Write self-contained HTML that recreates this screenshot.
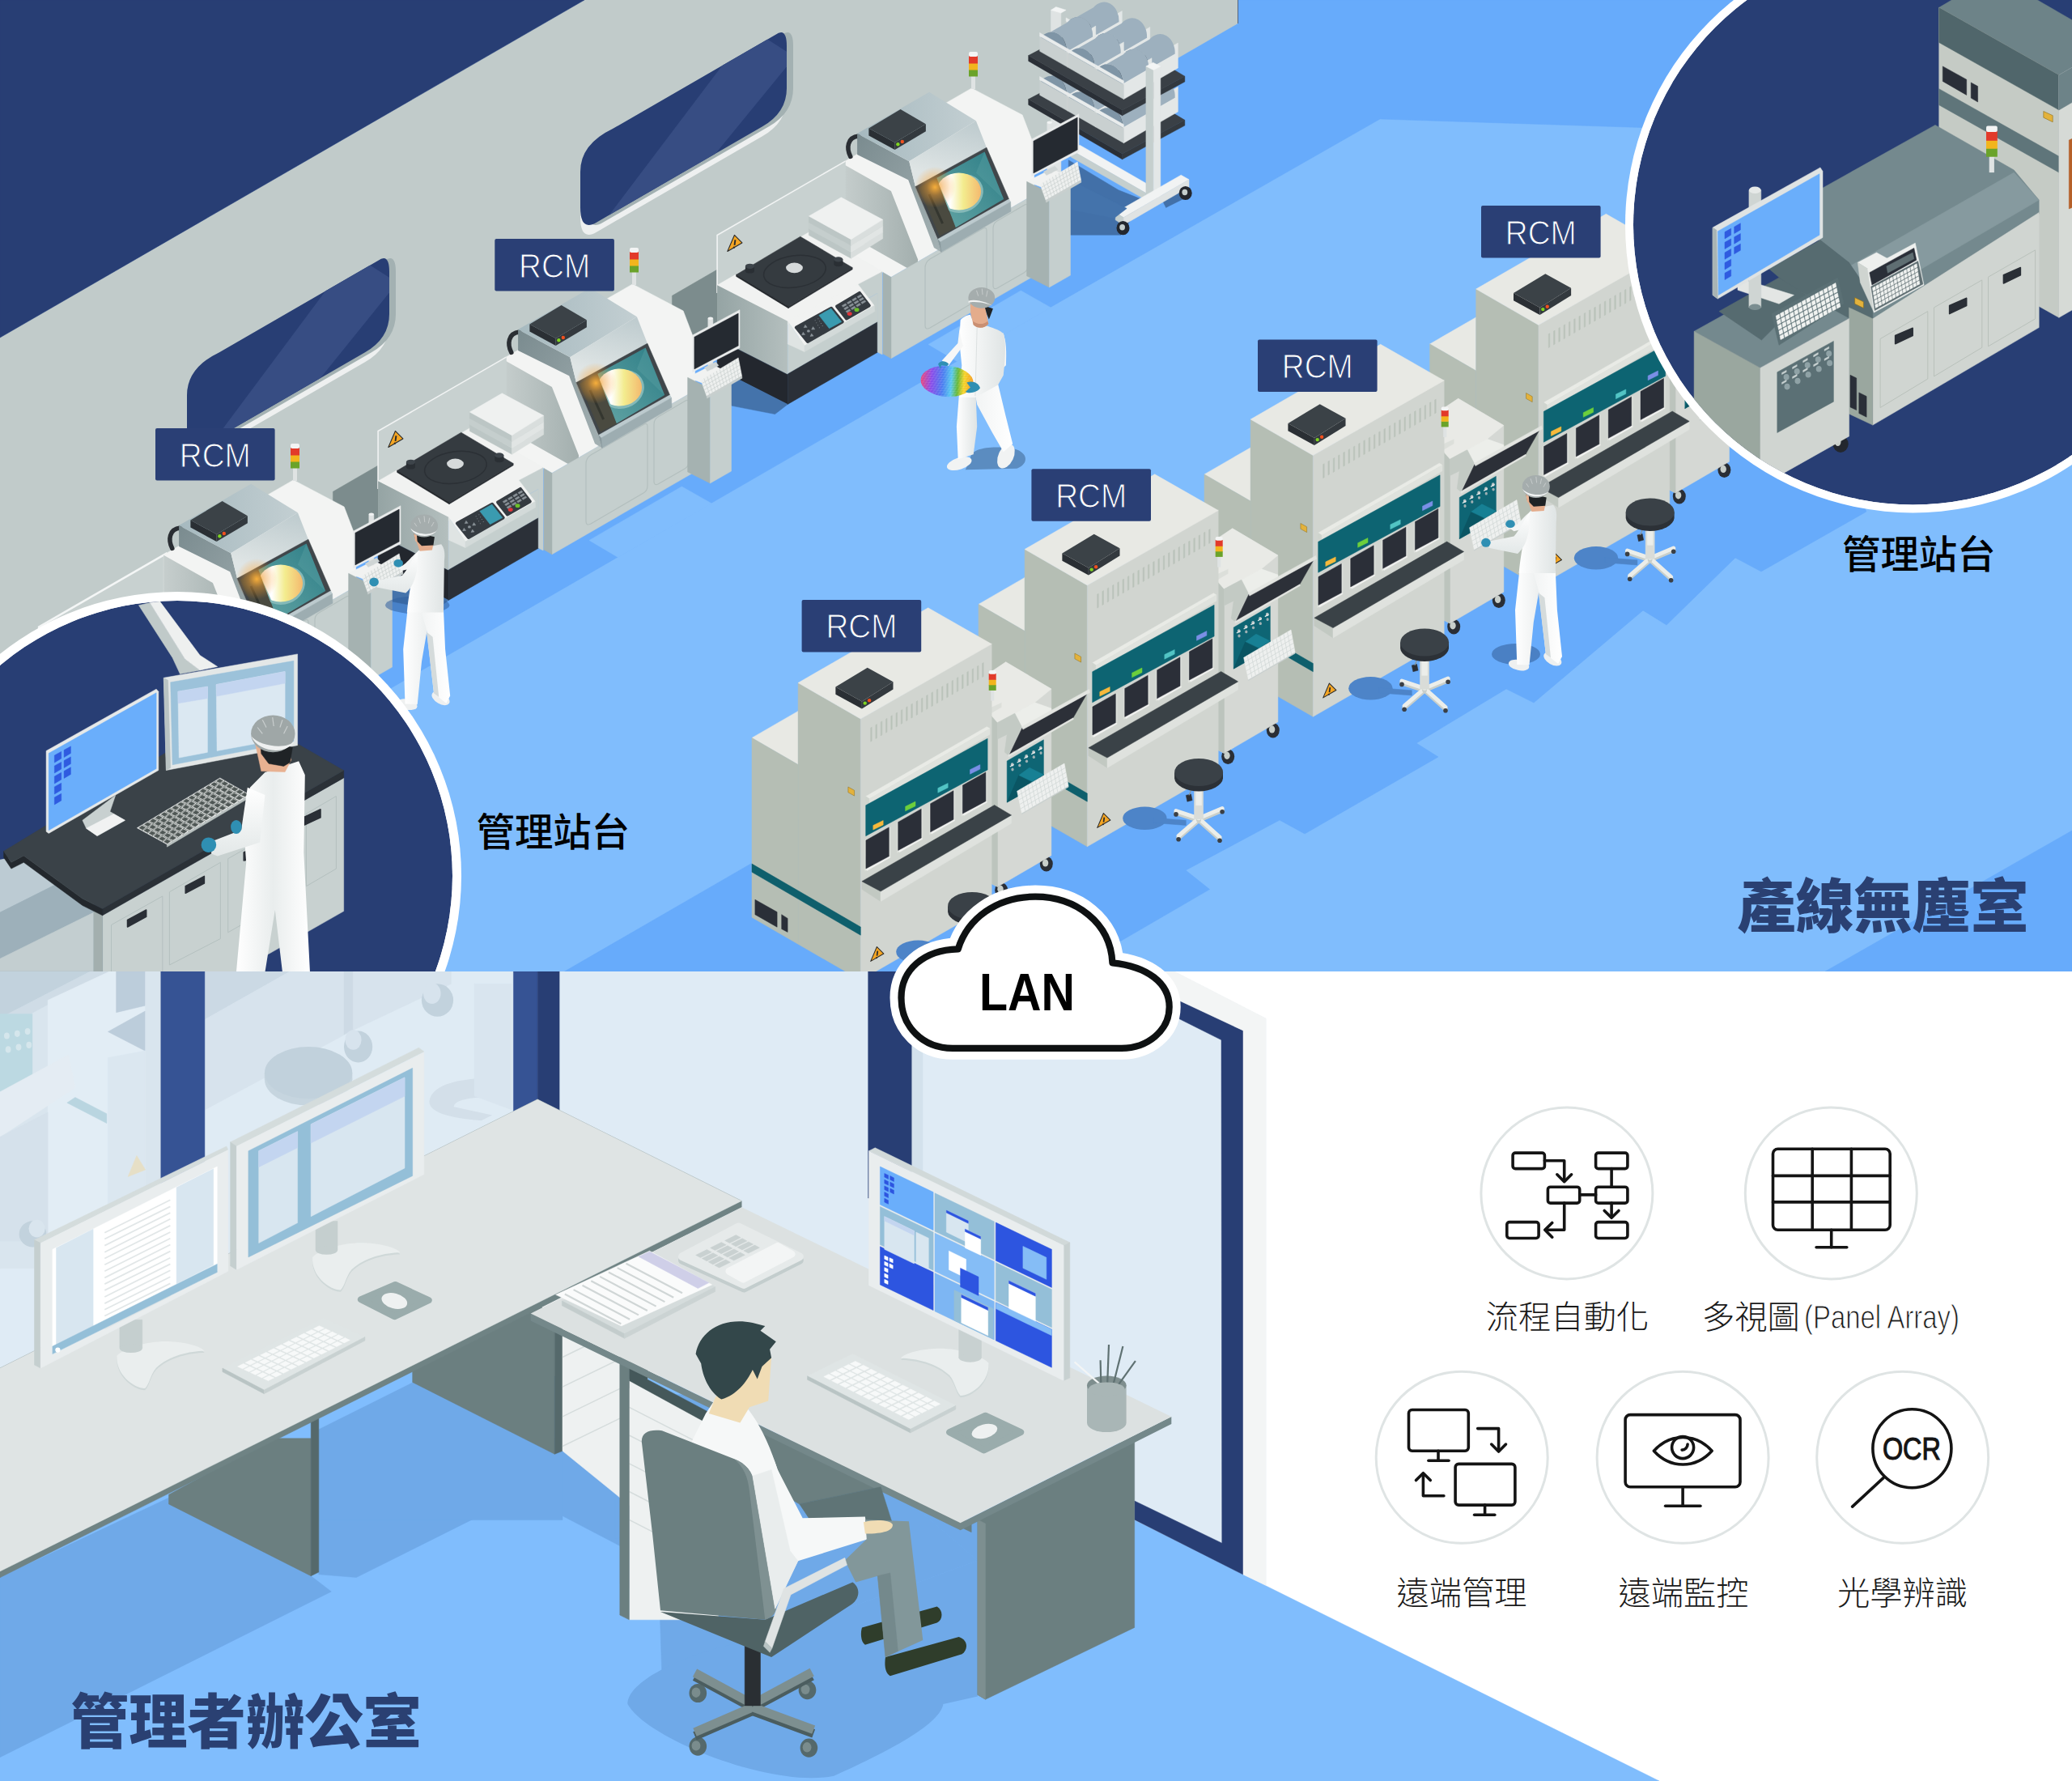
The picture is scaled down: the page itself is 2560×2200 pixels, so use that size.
<!DOCTYPE html>
<html><head><meta charset="utf-8"><title>RCM</title>
<style>html,body{margin:0;padding:0;background:#fff}svg{display:block}
text{font-family:"Liberation Sans","Noto Sans CJK TC",sans-serif}</style></head>
<body><svg width="2560" height="2200" viewBox="0 0 2560 2200">
<defs>
<linearGradient id="gSuit" x1="0" y1="0" x2="1" y2="0"><stop offset="0" stop-color="#ffffff"/><stop offset="1" stop-color="#dfe4e4"/></linearGradient>
<linearGradient id="gSuit2" x1="0" y1="0" x2="1" y2="0"><stop offset="0" stop-color="#f2f4f4"/><stop offset="1" stop-color="#ffffff"/></linearGradient>
<linearGradient id="gSuitB" x1="0" y1="0" x2="1" y2="0"><stop offset="0" stop-color="#ffffff"/><stop offset="0.5" stop-color="#e9eded"/><stop offset="1" stop-color="#ffffff"/></linearGradient>
<linearGradient id="gSuitB2" x1="0" y1="0" x2="0" y2="1"><stop offset="0" stop-color="#ffffff"/><stop offset="1" stop-color="#e3e8e8"/></linearGradient>
<clipPath id="topclip"><rect x="0" y="0" width="2560" height="1200"/></clipPath>
<clipPath id="botclip"><rect x="0" y="1200" width="2560" height="1000"/></clipPath>
<clipPath id="wc481"><path d="M271.0 435.2 L467.0 322.1 Q481.0 312.0 481.0 336.0 L481.0 388.0 Q481.0 418.0 451.0 435.3 L251.0 550.8 Q231.0 562.3 231.0 532.3 L231.0 488.3 Q231.0 454.3 271.0 435.2 Z"/></clipPath>
<clipPath id="wc972"><path d="M757.0 159.1 L958.0 43.1 Q972.0 33.0 972.0 57.0 L972.0 109.0 Q972.0 139.0 942.0 156.3 L737.0 274.7 Q717.0 286.2 717.0 256.2 L717.0 212.2 Q717.0 178.2 757.0 159.1 Z"/></clipPath>
<clipPath id="scrClip"><polygon points="738.0,462.0 797.5,429.5 821.1,487.9 761.5,523.3"/></clipPath>
<clipPath id="wafClip"><polygon points="738.0,463.1 818.0,423.1 818.0,525.0 758.1,508.0"/></clipPath>
<linearGradient id="gRis" x1="0" y1="0" x2="1" y2="0"><stop offset="0" stop-color="#c6cecd"/><stop offset="1" stop-color="#a3afae"/></linearGradient>
<linearGradient id="gHouL" x1="0" y1="0" x2="1" y2="1"><stop offset="0" stop-color="#7a8b8f"/><stop offset="1" stop-color="#a4b1b3"/></linearGradient>
<linearGradient id="gHouT" x1="0" y1="0" x2="1" y2="0"><stop offset="0" stop-color="#a6b9bf"/><stop offset="1" stop-color="#c3cfd2"/></linearGradient>
<linearGradient id="gSlant" x1="0.5" y1="0" x2="0.3" y2="1"><stop offset="0" stop-color="#bfcccf"/><stop offset="0.45" stop-color="#dfe5e5"/><stop offset="1" stop-color="#dfe5e5"/></linearGradient>
<linearGradient id="gTeal" x1="1" y1="0" x2="0" y2="1"><stop offset="0" stop-color="#2c7d86"/><stop offset="1" stop-color="#64a5a5"/></linearGradient>
<linearGradient id="gWaf" x1="0" y1="0" x2="1" y2="0"><stop offset="0" stop-color="#e6ecff"/><stop offset="0.3" stop-color="#ffffff"/><stop offset="0.6" stop-color="#f3ec8e"/><stop offset="1" stop-color="#f4b96e"/></linearGradient>
<radialGradient id="gGlow"><stop offset="0" stop-color="#ffb43c" stop-opacity=".95"/><stop offset="0.4" stop-color="#ffa733" stop-opacity=".45"/><stop offset="1" stop-color="#ff9a20" stop-opacity="0"/></radialGradient>
<linearGradient id="gTL" x1="0" y1="0" x2="1" y2="0"><stop offset="0" stop-color="#95a4a4"/><stop offset="1" stop-color="#b4bfbe"/></linearGradient>
<g id="scope">
<polygon points="621.3,443.2 781.5,350.9 844.2,384.0 858.1,420.5 859.0,482.1 681.9,584.3 672.0,578.6 621.3,549.3" fill="#f3f4f3"  stroke="#f3f4f3" stroke-width=".5"/>
<polygon points="621.2,443.7 681.9,477.9 715.0,562.2 715.0,580.5 621.2,527.4" fill="url(#gRis)" />
<polygon points="682.0,584.4 859.0,482.2 859.0,582.6 682.0,684.8" fill="#c5cfce"  stroke="#c5cfce" stroke-width=".5"/>
<polygon points="672.0,578.6 682.0,584.4 682.0,684.8 672.0,679.0" fill="#a5b2b1"  stroke="#a5b2b1" stroke-width=".5"/>
<path d="M724 573 Q724 566 730 562 L796 524 Q800 522 800 527 L800 600 Q800 606 795 609 L730 647 Q724 650 724 644 Z" fill="none" stroke="#b3bfbe" stroke-width="1.2"/>
<path d="M808 524 Q808 518 813 515 L847 495 Q851 493 851 498 L851 570 Q851 576 846 579 L813 598 Q808 600 808 595 Z" fill="none" stroke="#b3bfbe" stroke-width="1.2"/>
<path d="M 641.8 410.1 C 627.7 411.8 626.5 424.8 631.8 435.4" fill="none" stroke="#2a2e33" stroke-width="5.5" stroke-linecap="round"/>
<polygon points="640.1,407.1 704.3,441.3 712.0,472.6 739.1,536.9 743.9,553.4 735.0,548.1 703.2,464.3 640.1,433.1" fill="url(#gHouL)" />
<polygon points="640.1,407.1 729.1,355.8 786.9,391.2 704.3,441.3" fill="url(#gHouT)" />
<polygon points="704.3,441.3 786.9,391.2 799.9,424.2 828.2,488.5 830.0,503.2 743.9,553.4 739.1,536.9 712.0,472.6" fill="url(#gSlant)" />
<polygon points="712.0,472.6 799.9,424.2 827.6,487.9 739.7,537.4" fill="#40464a"  stroke="#40464a" stroke-width=".5"/>
<polygon points="738.0,462.0 797.5,429.5 821.1,487.9 761.5,523.3" fill="url(#gTeal)" />
<polygon points="797.5,429.5 821.1,487.9 786.9,455.5" fill="#5fa3a5" opacity=".35"/>
<polygon points="716.1,474.3 738.0,462.0 761.5,523.3 742.1,533.3" fill="#4a4a40"  stroke="#4a4a40" stroke-width=".5"/>
<polyline points="729.1,482.0 745.6,518.0" fill="none" stroke="#34362f" stroke-width="3.00" />
<g clip-path="url(#scrClip)">
<ellipse cx="768.6" cy="480.8" rx="27.7" ry="23.6" fill="#84b9b8" transform="rotate(-20 768.6 480.8)"/>
</g>
<g clip-path="url(#wafClip)">
<ellipse cx="765.7" cy="478.5" rx="27.4" ry="23.1" fill="url(#gWaf)" />
</g>
<ellipse cx="736.2" cy="473.2" rx="25.4" ry="25.4" fill="url(#gGlow)" />
<polygon points="739.7,537.4 827.6,487.9 829.6,491.4 742.7,541.0" fill="#bccace"  stroke="#bccace" stroke-width=".5"/>
<polygon points="742.7,541.0 829.6,491.4 830.0,503.2 743.9,553.4" fill="#9dadb1"  stroke="#9dadb1" stroke-width=".5"/>
<polygon points="739.7,537.4 742.7,541.0 743.9,553.4 739.1,536.9" fill="#87979b"  stroke="#87979b" stroke-width=".5"/>
<polygon points="654.4,400.5 686.6,417.9 686.6,427.0 654.4,409.6" fill="#2a2f34"/>
<polygon points="686.6,417.9 724.9,395.3 724.9,404.3 686.6,427.0" fill="#33393e"/>
<polygon points="654.4,400.5 693.6,377.0 724.9,395.3 686.6,417.9" fill="#3b4247"/>
<circle cx="690.4" cy="420.2" r="2.2" fill="#7ed321"/><circle cx="695.8" cy="417.0" r="2.2" fill="#f0501e"/>
</g>
<g id="stand">
<polygon points="899.2,462.0 973.2,499.4 957.5,511.6 903.5,501.1" fill="#4473ab"  stroke="#4473ab" stroke-width=".5"/>
<polygon points="849.6,466.3 880.9,450.6 903.5,462.8 877.4,476.8" fill="#f1f2f1"  stroke="#f1f2f1" stroke-width=".5"/>
<polygon points="849.6,466.3 877.4,480.2 877.4,596.9 849.6,582.9" fill="#a5b2b1"  stroke="#a5b2b1" stroke-width=".5"/>
<polygon points="877.4,480.2 903.5,466.3 903.5,582.1 877.4,596.9" fill="#c5cfce"  stroke="#c5cfce" stroke-width=".5"/>
<polygon points="874.8,393.2 880.9,393.2 880.9,455.9 874.8,455.9" fill="#dfe3e3"  stroke="#dfe3e3" stroke-width=".5"/>
<ellipse cx="877.8" cy="393.2" rx="3.1" ry="1.7" fill="#f1f3f3" />
<polygon points="855.6,414.1 914.0,382.7 914.0,429.7 855.6,459.7" fill="#e9ebeb"  stroke="#e9ebeb" stroke-width=".5"/>
<polygon points="857.9,416.2 912.2,387.1 912.2,427.1 857.9,455.9" fill="#252a31"  stroke="#252a31" stroke-width=".5"/>
<polygon points="870.4,454.1 884.4,447.2 887.9,451.5 873.9,458.5" fill="#cfd5d5"  stroke="#cfd5d5" stroke-width=".5"/>
<polygon points="866.1,469.8 912.2,441.9 916.6,464.6 873.1,489.3" fill="#eef0ef"  stroke="#eef0ef" stroke-width=".5"/>
<polygon points="873.1,489.3 916.6,464.6 916.9,467.2 873.6,492.1" fill="#c8cfce"  stroke="#c8cfce" stroke-width=".5"/>
<polyline points="867.5,473.6 913.1,446.5" fill="none" stroke="#cdd3d2" stroke-width="0.80" />
<polyline points="868.9,477.6 914.0,451.0" fill="none" stroke="#cdd3d2" stroke-width="0.80" />
<polyline points="870.3,481.5 914.8,455.5" fill="none" stroke="#cdd3d2" stroke-width="0.80" />
<polyline points="871.7,485.5 915.7,460.0" fill="none" stroke="#cdd3d2" stroke-width="0.80" />
<polyline points="869.9,467.5 876.7,487.2" fill="none" stroke="#cdd3d2" stroke-width="0.80" />
<polyline points="873.8,465.1 880.4,485.1" fill="none" stroke="#cdd3d2" stroke-width="0.80" />
<polyline points="877.6,462.8 884.0,483.0" fill="none" stroke="#cdd3d2" stroke-width="0.80" />
<polyline points="881.4,460.6 887.5,481.1" fill="none" stroke="#cdd3d2" stroke-width="0.80" />
<polyline points="885.2,458.1 891.2,479.0" fill="none" stroke="#cdd3d2" stroke-width="0.80" />
<polyline points="889.2,455.9 894.8,476.9" fill="none" stroke="#cdd3d2" stroke-width="0.80" />
<polyline points="893.1,453.6 898.5,474.8" fill="none" stroke="#cdd3d2" stroke-width="0.80" />
<polyline points="896.9,451.2 902.1,472.7" fill="none" stroke="#cdd3d2" stroke-width="0.80" />
<polyline points="900.7,448.9 905.6,470.8" fill="none" stroke="#cdd3d2" stroke-width="0.80" />
<polyline points="904.6,446.6 909.3,468.7" fill="none" stroke="#cdd3d2" stroke-width="0.80" />
<polyline points="908.4,444.2 912.9,466.7" fill="none" stroke="#cdd3d2" stroke-width="0.80" />
</g>
<g id="turn">
<polygon points="830.4,365.3 886.1,333.1 886.1,419.3 830.4,448.9" fill="#7c8c8d"  stroke="#7c8c8d" stroke-width=".5"/>
<polygon points="886.1,290.5 1044.5,199.1 1044.5,292.2 886.1,361.9" fill="#c8d1d0"  stroke="#c8d1d0" stroke-width=".5"/>
<polyline points="886.1,361.9 886.1,290.5 1044.5,199.1" fill="none" stroke="#f1f3f3" stroke-width="1.60" />
<polygon points="886.1,352.3 1002.7,284.9 1089.8,334.9 1089.8,337.5 1060.2,352.8 973.2,401.0" fill="#f1f2f1"  stroke="#f1f2f1" stroke-width=".5"/>
<polygon points="886.1,352.3 973.2,396.7 973.2,462.8 886.1,418.4" fill="url(#gTL)" />
<polygon points="886.1,418.4 973.2,462.8 973.2,499.4 886.1,455.0" fill="#23272e"  stroke="#23272e" stroke-width=".5"/>
<polygon points="973.2,424.5 1084.6,361.9 1084.6,397.5 973.2,462.0" fill="#c5cfce"  stroke="#c5cfce" stroke-width=".5"/>
<polygon points="973.2,462.0 1084.6,397.5 1084.6,435.0 973.2,499.4" fill="#2b3038"  stroke="#2b3038" stroke-width=".5"/>
<polygon points="1060.2,351.4 1090.1,335.7 1090.1,437.9 1084.2,435.0 1084.2,361.9 1068.9,370.6" fill="#c5cfce"  stroke="#c5cfce" stroke-width=".5"/>
<polygon points="973.2,396.7 1060.2,351.4 1080.2,377.5 994.0,427.1" fill="#f1f2f1"  stroke="#f1f2f1" stroke-width=".5"/>
<polygon points="973.2,396.7 994.0,427.1 994.0,434.6 973.2,424.9" fill="#dfe4e3"  stroke="#dfe4e3" stroke-width=".5"/>
<polygon points="994.0,427.1 1080.2,377.5 1080.7,384.8 994.0,434.6" fill="#d3dad9"  stroke="#d3dad9" stroke-width=".5"/>
<polygon points="983.9,404.5 1027.1,380.7 1040.7,397.5 997.9,421.9" fill="#353b41" stroke="#353b41" stroke-width="4" stroke-linejoin="round"/>
<polygon points="1011.8,389.4 1026.8,381.0 1039.8,397.5 1024.5,405.7" fill="#3a9bb0"  stroke="#3a9bb0" stroke-width=".5"/>
<polygon points="1034.1,378.4 1061.9,361.9 1073.8,377.5 1045.9,393.5" fill="#353b41" stroke="#353b41" stroke-width="4" stroke-linejoin="round"/>
<ellipse cx="1049.7" cy="387.6" rx="3.0" ry="2.4" fill="#e0353a" />
<ellipse cx="1058.5" cy="382.7" rx="3.0" ry="2.4" fill="#6cbf2a" />
<polygon points="1040.2,377.5 1044.7,374.9 1046.1,376.7 1041.6,379.3" fill="#8a9298"  stroke="#8a9298" stroke-width=".5"/>
<polygon points="1046.4,373.9 1051.0,371.3 1052.4,373.0 1047.8,375.6" fill="#8a9298"  stroke="#8a9298" stroke-width=".5"/>
<polygon points="1052.7,370.2 1057.2,367.6 1058.6,369.3 1054.1,372.0" fill="#8a9298"  stroke="#8a9298" stroke-width=".5"/>
<polygon points="1059.0,366.6 1063.5,363.9 1064.9,365.7 1060.4,368.3" fill="#8a9298"  stroke="#8a9298" stroke-width=".5"/>
<polygon points="1042.6,381.0 1047.1,378.4 1048.5,380.1 1044.0,382.7" fill="#8a9298"  stroke="#8a9298" stroke-width=".5"/>
<polygon points="1048.9,377.4 1053.4,374.7 1054.8,376.5 1050.3,379.1" fill="#8a9298"  stroke="#8a9298" stroke-width=".5"/>
<polygon points="1055.1,373.7 1059.7,371.1 1061.1,372.8 1056.5,375.4" fill="#8a9298"  stroke="#8a9298" stroke-width=".5"/>
<polygon points="1061.4,370.0 1065.9,367.4 1067.3,369.2 1062.8,371.8" fill="#8a9298"  stroke="#8a9298" stroke-width=".5"/>
<polygon points="1045.0,384.5 1049.6,381.9 1051.0,383.6 1046.4,386.2" fill="#8a9298"  stroke="#8a9298" stroke-width=".5"/>
<polygon points="1051.3,380.8 1055.8,378.2 1057.2,380.0 1052.7,382.6" fill="#8a9298"  stroke="#8a9298" stroke-width=".5"/>
<polygon points="1057.6,377.2 1062.1,374.6 1063.5,376.3 1059.0,378.9" fill="#8a9298"  stroke="#8a9298" stroke-width=".5"/>
<polygon points="1063.8,373.5 1068.4,370.9 1069.8,372.6 1065.2,375.3" fill="#8a9298"  stroke="#8a9298" stroke-width=".5"/>
<polygon points="994.9,401.2 997.2,404.3 993.2,404.7" fill="#8a9298"  stroke="#8a9298" stroke-width=".5"/>
<polygon points="1004.5,403.6 1006.8,406.8 1002.7,407.1" fill="#8a9298"  stroke="#8a9298" stroke-width=".5"/>
<polygon points="992.3,410.3 994.6,413.4 990.6,413.7" fill="#8a9298"  stroke="#8a9298" stroke-width=".5"/>
<polygon points="1002.7,412.0 1005.0,415.1 1001.0,415.5" fill="#8a9298"  stroke="#8a9298" stroke-width=".5"/>
<ellipse cx="998.9" cy="408.9" rx="1.9" ry="1.6" fill="#8a9298" />
<ellipse cx="1007.1" cy="395.8" rx="0.5" ry="0.5" fill="#8a9298" />
<ellipse cx="1010.9" cy="393.7" rx="0.5" ry="0.5" fill="#8a9298" />
<ellipse cx="1008.8" cy="398.8" rx="0.5" ry="0.5" fill="#8a9298" />
<ellipse cx="1012.7" cy="396.7" rx="0.5" ry="0.5" fill="#8a9298" />
<ellipse cx="1010.6" cy="401.7" rx="0.5" ry="0.5" fill="#8a9298" />
<ellipse cx="1014.4" cy="399.6" rx="0.5" ry="0.5" fill="#8a9298" />
<ellipse cx="1012.3" cy="404.7" rx="0.5" ry="0.5" fill="#8a9298" />
<ellipse cx="1016.2" cy="402.6" rx="0.5" ry="0.5" fill="#8a9298" />
<polygon points="909.6,339.2 988.8,292.2 1053.2,330.5 974.0,378.4" fill="#353b40"  stroke="#353b40" stroke-width=".5"/>
<polygon points="909.6,339.2 974.0,378.4 974.0,380.7 909.6,341.5" fill="#22262b"  stroke="#22262b" stroke-width=".5"/>
<polygon points="974.0,378.4 1053.2,330.5 1053.2,332.8 974.0,380.7" fill="#2a2f34"  stroke="#2a2f34" stroke-width=".5"/>
<ellipse cx="981.9" cy="335.4" rx="38.6" ry="19.5" fill="none" stroke="#2b3035" stroke-width="1.5" transform="rotate(-8 981.9 335.4)"/>
<ellipse cx="981.5" cy="330.9" rx="10.4" ry="6.3" fill="#d6dadb" />
<path d="M920.9 328.8 v6.1 a5.6 3.1 0 0 0 11.1 0 v-6.1 z" fill="#2a2f34"/>
<ellipse cx="926.5" cy="328.8" rx="5.6" ry="3.1" fill="#3d444a" />
<path d="M1030.3 320.4 v6.1 a5.6 3.1 0 0 0 11.1 0 v-6.1 z" fill="#2a2f34"/>
<ellipse cx="1035.8" cy="320.4" rx="5.6" ry="3.1" fill="#3d444a" />
<polygon points="999.3,282.6 1051.5,311.4 1051.5,319.2 999.3,290.5" fill="#bcc6c5"  stroke="#bcc6c5" stroke-width=".5"/>
<polygon points="1051.5,311.4 1090.7,287.0 1090.7,294.8 1051.5,319.2" fill="#d9dedd"  stroke="#d9dedd" stroke-width=".5"/>
<polygon points="999.3,274.8 1051.5,303.5 1051.5,311.4 999.3,282.6" fill="#c5cecd"  stroke="#c5cecd" stroke-width=".5"/>
<polygon points="1051.5,303.5 1090.7,279.2 1090.7,287.0 1051.5,311.4" fill="#e1e5e4"  stroke="#e1e5e4" stroke-width=".5"/>
<polygon points="999.3,267.0 1051.5,295.7 1051.5,303.5 999.3,274.8" fill="#bcc6c5"  stroke="#bcc6c5" stroke-width=".5"/>
<polygon points="1051.5,295.7 1090.7,271.3 1090.7,279.2 1051.5,303.5" fill="#d9dedd"  stroke="#d9dedd" stroke-width=".5"/>
<polygon points="999.3,267.0 1039.3,243.8 1090.7,271.3 1051.5,295.7" fill="#eff1f0"  stroke="#eff1f0" stroke-width=".5"/>
<g transform="translate(907.4,300.9) scale(0.95)"><polygon points="0,-11 10,-1 -9,10" fill="#f5a623" stroke="#2b2b2b" stroke-width="1.2" stroke-linejoin="round"/><rect x="-0.6" y="-5" width="2" height="7" fill="#2b2b2b" transform="rotate(8)"/><circle cx="-0.5" cy="5" r="1.2" fill="#2b2b2b"/></g>
</g>
<g id="smtT">
<polygon points="1209.0,746.4 1266.1,713.4 1266.1,779.5" fill="#e8e9e4"  stroke="#e8e9e4" stroke-width=".5"/>
<polygon points="1209.0,746.4 1266.1,779.5 1266.1,1001.3 1209.0,968.2" fill="#b5beb4"  stroke="#b5beb4" stroke-width=".5"/>
<polygon points="1266.1,678.5 1343.3,723.0 1343.3,1045.8 1266.1,1001.3" fill="#b5beb4"  stroke="#b5beb4" stroke-width=".5"/>
<polygon points="1343.3,723.0 1505.2,629.7 1505.2,952.5 1343.3,1045.8" fill="#d1d5d0"  stroke="#d1d5d0" stroke-width=".5"/>
<polygon points="1266.1,678.5 1426.7,585.8 1505.2,630.6 1343.3,723.0" fill="#e8e9e4"  stroke="#e8e9e4" stroke-width=".5"/>
<polygon points="1209.0,902.1 1343.3,980.0 1343.3,990.2 1209.0,912.3" fill="#0e5f6c"  stroke="#0e5f6c" stroke-width=".5"/>
<polygon points="1327.9,807.0 1335.6,811.3 1335.6,818.1 1327.9,813.8" fill="#e3b23c" stroke="#8a6d1d" stroke-width=".5"/>
<polygon points="1355.7,734.1 1357.2,733.2 1357.2,750.2 1355.7,751.1" fill="#bac3ba"  stroke="#bac3ba" stroke-width=".5"/>
<polygon points="1361.9,730.5 1363.5,729.6 1363.5,746.5 1361.9,747.5" fill="#bac3ba"  stroke="#bac3ba" stroke-width=".5"/>
<polygon points="1368.2,726.9 1369.8,725.9 1369.8,742.9 1368.2,743.9" fill="#bac3ba"  stroke="#bac3ba" stroke-width=".5"/>
<polygon points="1374.5,723.2 1376.0,722.3 1376.0,739.3 1374.5,740.2" fill="#bac3ba"  stroke="#bac3ba" stroke-width=".5"/>
<polygon points="1380.8,719.6 1382.3,718.7 1382.3,735.7 1380.8,736.6" fill="#bac3ba"  stroke="#bac3ba" stroke-width=".5"/>
<polygon points="1387.0,716.0 1388.6,715.1 1388.6,732.1 1387.0,733.0" fill="#bac3ba"  stroke="#bac3ba" stroke-width=".5"/>
<polygon points="1393.3,712.4 1394.8,711.5 1394.8,728.4 1393.3,729.4" fill="#bac3ba"  stroke="#bac3ba" stroke-width=".5"/>
<polygon points="1399.6,708.8 1401.1,707.8 1401.1,724.8 1399.6,725.8" fill="#bac3ba"  stroke="#bac3ba" stroke-width=".5"/>
<polygon points="1405.8,705.1 1407.4,704.2 1407.4,721.2 1405.8,722.1" fill="#bac3ba"  stroke="#bac3ba" stroke-width=".5"/>
<polygon points="1412.1,701.5 1413.7,700.6 1413.7,717.6 1412.1,718.5" fill="#bac3ba"  stroke="#bac3ba" stroke-width=".5"/>
<polygon points="1418.4,697.9 1419.9,697.0 1419.9,714.0 1418.4,714.9" fill="#bac3ba"  stroke="#bac3ba" stroke-width=".5"/>
<polygon points="1424.6,694.3 1426.2,693.4 1426.2,710.3 1424.6,711.3" fill="#bac3ba"  stroke="#bac3ba" stroke-width=".5"/>
<polygon points="1430.9,690.7 1432.5,689.7 1432.5,706.7 1430.9,707.7" fill="#bac3ba"  stroke="#bac3ba" stroke-width=".5"/>
<polygon points="1437.2,687.0 1438.7,686.1 1438.7,703.1 1437.2,704.0" fill="#bac3ba"  stroke="#bac3ba" stroke-width=".5"/>
<polygon points="1443.5,683.4 1445.0,682.5 1445.0,699.5 1443.5,700.4" fill="#bac3ba"  stroke="#bac3ba" stroke-width=".5"/>
<polygon points="1449.7,679.8 1451.3,678.9 1451.3,695.9 1449.7,696.8" fill="#bac3ba"  stroke="#bac3ba" stroke-width=".5"/>
<polygon points="1456.0,676.2 1457.5,675.3 1457.5,692.2 1456.0,693.2" fill="#bac3ba"  stroke="#bac3ba" stroke-width=".5"/>
<polygon points="1462.3,672.6 1463.8,671.6 1463.8,688.6 1462.3,689.6" fill="#bac3ba"  stroke="#bac3ba" stroke-width=".5"/>
<polygon points="1468.5,668.9 1470.1,668.0 1470.1,685.0 1468.5,685.9" fill="#bac3ba"  stroke="#bac3ba" stroke-width=".5"/>
<polygon points="1474.8,665.3 1476.4,664.4 1476.4,681.4 1474.8,682.3" fill="#bac3ba"  stroke="#bac3ba" stroke-width=".5"/>
<polygon points="1481.1,661.7 1482.6,660.8 1482.6,677.8 1481.1,678.7" fill="#bac3ba"  stroke="#bac3ba" stroke-width=".5"/>
<polygon points="1487.4,658.1 1488.9,657.2 1488.9,674.1 1487.4,675.1" fill="#bac3ba"  stroke="#bac3ba" stroke-width=".5"/>
<polygon points="1493.6,654.5 1495.2,653.5 1495.2,670.5 1493.6,671.5" fill="#bac3ba"  stroke="#bac3ba" stroke-width=".5"/>
<polygon points="1349.7,818.8 1499.3,732.7 1503.0,734.9 1354.1,821.8" fill="#e9ebe6"  stroke="#e9ebe6" stroke-width=".5"/>
<polygon points="1349.7,818.8 1354.1,821.8 1354.1,829.8 1349.7,825.7" fill="#cfd4ce"  stroke="#cfd4ce" stroke-width=".5"/>
<polygon points="1354.1,821.8 1503.0,734.9 1503.0,742.2 1354.1,829.8" fill="#dfe2dd"  stroke="#dfe2dd" stroke-width=".5"/>
<polygon points="1349.7,829.8 1500.1,747.3 1500.1,786.0 1349.7,867.7" fill="#0d6472"  stroke="#0d6472" stroke-width=".5"/>
<polygon points="1358.8,854.6 1371.2,848.5 1371.2,854.0 1358.8,860.1" fill="#f6b93b"  stroke="#f6b93b" stroke-width=".5"/>
<polygon points="1398.6,831.2 1411.0,825.1 1411.0,830.7 1398.6,836.8" fill="#6ccf3c"  stroke="#6ccf3c" stroke-width=".5"/>
<polygon points="1438.8,808.6 1451.2,802.5 1451.2,808.0 1438.8,814.2" fill="#52c4c4"  stroke="#52c4c4" stroke-width=".5"/>
<polygon points="1478.5,785.7 1490.9,779.6 1490.9,785.1 1478.5,791.2" fill="#7a8fe6"  stroke="#7a8fe6" stroke-width=".5"/>
<polygon points="1468.2,805.0 1499.6,788.2 1499.6,826.1 1468.2,843.2" fill="#dde0db"  stroke="#dde0db" stroke-width=".5"/>
<polygon points="1469.4,840.0 1497.9,824.7 1499.6,825.8 1470.9,842.3" fill="#f0f1ef"  stroke="#f0f1ef" stroke-width=".5"/>
<polygon points="1469.4,805.0 1497.9,788.9 1497.9,824.7 1469.4,840.0" fill="#2b2f38"  stroke="#2b2f38" stroke-width=".5"/>
<polygon points="1428.4,827.7 1459.8,810.8 1459.8,848.8 1428.4,866.0" fill="#dde0db"  stroke="#dde0db" stroke-width=".5"/>
<polygon points="1429.6,862.8 1458.0,847.3 1459.8,848.5 1431.0,865.1" fill="#f0f1ef"  stroke="#f0f1ef" stroke-width=".5"/>
<polygon points="1429.6,827.7 1458.0,811.7 1458.0,847.3 1429.6,862.8" fill="#2b2f38"  stroke="#2b2f38" stroke-width=".5"/>
<polygon points="1388.5,850.4 1419.9,833.6 1419.9,871.5 1388.5,888.6" fill="#dde0db"  stroke="#dde0db" stroke-width=".5"/>
<polygon points="1389.7,885.4 1418.2,870.1 1419.9,871.2 1391.2,887.7" fill="#f0f1ef"  stroke="#f0f1ef" stroke-width=".5"/>
<polygon points="1389.7,850.4 1418.2,834.3 1418.2,870.1 1389.7,885.4" fill="#2b2f38"  stroke="#2b2f38" stroke-width=".5"/>
<polygon points="1348.7,873.0 1380.1,856.4 1380.1,894.3 1348.7,911.2" fill="#dde0db"  stroke="#dde0db" stroke-width=".5"/>
<polygon points="1349.9,908.0 1378.3,892.8 1380.1,894.0 1351.3,910.4" fill="#f0f1ef"  stroke="#f0f1ef" stroke-width=".5"/>
<polygon points="1349.9,873.0 1378.3,856.9 1378.3,892.8 1349.9,908.0" fill="#2b2f38"  stroke="#2b2f38" stroke-width=".5"/>
<polygon points="1344.9,923.7 1368.0,936.1 1368.0,948.5 1344.9,933.6" fill="#c2c9c2"  stroke="#c2c9c2" stroke-width=".5"/>
<polygon points="1368.0,936.1 1529.6,841.9 1529.6,852.1 1368.0,948.5" fill="#dfe2de"  stroke="#dfe2de" stroke-width=".5"/>
<polygon points="1344.9,923.7 1508.6,829.5 1529.6,841.9 1368.0,936.1" fill="#3a4247"  stroke="#3a4247" stroke-width=".5"/>
<g transform="translate(1363.4,1013.9) scale(0.85)"><polygon points="0,-11 10,-1 -9,10" fill="#f5a623" stroke="#2b2b2b" stroke-width="1.2" stroke-linejoin="round"/><rect x="-0.6" y="-5" width="2" height="7" fill="#2b2b2b" transform="rotate(8)"/><circle cx="-0.5" cy="5" r="1.2" fill="#2b2b2b"/></g>
<polygon points="1312.4,683.4 1344.9,701.4 1344.9,710.6 1312.4,692.7" fill="#2a2f34"/>
<polygon points="1344.9,701.4 1383.5,677.3 1383.5,686.5 1344.9,710.6" fill="#33393e"/>
<polygon points="1312.4,683.4 1351.7,659.7 1383.5,677.3 1344.9,701.4" fill="#3b4247"/>
<circle cx="1348.7" cy="703.6" r="2.2" fill="#7ed321"/><circle cx="1354.1" cy="700.2" r="2.2" fill="#f0501e"/>
</g>
<g id="smtM">
<ellipse cx="1517.2" cy="934.6" rx="8.0" ry="9.3" fill="#2a2e35" />
<ellipse cx="1516.0" cy="933.3" rx="3.7" ry="4.6" fill="#c9cfca" />
<ellipse cx="1572.8" cy="902.1" rx="8.0" ry="9.3" fill="#2a2e35" />
<ellipse cx="1571.6" cy="900.9" rx="3.7" ry="4.6" fill="#c9cfca" />
<polygon points="1504.2,664.8 1522.7,652.8 1578.9,686.0 1578.9,891.8 1512.5,930.5 1504.2,926.1" fill="#d5d8d4"  stroke="#d5d8d4" stroke-width=".5"/>
<polygon points="1504.2,718.1 1512.5,727.6 1512.5,930.5 1504.2,926.1" fill="#bcc4bd"  stroke="#bcc4bd" stroke-width=".5"/>
<polygon points="1504.2,665.5 1522.7,652.8 1578.9,686.0 1558.5,702.8 1534.4,715.9 1512.5,727.6 1504.2,718.1" fill="#e9eae6"  stroke="#e9eae6" stroke-width=".5"/>
<polygon points="1534.4,715.9 1558.5,702.8 1578.9,710.1 1578.9,721.8 1543.1,733.4" fill="#eceeea"  stroke="#eceeea" stroke-width=".5"/>
<polygon points="1512.5,727.6 1533.6,716.2 1542.4,733.1 1525.6,767.7 1521.2,764.1 1524.2,742.2 1512.5,748.0" fill="#c3cac4"  stroke="#c3cac4" stroke-width=".5"/>
<polygon points="1527.1,767.3 1543.1,733.7 1623.4,691.1 1605.9,721.8" fill="#2c3038"  stroke="#2c3038" stroke-width=".5"/>
<polygon points="1542.4,732.7 1625.6,686.4 1626.6,690.4 1543.9,736.1" fill="#e3e5e1"  stroke="#e3e5e1" stroke-width=".5"/>
<polygon points="1525.6,767.7 1605.9,721.8 1606.4,723.5 1526.4,769.9" fill="#e3e5e1"  stroke="#e3e5e1" stroke-width=".5"/>
<polygon points="1524.2,775.0 1569.4,748.8 1569.4,800.6 1524.2,826.1" fill="#0e6574"  stroke="#0e6574" stroke-width=".5"/>
<polygon points="1538.8,792.6 1551.9,783.1 1569.4,791.8 1569.4,800.6 1524.2,826.1" fill="#0a5563"  stroke="#0a5563" stroke-width=".5"/>
<polygon points="1538.8,792.6 1551.9,783.1 1569.4,791.8 1555.5,800.6" fill="#178094"  stroke="#178094" stroke-width=".5"/>
<ellipse cx="1530.7" cy="779.4" rx="1.9" ry="2.2" fill="#b9c4c6" />
<ellipse cx="1531.0" cy="785.5" rx="1.6" ry="1.9" fill="#9fb0b3" />
<polyline points="1527.8,782.0 1532.5,779.4" fill="none" stroke="#e9eeee" stroke-width="1.20" />
<ellipse cx="1539.5" cy="774.3" rx="1.9" ry="2.2" fill="#b9c4c6" />
<ellipse cx="1539.8" cy="780.4" rx="1.6" ry="1.9" fill="#9fb0b3" />
<polyline points="1536.6,776.9 1541.2,774.3" fill="none" stroke="#e9eeee" stroke-width="1.20" />
<ellipse cx="1548.2" cy="769.2" rx="1.9" ry="2.2" fill="#b9c4c6" />
<ellipse cx="1548.5" cy="775.3" rx="1.6" ry="1.9" fill="#9fb0b3" />
<polyline points="1545.3,771.8 1550.0,769.2" fill="none" stroke="#e9eeee" stroke-width="1.20" />
<ellipse cx="1557.0" cy="764.1" rx="1.9" ry="2.2" fill="#b9c4c6" />
<ellipse cx="1557.3" cy="770.2" rx="1.6" ry="1.9" fill="#9fb0b3" />
<polyline points="1554.1,766.7 1558.8,764.1" fill="none" stroke="#e9eeee" stroke-width="1.20" />
<ellipse cx="1565.8" cy="759.0" rx="1.9" ry="2.2" fill="#b9c4c6" />
<ellipse cx="1566.1" cy="765.1" rx="1.6" ry="1.9" fill="#9fb0b3" />
<polyline points="1562.8,761.6 1567.5,759.0" fill="none" stroke="#e9eeee" stroke-width="1.20" />
<polygon points="1542.4,839.3 1600.1,805.7 1600.1,807.2 1542.4,840.7" fill="#c8cfce"  stroke="#c8cfce" stroke-width=".5"/>
<polygon points="1536.6,812.3 1595.0,778.0 1600.1,805.7 1542.4,839.3" fill="#eef0ef"  stroke="#eef0ef" stroke-width=".5"/>
<polyline points="1537.7,817.7 1596.0,783.5" fill="none" stroke="#cfd5d4" stroke-width="0.70" />
<polyline points="1538.9,823.1 1597.0,789.1" fill="none" stroke="#cfd5d4" stroke-width="0.70" />
<polyline points="1540.1,828.5 1598.0,794.6" fill="none" stroke="#cfd5d4" stroke-width="0.70" />
<polyline points="1541.2,833.9 1599.1,800.1" fill="none" stroke="#cfd5d4" stroke-width="0.70" />
<polyline points="1541.1,809.6 1546.8,836.7" fill="none" stroke="#cfd5d4" stroke-width="0.70" />
<polyline points="1545.6,807.0 1551.3,834.1" fill="none" stroke="#cfd5d4" stroke-width="0.70" />
<polyline points="1550.0,804.3 1555.7,831.5" fill="none" stroke="#cfd5d4" stroke-width="0.70" />
<polyline points="1554.5,801.7 1560.2,828.9" fill="none" stroke="#cfd5d4" stroke-width="0.70" />
<polyline points="1559.0,799.1 1564.6,826.4" fill="none" stroke="#cfd5d4" stroke-width="0.70" />
<polyline points="1563.5,796.4 1569.0,823.8" fill="none" stroke="#cfd5d4" stroke-width="0.70" />
<polyline points="1568.0,793.8 1573.5,821.2" fill="none" stroke="#cfd5d4" stroke-width="0.70" />
<polyline points="1572.5,791.2 1577.9,818.6" fill="none" stroke="#cfd5d4" stroke-width="0.70" />
<polyline points="1577.0,788.5 1582.3,816.0" fill="none" stroke="#cfd5d4" stroke-width="0.70" />
<polyline points="1581.5,785.9 1586.8,813.4" fill="none" stroke="#cfd5d4" stroke-width="0.70" />
<polyline points="1586.0,783.2 1591.2,810.9" fill="none" stroke="#cfd5d4" stroke-width="0.70" />
<polyline points="1590.5,780.6 1595.6,808.3" fill="none" stroke="#cfd5d4" stroke-width="0.70" />
<polygon points="1492.3,703.1 1504.5,708.6 1504.5,715.9 1492.3,710.1" fill="#cfd4ce"  stroke="#cfd4ce" stroke-width=".5"/>
<polygon points="1504.5,708.6 1517.2,702.8 1517.2,708.6 1504.5,715.9" fill="#dcdfda"  stroke="#dcdfda" stroke-width=".5"/>
<polygon points="1492.3,703.1 1504.5,697.2 1517.2,702.8 1504.5,708.6" fill="#e9eae6"  stroke="#e9eae6" stroke-width=".5"/>
</g>
<g id="stool">
<ellipse cx="1414.4" cy="1010.8" rx="27.2" ry="14.2" fill="#4d84c8" />
<polygon points="1425.2,1010.2 1465.3,1013.3 1465.3,1019.5 1425.2,1016.4" fill="#4d84c8"  stroke="#4d84c8" stroke-width=".5"/>
<polyline points="1481.1,1013.3 1453.0,1004.1" fill="none" stroke="#c9cfca" stroke-width="5.50" stroke-linecap="round"/>
<polyline points="1481.1,1010.8 1453.0,1001.6" fill="none" stroke="#eceeea" stroke-width="5.00" stroke-linecap="round"/>
<ellipse cx="1453.0" cy="1005.9" rx="2.8" ry="2.8" fill="#3a3f45" />
<polyline points="1481.1,1013.3 1510.1,1001.0" fill="none" stroke="#c9cfca" stroke-width="5.50" stroke-linecap="round"/>
<polyline points="1481.1,1010.8 1510.1,998.5" fill="none" stroke="#eceeea" stroke-width="5.00" stroke-linecap="round"/>
<ellipse cx="1510.1" cy="1002.8" rx="2.8" ry="2.8" fill="#3a3f45" />
<polyline points="1481.1,1013.3 1456.1,1034.9" fill="none" stroke="#c9cfca" stroke-width="5.50" stroke-linecap="round"/>
<polyline points="1481.1,1010.8 1456.1,1032.5" fill="none" stroke="#eceeea" stroke-width="5.00" stroke-linecap="round"/>
<ellipse cx="1456.1" cy="1036.8" rx="2.8" ry="2.8" fill="#3a3f45" />
<polyline points="1481.1,1013.3 1507.0,1036.5" fill="none" stroke="#c9cfca" stroke-width="5.50" stroke-linecap="round"/>
<polyline points="1481.1,1010.8 1507.0,1034.0" fill="none" stroke="#eceeea" stroke-width="5.00" stroke-linecap="round"/>
<ellipse cx="1507.0" cy="1038.3" rx="2.8" ry="2.8" fill="#3a3f45" />
<polyline points="1481.1,1013.3 1481.1,994.8" fill="none" stroke="#c9cfca" stroke-width="5.50" stroke-linecap="round"/>
<polyline points="1481.1,1010.8 1481.1,992.3" fill="none" stroke="#eceeea" stroke-width="5.00" stroke-linecap="round"/>
<ellipse cx="1481.1" cy="996.6" rx="2.8" ry="2.8" fill="#3a3f45" />
<polygon points="1475.5,973.2 1486.6,973.2 1486.6,1011.8 1475.5,1011.8" fill="#d9dcd8"  stroke="#d9dcd8" stroke-width=".5"/>
<polygon points="1477.7,973.2 1484.5,973.2 1484.5,994.8 1477.7,994.8" fill="#eceeea"  stroke="#eceeea" stroke-width=".5"/>
<polygon points="1465.3,982.4 1471.5,980.9 1473.1,988.6 1466.9,990.2" fill="#2a2e35"  stroke="#2a2e35" stroke-width=".5"/>
<polyline points="1469.0,982.4 1472.1,974.7" fill="none" stroke="#8c979a" stroke-width="1.20" />
<path d="M1451.1 954.6 v6.8 a30.0 17.0 0 0 0 59.9 0 v-6.8 z" fill="#2c3137"/>
<ellipse cx="1481.1" cy="954.0" rx="30.0" ry="17.0" fill="#3a4147" />
</g>
<linearGradient id="gRainbow" x1="0" y1="0" x2="1" y2="0"><stop offset="0" stop-color="#e8467c"/><stop offset="0.2" stop-color="#8a4be8"/><stop offset="0.42" stop-color="#4a7df0"/><stop offset="0.58" stop-color="#56c8f0"/><stop offset="0.7" stop-color="#63b83a"/><stop offset="0.82" stop-color="#f5d327"/><stop offset="1" stop-color="#f59a23"/></linearGradient>
<pattern id="gWafGrid" width="4" height="3" patternUnits="userSpaceOnUse" patternTransform="skewX(-30)"><path d="M0 0H4M0 0V3" stroke="#ffffff" stroke-opacity=".35" stroke-width=".5" fill="none"/></pattern>
<linearGradient id="gSuitArm" x1="0" y1="0" x2="0" y2="1"><stop offset="0" stop-color="#ffffff"/><stop offset="1" stop-color="#e3e8e8"/></linearGradient>
<g id="pstand">
<ellipse cx="-21.2" cy="-6.1" rx="12.9" ry="6.4" fill="#eef0f0" transform="rotate(12 -21.2 -6.1)"/>
<ellipse cx="20.5" cy="-13.6" rx="12.1" ry="6.8" fill="#eef0f0" transform="rotate(30 20.5 -13.6)"/>
<path d="M -20.5 -122.8 L -25.8 -74.3 L -23.5 -6.8 L -8.3 -6.1 L -3.0 -59.1 L 3.8 -98.6 L 23.5 -122.8 Z" fill="url(#gSuit)" />
<path d="M 3.0 -98.6 L 12.1 -19.7 L 27.3 -7.6 L 32.2 -16.7 L 26.1 -74.3 L 24.0 -122.8 L -3.0 -119.8 Z" fill="url(#gSuit2)" />
<path d="M 3.0 -95.5 L 12.1 -19.7 L 18.2 -15.2 L 10.6 -89.5 Z" fill="#d5dbdb" />
<path d="M -7.6 -195.9 C 0.0 -198.7 12.1 -202.5 21.2 -204.0 C 25.8 -198.7 25.8 -191.1 24.9 -183.5 L 24.0 -119.8 L -21.2 -119.8 C -19.7 -135.0 -17.4 -150.1 -15.2 -159.2 Z" fill="url(#gSuit)" />
<path d="M -6.8 -195.9 C -15.2 -189.6 -21.2 -180.5 -27.3 -177.4 L -33.4 -185.0 L -35.6 -177.4 L -27.3 -171.4 L -15.2 -174.4 Z" fill="#f3f5f5" />
<path d="M -7.6 -195.6 C -15.2 -185.0 -21.2 -171.4 -27.3 -165.3 L -56.9 -159.2 L -58.4 -150.9 L -22.7 -143.8 C -15.2 -150.1 -11.4 -159.2 -9.1 -171.4 Z" fill="url(#gSuitArm)" />
<ellipse cx="-61.9" cy="-157.4" rx="5.8" ry="5.5" fill="#2f8fb3" />
<ellipse cx="-31.8" cy="-180.5" rx="5.8" ry="4.9" fill="#2f8fb3" />
<path d="M -11.4 -212.3 L -5.3 -195.6 L 9.9 -196.8 L 11.4 -204.0 Z" fill="#e4ac8c" />
<path d="M -12.9 -219.1 L 12.9 -213.1 L 11.4 -202.9 L -3.0 -202.0 L -10.9 -210.0 Z" fill="#1e2225" />
<path d="M -12.9 -218.4 L -9.1 -216.9 L -8.3 -206.2 L -10.9 -207.8 Z" fill="#e8b191" />
<ellipse cx="0.0" cy="-226.7" rx="17.0" ry="14.0" fill="#a5adad" />
<path d="M -16.7 -223.7 C -12.1 -212.3 10.6 -210.8 16.7 -222.2 C 12.1 -214.6 -9.1 -214.6 -16.7 -223.7 Z" fill="#f1f3f3" />
<polyline points="-6.8,-236.6 -4.5,-229.8" fill="none" stroke="#c9cece" stroke-width="0.90" />
<polyline points="0.0,-238.9 0.8,-231.3" fill="none" stroke="#c9cece" stroke-width="0.90" />
<polyline points="6.8,-236.6 5.3,-229.8" fill="none" stroke="#c9cece" stroke-width="0.90" />
<polyline points="-12.1,-230.5 -9.1,-226.0" fill="none" stroke="#c9cece" stroke-width="0.90" />
<polyline points="12.1,-231.3 9.1,-226.0" fill="none" stroke="#c9cece" stroke-width="0.90" />
</g>
<g id="pwalk">
<path d="M -12.1 -6.1 C -12.1 -19.7 15.2 -22.7 42.5 -18.2 C 59.2 -13.6 60.7 0.0 45.5 6.1 L -18.2 7.6 Z" fill="#5b8cc0" />
<ellipse cx="-25.8" cy="0.0" rx="15.9" ry="7.3" fill="#f1f3f3" transform="rotate(-18 -25.8 0.0)"/>
<ellipse cx="31.9" cy="-9.1" rx="9.4" ry="15.9" fill="#f1f3f3" transform="rotate(25 31.9 -9.1)"/>
<path d="M -6.1 -84.9 L 22.0 -98.6 L 31.1 -60.7 L 40.2 -24.3 L 28.8 -14.4 L 15.2 -37.9 L -3.8 -72.8 Z" fill="url(#gSuit2)" />
<path d="M -26.1 -84.9 L -5.3 -83.4 L -3.8 -45.5 L -8.3 -11.4 L -27.3 -5.3 L -29.1 -45.5 Z" fill="url(#gSuit)" />
<path d="M 28.1 -161.5 C 32.6 -151.6 32.6 -136.5 31.9 -121.3 L 0.0 -91.7 L -6.8 -100.8 L 18.2 -121.3 L 19.7 -151.6 Z" fill="#f6f7f7" />
<path d="M -24.3 -177.4 C -19.7 -182.0 -15.2 -183.5 -12.1 -183.5 L -6.1 -169.8 L 9.1 -169.8 C 18.2 -166.8 25.8 -163.8 29.1 -160.0 C 32.6 -148.6 30.3 -121.3 28.8 -109.2 L 22.0 -97.1 L -6.1 -81.6 L -26.1 -81.9 L -22.7 -121.3 L -25.8 -151.6 Z" fill="url(#gSuit)" />
<polyline points="-3.8,-168.3 -6.1,-83.4" fill="none" stroke="#d5dbdb" stroke-width="0.80" />
<path d="M -24.3 -177.1 C -26.5 -166.8 -24.3 -154.7 -20.9 -145.6 L -39.4 -120.6 L -47.3 -127.1 L -27.6 -148.6 Z" fill="#f6f7f7" />
<ellipse cx="-40.9" cy="-101.6" rx="32.6" ry="19.1" fill="url(#gRainbow)" transform="rotate(4 -40.9 -101.6)"/>
<ellipse cx="-40.9" cy="-101.6" rx="32.6" ry="19.1" fill="url(#gWafGrid)" transform="rotate(4 -40.9 -101.6)"/>
<path d="M -51.9 -122.8 C -50.0 -126.6 -44.0 -128.1 -38.7 -122.8 L -40.9 -120.6 L -47.8 -121.3 L -49.3 -116.8 Z" fill="#2f8fb3" />
<path d="M -16.7 -100.1 C -9.1 -103.1 -1.5 -99.3 0.0 -93.3 C -3.0 -88.0 -13.6 -85.7 -18.2 -88.7 L -12.1 -94.0 Z" fill="#2f8fb3" />
<path d="M -12.1 -198.7 L 6.1 -194.4 L 10.3 -172.6 C 6.1 -166.8 -3.0 -166.1 -8.3 -171.4 L -11.8 -185.0 Z" fill="#e4ac8c" />
<path d="M -8.3 -171.4 C -3.0 -166.1 6.1 -166.8 10.3 -172.6 L 9.1 -175.9 C 4.6 -171.4 -3.0 -171.4 -9.1 -175.9 Z" fill="#c98f72" />
<path d="M 5.3 -194.9 L 15.9 -191.4 L 10.9 -178.2 L 8.3 -184.3 Z" fill="#1e2225" />
<ellipse cx="1.8" cy="-204.7" rx="16.4" ry="12.9" fill="#a5adad" />
<path d="M -14.4 -200.9 C -6.1 -204.0 12.1 -198.7 17.9 -192.6 C 15.2 -197.1 -6.1 -201.7 -14.4 -198.7 Z" fill="#f1f3f3" />
<polyline points="-4.5,-213.8 -2.3,-207.0" fill="none" stroke="#c9cece" stroke-width="0.90" />
<polyline points="2.3,-216.1 3.0,-208.5" fill="none" stroke="#c9cece" stroke-width="0.90" />
<polyline points="9.1,-213.8 7.6,-206.2" fill="none" stroke="#c9cece" stroke-width="0.90" />
</g>
<clipPath id="ctr"><circle cx="2363.4" cy="278.0" r="345.4"/></clipPath>
<clipPath id="cbl"><circle cx="219" cy="1082" r="340"/></clipPath>
</defs>
<g clip-path="url(#topclip)">
<rect x="0" y="0" width="2560" height="1200" fill="#80bdfd"/>
<polygon points="0.0,912.0 1529.0,29.0 1529.0,0.0 2560.0,0.0 2560.0,175.0 1920.0,154.0 1705.0,147.0 1297.0,380.0 0.0,1128.9" fill="#67abfb"  stroke="#67abfb" stroke-width=".5"/>
<polygon points="460.4,864.0 423.3,843.0 309.0,909.4 344.6,930.5" fill="#80bdfd"  stroke="#80bdfd" stroke-width=".5"/>
<polygon points="879.4,622.0 842.3,601.0 728.0,667.4 763.6,688.5" fill="#80bdfd"  stroke="#80bdfd" stroke-width=".5"/>
<polygon points="1298.4,380.0 1261.3,359.0 1147.0,425.4 1182.6,446.5" fill="#80bdfd"  stroke="#80bdfd" stroke-width=".5"/>
<polygon points="2306.0,632.0 2176.0,706.0 2144.0,689.0 2059.0,772.0 2030.0,754.0 1895.0,868.0 1861.0,851.0 1750.0,918.0 1777.0,935.0 1612.0,1030.0 1581.0,1013.0 1465.0,1075.0 1494.6,1098.6 1320.0,1200.0 697.5,1200.0 928.6,1066.4 1000.0,1000.0 1400.0,760.0 2000.0,420.0 2200.0,400.0" fill="#67abfb"  stroke="#67abfb" stroke-width=".5"/>
<polygon points="2560.0,1026.0 2255.0,1200.0 2560.0,1200.0" fill="#67abfb"  stroke="#67abfb" stroke-width=".5"/>
<polygon points="0.0,417.0 722.0,0.0 1529.0,0.0 1529.0,29.0 0.0,912.0" fill="#c1cbca"  stroke="#c1cbca" stroke-width=".5"/>
<polygon points="0.0,0.0 722.0,0.0 0.0,417.0" fill="#283e74"  stroke="#283e74" stroke-width=".5"/>
<polyline points="1529.5,0.0 1529.5,29.0" fill="none" stroke="#55657f" stroke-width="1.00" />
<g transform="translate(0,12)"><rect x="231" y="304" width="250" height="268" fill="#eef0f0" clip-path="url(#wc481)"/></g>
<g transform="translate(8,0)"><rect x="231" y="304" width="250" height="268" fill="#a3b1b2" clip-path="url(#wc481)"/></g>
<g clip-path="url(#wc481)"><rect x="231" y="304" width="250" height="268" fill="#283e74"/>
<polygon points="436.0,314.0 491.0,349.0 311.0,572.3 236.0,582.3" fill="#374d83"/>
</g>
<g transform="translate(0,12)"><rect x="717" y="25" width="255" height="271" fill="#eef0f0" clip-path="url(#wc972)"/></g>
<g transform="translate(8,0)"><rect x="717" y="25" width="255" height="271" fill="#a3b1b2" clip-path="url(#wc972)"/></g>
<g clip-path="url(#wc972)"><rect x="717" y="25" width="255" height="271" fill="#283e74"/>
<polygon points="927.0,35.0 982.0,70.0 797.0,296.2 722.0,306.2" fill="#374d83"/>
</g>
<polygon points="1320.2,197.7 1381.9,234.7 1412.8,247.1 1385.0,290.3 1320.2,290.3" fill="#4270a8"  stroke="#4270a8" stroke-width=".5"/>
<polygon points="1434.4,244.0 1465.3,228.6 1471.5,240.9 1440.6,256.4" fill="#4270a8"  stroke="#4270a8" stroke-width=".5"/>
<polygon points="1298.5,12.4 1310.9,12.4 1310.9,216.2 1298.5,216.2" fill="#dfe3e3"  stroke="#dfe3e3" stroke-width=".5"/>
<polygon points="1298.5,12.4 1304.7,8.6 1317.1,12.4 1310.9,16.1" fill="#f3f5f5"  stroke="#f3f5f5" stroke-width=".5"/>
<polygon points="1323.2,185.3 1334.1,179.2 1425.2,231.7 1415.9,238.5" fill="#f1f3f3"  stroke="#f1f3f3" stroke-width=".5"/>
<polygon points="1323.2,185.3 1415.9,238.5 1415.9,247.1 1323.2,194.0" fill="#c5cfce"  stroke="#c5cfce" stroke-width=".5"/>
<polygon points="1270.7,122.6 1386.6,190.0 1386.6,196.8 1270.7,129.4" fill="#2a2f36"  stroke="#2a2f36" stroke-width=".5"/>
<polygon points="1386.6,190.0 1463.8,148.3 1463.8,155.1 1386.6,196.8" fill="#33393f"  stroke="#33393f" stroke-width=".5"/>
<polygon points="1270.7,122.6 1351.0,80.3 1463.8,148.3 1386.6,190.0" fill="#3a4046"  stroke="#3a4046" stroke-width=".5"/>
<polygon points="1317.1,98.8 1351.7,118.6 1351.7,100.1 1317.1,80.3" fill="#c9d0d0"  stroke="#c9d0d0" stroke-width=".5"/>
<polygon points="1351.7,118.6 1386.3,98.5 1386.3,67.6 1351.7,87.7" fill="#e3e7e7"  stroke="#e3e7e7" stroke-width=".5"/>
<path d="M1318.6 81.9 A 18.5 23.2 0 0 1 1350.1 99.7 L 1382.5 81.1 A 18.5 23.2 0 0 0 1351.0 63.3 Z" fill="#9db0be"/>
<path d="M1318.6 81.9 A 18.5 23.2 0 0 1 1350.1 99.7 Z" fill="#7f95a6"/>
<polygon points="1317.1,80.3 1351.7,100.1 1351.7,95.8 1317.1,76.0" fill="#e9ecec"  stroke="#e9ecec" stroke-width=".5"/>
<polygon points="1351.7,118.6 1386.3,138.4 1386.3,119.8 1351.7,100.1" fill="#c9d0d0"  stroke="#c9d0d0" stroke-width=".5"/>
<polygon points="1386.3,138.4 1420.8,118.3 1420.8,87.4 1386.3,107.5" fill="#e3e7e7"  stroke="#e3e7e7" stroke-width=".5"/>
<path d="M1353.2 101.6 A 18.5 23.2 0 0 1 1384.7 119.4 L 1417.1 100.9 A 18.5 23.2 0 0 0 1385.6 83.1 Z" fill="#9db0be"/>
<path d="M1353.2 101.6 A 18.5 23.2 0 0 1 1384.7 119.4 Z" fill="#7f95a6"/>
<polygon points="1351.7,100.1 1386.3,119.8 1386.3,115.5 1351.7,95.8" fill="#e9ecec"  stroke="#e9ecec" stroke-width=".5"/>
<polygon points="1386.3,138.4 1420.8,158.1 1420.8,139.6 1386.3,119.8" fill="#c9d0d0"  stroke="#c9d0d0" stroke-width=".5"/>
<polygon points="1420.8,158.1 1455.4,138.1 1455.4,107.2 1420.8,127.3" fill="#e3e7e7"  stroke="#e3e7e7" stroke-width=".5"/>
<path d="M1387.8 121.4 A 18.5 23.2 0 0 1 1419.3 139.2 L 1451.7 120.7 A 18.5 23.2 0 0 0 1420.2 102.9 Z" fill="#9db0be"/>
<path d="M1387.8 121.4 A 18.5 23.2 0 0 1 1419.3 139.2 Z" fill="#7f95a6"/>
<polygon points="1386.3,119.8 1420.8,139.6 1420.8,135.3 1386.3,115.5" fill="#e9ecec"  stroke="#e9ecec" stroke-width=".5"/>
<polygon points="1284.6,117.4 1319.2,137.1 1319.2,118.6 1284.6,98.8" fill="#c9d0d0"  stroke="#c9d0d0" stroke-width=".5"/>
<polygon points="1319.2,137.1 1353.8,117.1 1353.8,86.2 1319.2,106.3" fill="#e3e7e7"  stroke="#e3e7e7" stroke-width=".5"/>
<path d="M1286.2 100.4 A 18.5 23.2 0 0 1 1317.7 118.2 L 1350.1 99.7 A 18.5 23.2 0 0 0 1318.6 81.9 Z" fill="#9db0be"/>
<path d="M1286.2 100.4 A 18.5 23.2 0 0 1 1317.7 118.2 Z" fill="#7f95a6"/>
<polygon points="1284.6,98.8 1319.2,118.6 1319.2,114.3 1284.6,94.5" fill="#e9ecec"  stroke="#e9ecec" stroke-width=".5"/>
<polygon points="1319.2,137.1 1353.8,156.9 1353.8,138.4 1319.2,118.6" fill="#c9d0d0"  stroke="#c9d0d0" stroke-width=".5"/>
<polygon points="1353.8,156.9 1388.4,136.8 1388.4,105.9 1353.8,126.0" fill="#e3e7e7"  stroke="#e3e7e7" stroke-width=".5"/>
<path d="M1320.8 120.2 A 18.5 23.2 0 0 1 1352.3 138.0 L 1384.7 119.4 A 18.5 23.2 0 0 0 1353.2 101.6 Z" fill="#9db0be"/>
<path d="M1320.8 120.2 A 18.5 23.2 0 0 1 1352.3 138.0 Z" fill="#7f95a6"/>
<polygon points="1319.2,118.6 1353.8,138.4 1353.8,134.1 1319.2,114.3" fill="#e9ecec"  stroke="#e9ecec" stroke-width=".5"/>
<polygon points="1353.8,156.9 1388.4,176.7 1388.4,158.1 1353.8,138.4" fill="#c9d0d0"  stroke="#c9d0d0" stroke-width=".5"/>
<polygon points="1388.4,176.7 1423.0,156.6 1423.0,125.7 1388.4,145.8" fill="#e3e7e7"  stroke="#e3e7e7" stroke-width=".5"/>
<path d="M1355.4 139.9 A 18.5 23.2 0 0 1 1386.9 157.7 L 1419.3 139.2 A 18.5 23.2 0 0 0 1387.8 121.4 Z" fill="#9db0be"/>
<path d="M1355.4 139.9 A 18.5 23.2 0 0 1 1386.9 157.7 Z" fill="#7f95a6"/>
<polygon points="1353.8,138.4 1388.4,158.1 1388.4,153.8 1353.8,134.1" fill="#e9ecec"  stroke="#e9ecec" stroke-width=".5"/>
<polygon points="1270.7,68.6 1386.6,135.9 1386.6,142.7 1270.7,75.4" fill="#2a2f36"  stroke="#2a2f36" stroke-width=".5"/>
<polygon points="1386.6,135.9 1463.8,94.2 1463.8,101.0 1386.6,142.7" fill="#33393f"  stroke="#33393f" stroke-width=".5"/>
<polygon points="1270.7,68.6 1351.0,26.3 1463.8,94.2 1386.6,135.9" fill="#3a4046"  stroke="#3a4046" stroke-width=".5"/>
<polygon points="1317.1,44.8 1351.7,64.6 1351.7,46.0 1317.1,26.3" fill="#c9d0d0"  stroke="#c9d0d0" stroke-width=".5"/>
<polygon points="1351.7,64.6 1386.3,44.5 1386.3,13.6 1351.7,33.7" fill="#e3e7e7"  stroke="#e3e7e7" stroke-width=".5"/>
<path d="M1318.6 27.8 A 18.5 23.2 0 0 1 1350.1 45.6 L 1382.5 27.1 A 18.5 23.2 0 0 0 1351.0 9.3 Z" fill="#9db0be"/>
<path d="M1318.6 27.8 A 18.5 23.2 0 0 1 1350.1 45.6 Z" fill="#7f95a6"/>
<polygon points="1317.1,26.3 1351.7,46.0 1351.7,41.7 1317.1,21.9" fill="#e9ecec"  stroke="#e9ecec" stroke-width=".5"/>
<polygon points="1351.7,64.6 1386.3,84.3 1386.3,65.8 1351.7,46.0" fill="#c9d0d0"  stroke="#c9d0d0" stroke-width=".5"/>
<polygon points="1386.3,84.3 1420.8,64.2 1420.8,33.4 1386.3,53.4" fill="#e3e7e7"  stroke="#e3e7e7" stroke-width=".5"/>
<path d="M1353.2 47.6 A 18.5 23.2 0 0 1 1384.7 65.4 L 1417.1 46.8 A 18.5 23.2 0 0 0 1385.6 29.0 Z" fill="#9db0be"/>
<path d="M1353.2 47.6 A 18.5 23.2 0 0 1 1384.7 65.4 Z" fill="#7f95a6"/>
<polygon points="1351.7,46.0 1386.3,65.8 1386.3,61.5 1351.7,41.7" fill="#e9ecec"  stroke="#e9ecec" stroke-width=".5"/>
<polygon points="1386.3,84.3 1420.8,104.1 1420.8,85.6 1386.3,65.8" fill="#c9d0d0"  stroke="#c9d0d0" stroke-width=".5"/>
<polygon points="1420.8,104.1 1455.4,84.0 1455.4,53.1 1420.8,73.2" fill="#e3e7e7"  stroke="#e3e7e7" stroke-width=".5"/>
<path d="M1387.8 67.3 A 18.5 23.2 0 0 1 1419.3 85.1 L 1451.7 66.6 A 18.5 23.2 0 0 0 1420.2 48.8 Z" fill="#9db0be"/>
<path d="M1387.8 67.3 A 18.5 23.2 0 0 1 1419.3 85.1 Z" fill="#7f95a6"/>
<polygon points="1386.3,65.8 1420.8,85.6 1420.8,81.2 1386.3,61.5" fill="#e9ecec"  stroke="#e9ecec" stroke-width=".5"/>
<polygon points="1284.6,63.3 1319.2,83.1 1319.2,64.6 1284.6,44.8" fill="#c9d0d0"  stroke="#c9d0d0" stroke-width=".5"/>
<polygon points="1319.2,83.1 1353.8,63.0 1353.8,32.1 1319.2,52.2" fill="#e3e7e7"  stroke="#e3e7e7" stroke-width=".5"/>
<path d="M1286.2 46.3 A 18.5 23.2 0 0 1 1317.7 64.1 L 1350.1 45.6 A 18.5 23.2 0 0 0 1318.6 27.8 Z" fill="#9db0be"/>
<path d="M1286.2 46.3 A 18.5 23.2 0 0 1 1317.7 64.1 Z" fill="#7f95a6"/>
<polygon points="1284.6,44.8 1319.2,64.6 1319.2,60.2 1284.6,40.5" fill="#e9ecec"  stroke="#e9ecec" stroke-width=".5"/>
<polygon points="1319.2,83.1 1353.8,102.9 1353.8,84.3 1319.2,64.6" fill="#c9d0d0"  stroke="#c9d0d0" stroke-width=".5"/>
<polygon points="1353.8,102.9 1388.4,82.8 1388.4,51.9 1353.8,72.0" fill="#e3e7e7"  stroke="#e3e7e7" stroke-width=".5"/>
<path d="M1320.8 66.1 A 18.5 23.2 0 0 1 1352.3 83.9 L 1384.7 65.4 A 18.5 23.2 0 0 0 1353.2 47.6 Z" fill="#9db0be"/>
<path d="M1320.8 66.1 A 18.5 23.2 0 0 1 1352.3 83.9 Z" fill="#7f95a6"/>
<polygon points="1319.2,64.6 1353.8,84.3 1353.8,80.0 1319.2,60.2" fill="#e9ecec"  stroke="#e9ecec" stroke-width=".5"/>
<polygon points="1353.8,102.9 1388.4,122.6 1388.4,104.1 1353.8,84.3" fill="#c9d0d0"  stroke="#c9d0d0" stroke-width=".5"/>
<polygon points="1388.4,122.6 1423.0,102.5 1423.0,71.7 1388.4,91.7" fill="#e3e7e7"  stroke="#e3e7e7" stroke-width=".5"/>
<path d="M1355.4 85.9 A 18.5 23.2 0 0 1 1386.9 103.7 L 1419.3 85.1 A 18.5 23.2 0 0 0 1387.8 67.3 Z" fill="#9db0be"/>
<path d="M1355.4 85.9 A 18.5 23.2 0 0 1 1386.9 103.7 Z" fill="#7f95a6"/>
<polygon points="1353.8,84.3 1388.4,104.1 1388.4,99.8 1353.8,80.0" fill="#e9ecec"  stroke="#e9ecec" stroke-width=".5"/>
<polygon points="1415.9,81.9 1425.2,86.5 1425.2,247.1 1415.9,242.5" fill="#c5cfce"  stroke="#c5cfce" stroke-width=".5"/>
<polygon points="1425.2,86.5 1433.8,81.9 1433.8,242.5 1425.2,247.1" fill="#e3e7e7"  stroke="#e3e7e7" stroke-width=".5"/>
<polygon points="1415.9,81.9 1424.6,77.2 1433.8,81.9 1425.2,86.5" fill="#f3f5f5"  stroke="#f3f5f5" stroke-width=".5"/>
<polygon points="1378.2,262.5 1459.2,216.2 1469.0,221.8 1388.1,268.7" fill="#f1f3f3"  stroke="#f1f3f3" stroke-width=".5"/>
<polygon points="1378.2,262.5 1388.1,268.7 1388.1,278.0 1378.2,271.8" fill="#c5cfce"  stroke="#c5cfce" stroke-width=".5"/>
<polygon points="1388.1,268.7 1469.0,221.8 1469.0,231.0 1388.1,278.0" fill="#dfe3e3"  stroke="#dfe3e3" stroke-width=".5"/>
<ellipse cx="1387.5" cy="281.7" rx="8.0" ry="8.6" fill="#23272e" />
<ellipse cx="1386.6" cy="280.8" rx="3.4" ry="3.7" fill="#c5cfce" />
<ellipse cx="1464.7" cy="238.5" rx="8.0" ry="8.6" fill="#23272e" />
<ellipse cx="1463.8" cy="237.5" rx="3.4" ry="3.7" fill="#c5cfce" />
<polygon points="48.1,774.5 206.5,683.1 206.5,800.0 48.1,900.0" fill="#c8d1d0"  stroke="#c8d1d0" stroke-width=".5"/>
<polyline points="48.1,900.0 48.1,774.5 206.5,683.1" fill="none" stroke="#f4f6f6" stroke-width="2.60" />
<use href="#scope" transform="translate(419.0,-242.0)"/>
<rect x="1200.0" y="94.0" width="5.0" height="16.0" fill="#dfe3e3"/>
<rect x="1197.0" y="86.0" width="11.0" height="8.5" fill="#6aa32a"/>
<rect x="1197.0" y="78.0" width="11.0" height="8.5" fill="#f2b51d"/>
<rect x="1197.0" y="69.0" width="11.0" height="9.5" fill="#e23a2a"/>
<rect x="1197.0" y="64.0" width="11.0" height="6.0" rx="2" fill="#f3f4f4"/>
<use href="#stand" transform="translate(419.0,-242.0)"/>
<use href="#turn" transform="translate(0.0,0.0)"/>
<use href="#scope" transform="translate(0.0,0.0)"/>
<rect x="781.0" y="336.0" width="5.0" height="16.0" fill="#dfe3e3"/>
<rect x="778.0" y="328.0" width="11.0" height="8.5" fill="#6aa32a"/>
<rect x="778.0" y="320.0" width="11.0" height="8.5" fill="#f2b51d"/>
<rect x="778.0" y="311.0" width="11.0" height="9.5" fill="#e23a2a"/>
<rect x="778.0" y="306.0" width="11.0" height="6.0" rx="2" fill="#f3f4f4"/>
<use href="#stand" transform="translate(0.0,0.0)"/>
<use href="#turn" transform="translate(-419.0,242.0)"/>
<use href="#scope" transform="translate(-419.0,242.0)"/>
<rect x="362.0" y="578.0" width="5.0" height="16.0" fill="#dfe3e3"/>
<rect x="359.0" y="570.0" width="11.0" height="8.5" fill="#6aa32a"/>
<rect x="359.0" y="562.0" width="11.0" height="8.5" fill="#f2b51d"/>
<rect x="359.0" y="553.0" width="11.0" height="9.5" fill="#e23a2a"/>
<rect x="359.0" y="548.0" width="11.0" height="6.0" rx="2" fill="#f3f4f4"/>
<use href="#stand" transform="translate(-419.0,242.0)"/>
<use href="#smtM" transform="translate(557.6,-321.5)"/>
<use href="#smtT" transform="translate(557.6,-321.5)"/>
<use href="#smtM" transform="translate(279.0,-160.5)"/>
<use href="#smtT" transform="translate(279.0,-160.5)"/>
<use href="#smtM" transform="translate(0.0,0.0)"/>
<use href="#smtT" transform="translate(0.0,0.0)"/>
<use href="#smtM" transform="translate(-280.0,165.0)"/>
<use href="#smtT" transform="translate(-280.0,165.0)"/>
<polygon points="932.9,1111.2 960.1,1126.6 960.1,1145.2 932.9,1129.7" fill="#2a2f38"  stroke="#2a2f38" stroke-width=".5"/>
<polygon points="965.7,1129.7 973.1,1134.4 973.1,1151.4 965.7,1147.6" fill="#2a2f38"  stroke="#2a2f38" stroke-width=".5"/>
<rect x="2061.8" y="366.0" width="4.1" height="13.1" fill="#dfe3e3"/>
<rect x="2059.3" y="359.4" width="9.0" height="7.0" fill="#6aa32a"/>
<rect x="2059.3" y="352.8" width="9.0" height="7.0" fill="#f2b51d"/>
<rect x="2059.3" y="345.5" width="9.0" height="7.8" fill="#e23a2a"/>
<rect x="2059.3" y="341.4" width="9.0" height="4.9" rx="2" fill="#f3f4f4"/>
<use href="#stool" transform="translate(557.6,-321.5)"/>
<rect x="1783.2" y="527.0" width="4.1" height="13.1" fill="#dfe3e3"/>
<rect x="1780.7" y="520.4" width="9.0" height="7.0" fill="#6aa32a"/>
<rect x="1780.7" y="513.8" width="9.0" height="7.0" fill="#f2b51d"/>
<rect x="1780.7" y="506.5" width="9.0" height="7.8" fill="#e23a2a"/>
<rect x="1780.7" y="502.4" width="9.0" height="4.9" rx="2" fill="#f3f4f4"/>
<use href="#stool" transform="translate(279.0,-160.5)"/>
<rect x="1504.2" y="687.5" width="4.1" height="13.1" fill="#dfe3e3"/>
<rect x="1501.7" y="680.9" width="9.0" height="7.0" fill="#6aa32a"/>
<rect x="1501.7" y="674.3" width="9.0" height="7.0" fill="#f2b51d"/>
<rect x="1501.7" y="667.0" width="9.0" height="7.8" fill="#e23a2a"/>
<rect x="1501.7" y="662.9" width="9.0" height="4.9" rx="2" fill="#f3f4f4"/>
<use href="#stool" transform="translate(0.0,0.0)"/>
<rect x="1224.2" y="852.5" width="4.1" height="13.1" fill="#dfe3e3"/>
<rect x="1221.7" y="845.9" width="9.0" height="7.0" fill="#6aa32a"/>
<rect x="1221.7" y="839.3" width="9.0" height="7.0" fill="#f2b51d"/>
<rect x="1221.7" y="832.0" width="9.0" height="7.8" fill="#e23a2a"/>
<rect x="1221.7" y="827.9" width="9.0" height="4.9" rx="2" fill="#f3f4f4"/>
<use href="#stool" transform="translate(-280.0,165.0)"/>
<ellipse cx="515.7" cy="747.4" rx="39.7" ry="10.9" fill="#2f5f9f" opacity=".55"/>
<ellipse cx="1873" cy="808" rx="30" ry="13" fill="#4a80c4"/>
<use href="#pstand" transform="translate(524,876.3)"/>
<use href="#pstand" transform="translate(1897.8,827.7)"/>
<use href="#pwalk" transform="translate(1211,572.6)"/>
<circle cx="2363.4" cy="278.0" r="355.4" fill="#fff"/>
<g clip-path="url(#ctr)">
<circle cx="2363.4" cy="278.0" r="345.4" fill="#283e74"/>
<polygon points="2395.7,9.3 2463.6,-30.9 2560.0,24.7 2560.0,92.7 2543.9,98.8 2395.7,52.5" fill="#6d8388"  stroke="#6d8388" stroke-width=".5"/>
<polygon points="2395.7,9.3 2543.9,92.7 2543.9,392.3 2395.7,308.9" fill="#c5cbc5"  stroke="#c5cbc5" stroke-width=".5"/>
<polygon points="2395.7,9.3 2543.9,92.7 2543.9,135.9 2395.7,52.5" fill="#50666b"  stroke="#50666b" stroke-width=".5"/>
<polygon points="2395.7,109.7 2543.9,193.1 2543.9,213.1 2395.7,129.7" fill="#5f757a"  stroke="#5f757a" stroke-width=".5"/>
<polygon points="2543.9,92.7 2560.0,83.4 2560.0,383.0 2543.9,392.3" fill="#d6dad6"  stroke="#d6dad6" stroke-width=".5"/>
<polygon points="2543.9,92.7 2560.0,83.4 2560.0,126.6 2543.9,135.9" fill="#6d8388"  stroke="#6d8388" stroke-width=".5"/>
<polygon points="2400.3,81.9 2429.7,98.2 2429.7,117.4 2400.3,100.4" fill="#2a2f38"  stroke="#2a2f38" stroke-width=".5"/>
<polygon points="2435.2,101.9 2443.6,106.6 2443.6,126.0 2435.2,121.1" fill="#2a2f38"  stroke="#2a2f38" stroke-width=".5"/>
<polygon points="2524.8,137.5 2536.2,142.7 2536.2,150.7 2524.8,145.2" fill="#e3b23c" stroke="#8a6d1d" stroke-width=".6"/>
<polygon points="2556.3,173.0 2560.0,171.4 2560.0,256.4 2556.3,257.9" fill="#b5602a"  stroke="#b5602a" stroke-width=".5"/>
<polygon points="2247.4,234.7 2391.0,154.4 2488.3,210.0 2519.2,247.1 2519.2,264.1 2313.8,396.0 2284.5,381.5 2284.5,324.3 2247.4,305.8" fill="#74898e"  stroke="#74898e" stroke-width=".5"/>
<polygon points="2279.8,332.0 2488.3,213.1 2519.2,247.1 2313.8,367.6" fill="#869a9f"  stroke="#869a9f" stroke-width=".5"/>
<polygon points="2185.6,332.0 2249.0,296.5 2284.5,324.3 2313.8,367.6 2313.8,396.0 2284.5,383.0 2284.5,401.5 2228.9,369.1" fill="#566b70"  stroke="#566b70" stroke-width=".5"/>
<polygon points="2313.8,393.8 2519.2,262.5 2519.2,404.6 2313.8,525.1" fill="#d0d5d1"  stroke="#d0d5d1" stroke-width=".5"/>
<polygon points="2284.5,379.9 2313.8,393.8 2313.8,525.1 2284.5,511.2" fill="#9aa79f"  stroke="#9aa79f" stroke-width=".5"/>
<polyline points="2323.1,418.5 2381.8,384.6 2381.8,468.0 2323.1,503.5 2323.1,418.5" fill="none" stroke="#b9c1bb" stroke-width="1.00" />
<polyline points="2389.5,379.9 2448.8,345.9 2448.8,429.3 2389.5,464.9 2389.5,379.9" fill="none" stroke="#b9c1bb" stroke-width="1.00" />
<polyline points="2456.5,342.2 2514.6,308.9 2514.6,393.8 2456.5,427.8 2456.5,342.2" fill="none" stroke="#b9c1bb" stroke-width="1.00" />
<polygon points="2341.6,414.5 2363.2,405.3 2363.2,414.5 2341.6,424.7" fill="#2a2f36" stroke="#2a2f36" stroke-width="1.5" stroke-linejoin="round"/>
<polygon points="2408.6,377.5 2429.7,368.2 2429.7,377.5 2408.6,387.6" fill="#2a2f36" stroke="#2a2f36" stroke-width="1.5" stroke-linejoin="round"/>
<polygon points="2475.4,339.8 2496.4,330.5 2496.4,339.8 2475.4,350.0" fill="#2a2f36" stroke="#2a2f36" stroke-width="1.5" stroke-linejoin="round"/>
<polygon points="2286.0,463.3 2293.7,467.0 2293.7,506.6 2286.0,502.9" fill="#2a2f38"  stroke="#2a2f38" stroke-width=".5"/>
<polygon points="2296.8,484.9 2306.1,489.6 2306.1,515.2 2296.8,510.6" fill="#2a2f38"  stroke="#2a2f38" stroke-width=".5"/>
<polygon points="2291.6,367.6 2302.4,372.8 2302.4,380.5 2291.6,375.3" fill="#e3b23c" stroke="#8a6d1d" stroke-width=".6"/>
<polygon points="2295.3,324.3 2318.5,312.0 2335.4,321.2 2312.3,335.1" fill="#eef0ee"  stroke="#eef0ee" stroke-width=".5"/>
<polygon points="2295.3,324.3 2312.3,335.1 2315.4,386.1 2298.4,349.0" fill="#cfd4d0"  stroke="#cfd4d0" stroke-width=".5"/>
<polygon points="2307.6,332.0 2366.3,300.2 2377.1,352.1 2315.4,386.1" fill="#eef0ee"  stroke="#eef0ee" stroke-width=".5"/>
<polygon points="2309.8,336.7 2364.8,306.4 2367.9,321.2 2312.9,352.1" fill="#2a2f38"  stroke="#2a2f38" stroke-width=".5"/>
<polygon points="2330.8,329.0 2363.2,312.0 2364.8,319.7 2332.4,337.3" fill="#5f6e72"  stroke="#5f6e72" stroke-width=".5"/>
<polygon points="2311.7,354.0 2369.7,322.5 2375.9,350.9 2316.3,383.6" fill="#5f6e72"  stroke="#5f6e72" stroke-width=".5"/>
<polygon points="2313.5,355.6 2316.8,353.8 2317.4,357.8 2314.1,359.6" fill="#f1f3f1"  stroke="#f1f3f1" stroke-width=".5"/>
<polygon points="2314.3,360.8 2317.6,359.0 2318.2,363.0 2314.9,364.8" fill="#f1f3f1"  stroke="#f1f3f1" stroke-width=".5"/>
<polygon points="2315.1,366.1 2318.4,364.3 2319.0,368.3 2315.7,370.1" fill="#f1f3f1"  stroke="#f1f3f1" stroke-width=".5"/>
<polygon points="2315.9,371.3 2319.2,369.5 2319.8,373.5 2316.5,375.3" fill="#f1f3f1"  stroke="#f1f3f1" stroke-width=".5"/>
<polygon points="2316.7,376.6 2320.0,374.8 2320.6,378.8 2317.3,380.6" fill="#f1f3f1"  stroke="#f1f3f1" stroke-width=".5"/>
<polygon points="2317.8,353.2 2321.0,351.5 2321.6,355.5 2318.4,357.2" fill="#f1f3f1"  stroke="#f1f3f1" stroke-width=".5"/>
<polygon points="2318.6,358.5 2321.8,356.7 2322.4,360.7 2319.2,362.5" fill="#f1f3f1"  stroke="#f1f3f1" stroke-width=".5"/>
<polygon points="2319.4,363.7 2322.6,362.0 2323.2,366.0 2320.0,367.7" fill="#f1f3f1"  stroke="#f1f3f1" stroke-width=".5"/>
<polygon points="2320.2,369.0 2323.4,367.2 2324.0,371.2 2320.8,373.0" fill="#f1f3f1"  stroke="#f1f3f1" stroke-width=".5"/>
<polygon points="2321.0,374.2 2324.2,372.5 2324.8,376.5 2321.6,378.2" fill="#f1f3f1"  stroke="#f1f3f1" stroke-width=".5"/>
<polygon points="2322.1,350.9 2325.3,349.1 2325.9,353.1 2322.7,354.9" fill="#f1f3f1"  stroke="#f1f3f1" stroke-width=".5"/>
<polygon points="2322.9,356.2 2326.1,354.4 2326.7,358.4 2323.5,360.2" fill="#f1f3f1"  stroke="#f1f3f1" stroke-width=".5"/>
<polygon points="2323.7,361.4 2326.9,359.6 2327.5,363.6 2324.3,365.4" fill="#f1f3f1"  stroke="#f1f3f1" stroke-width=".5"/>
<polygon points="2324.5,366.7 2327.7,364.9 2328.3,368.9 2325.1,370.7" fill="#f1f3f1"  stroke="#f1f3f1" stroke-width=".5"/>
<polygon points="2325.3,371.9 2328.5,370.1 2329.1,374.1 2325.9,375.9" fill="#f1f3f1"  stroke="#f1f3f1" stroke-width=".5"/>
<polygon points="2326.3,348.6 2329.6,346.8 2330.2,350.8 2326.9,352.6" fill="#f1f3f1"  stroke="#f1f3f1" stroke-width=".5"/>
<polygon points="2327.1,353.8 2330.4,352.1 2331.0,356.0 2327.8,357.8" fill="#f1f3f1"  stroke="#f1f3f1" stroke-width=".5"/>
<polygon points="2327.9,359.1 2331.2,357.3 2331.8,361.3 2328.6,363.1" fill="#f1f3f1"  stroke="#f1f3f1" stroke-width=".5"/>
<polygon points="2328.7,364.3 2332.0,362.6 2332.6,366.5 2329.4,368.3" fill="#f1f3f1"  stroke="#f1f3f1" stroke-width=".5"/>
<polygon points="2329.5,369.6 2332.8,367.8 2333.4,371.8 2330.2,373.6" fill="#f1f3f1"  stroke="#f1f3f1" stroke-width=".5"/>
<polygon points="2330.6,346.3 2333.9,344.5 2334.5,348.5 2331.2,350.2" fill="#f1f3f1"  stroke="#f1f3f1" stroke-width=".5"/>
<polygon points="2331.4,351.5 2334.7,349.7 2335.3,353.7 2332.0,355.5" fill="#f1f3f1"  stroke="#f1f3f1" stroke-width=".5"/>
<polygon points="2332.2,356.8 2335.5,355.0 2336.1,359.0 2332.8,360.7" fill="#f1f3f1"  stroke="#f1f3f1" stroke-width=".5"/>
<polygon points="2333.0,362.0 2336.3,360.2 2336.9,364.2 2333.6,366.0" fill="#f1f3f1"  stroke="#f1f3f1" stroke-width=".5"/>
<polygon points="2333.8,367.3 2337.1,365.5 2337.7,369.5 2334.4,371.2" fill="#f1f3f1"  stroke="#f1f3f1" stroke-width=".5"/>
<polygon points="2334.9,343.9 2338.1,342.1 2338.7,346.1 2335.5,347.9" fill="#f1f3f1"  stroke="#f1f3f1" stroke-width=".5"/>
<polygon points="2335.7,349.2 2338.9,347.4 2339.6,351.4 2336.3,353.2" fill="#f1f3f1"  stroke="#f1f3f1" stroke-width=".5"/>
<polygon points="2336.5,354.4 2339.7,352.6 2340.4,356.6 2337.1,358.4" fill="#f1f3f1"  stroke="#f1f3f1" stroke-width=".5"/>
<polygon points="2337.3,359.7 2340.5,357.9 2341.2,361.9 2337.9,363.7" fill="#f1f3f1"  stroke="#f1f3f1" stroke-width=".5"/>
<polygon points="2338.1,364.9 2341.3,363.2 2342.0,367.1 2338.7,368.9" fill="#f1f3f1"  stroke="#f1f3f1" stroke-width=".5"/>
<polygon points="2339.2,341.6 2342.4,339.8 2343.0,343.8 2339.8,345.6" fill="#f1f3f1"  stroke="#f1f3f1" stroke-width=".5"/>
<polygon points="2340.0,346.8 2343.2,345.1 2343.8,349.1 2340.6,350.8" fill="#f1f3f1"  stroke="#f1f3f1" stroke-width=".5"/>
<polygon points="2340.8,352.1 2344.0,350.3 2344.6,354.3 2341.4,356.1" fill="#f1f3f1"  stroke="#f1f3f1" stroke-width=".5"/>
<polygon points="2341.6,357.3 2344.8,355.6 2345.4,359.6 2342.2,361.3" fill="#f1f3f1"  stroke="#f1f3f1" stroke-width=".5"/>
<polygon points="2342.4,362.6 2345.6,360.8 2346.2,364.8 2343.0,366.6" fill="#f1f3f1"  stroke="#f1f3f1" stroke-width=".5"/>
<polygon points="2343.4,339.3 2346.7,337.5 2347.3,341.5 2344.1,343.3" fill="#f1f3f1"  stroke="#f1f3f1" stroke-width=".5"/>
<polygon points="2344.2,344.5 2347.5,342.7 2348.1,346.7 2344.9,348.5" fill="#f1f3f1"  stroke="#f1f3f1" stroke-width=".5"/>
<polygon points="2345.1,349.8 2348.3,348.0 2348.9,352.0 2345.7,353.8" fill="#f1f3f1"  stroke="#f1f3f1" stroke-width=".5"/>
<polygon points="2345.9,355.0 2349.1,353.2 2349.7,357.3 2346.5,359.0" fill="#f1f3f1"  stroke="#f1f3f1" stroke-width=".5"/>
<polygon points="2346.7,360.3 2349.9,358.5 2350.5,362.5 2347.3,364.3" fill="#f1f3f1"  stroke="#f1f3f1" stroke-width=".5"/>
<polygon points="2347.7,336.9 2351.0,335.2 2351.6,339.2 2348.3,340.9" fill="#f1f3f1"  stroke="#f1f3f1" stroke-width=".5"/>
<polygon points="2348.5,342.2 2351.8,340.4 2352.4,344.4 2349.1,346.2" fill="#f1f3f1"  stroke="#f1f3f1" stroke-width=".5"/>
<polygon points="2349.3,347.4 2352.6,345.7 2353.2,349.7 2349.9,351.4" fill="#f1f3f1"  stroke="#f1f3f1" stroke-width=".5"/>
<polygon points="2350.1,352.7 2353.4,350.9 2354.0,354.9 2350.7,356.7" fill="#f1f3f1"  stroke="#f1f3f1" stroke-width=".5"/>
<polygon points="2350.9,357.9 2354.2,356.2 2354.8,360.2 2351.5,361.9" fill="#f1f3f1"  stroke="#f1f3f1" stroke-width=".5"/>
<polygon points="2352.0,334.6 2355.2,332.8 2355.9,336.8 2352.6,338.6" fill="#f1f3f1"  stroke="#f1f3f1" stroke-width=".5"/>
<polygon points="2352.8,339.9 2356.0,338.1 2356.7,342.1 2353.4,343.8" fill="#f1f3f1"  stroke="#f1f3f1" stroke-width=".5"/>
<polygon points="2353.6,345.1 2356.8,343.4 2357.5,347.3 2354.2,349.1" fill="#f1f3f1"  stroke="#f1f3f1" stroke-width=".5"/>
<polygon points="2354.4,350.4 2357.7,348.6 2358.3,352.6 2355.0,354.3" fill="#f1f3f1"  stroke="#f1f3f1" stroke-width=".5"/>
<polygon points="2355.2,355.6 2358.5,353.9 2359.1,357.8 2355.8,359.6" fill="#f1f3f1"  stroke="#f1f3f1" stroke-width=".5"/>
<polygon points="2356.3,332.3 2359.5,330.5 2360.1,334.5 2356.9,336.3" fill="#f1f3f1"  stroke="#f1f3f1" stroke-width=".5"/>
<polygon points="2357.1,337.5 2360.3,335.8 2360.9,339.7 2357.7,341.5" fill="#f1f3f1"  stroke="#f1f3f1" stroke-width=".5"/>
<polygon points="2357.9,342.8 2361.1,341.0 2361.7,345.0 2358.5,346.8" fill="#f1f3f1"  stroke="#f1f3f1" stroke-width=".5"/>
<polygon points="2358.7,348.0 2361.9,346.3 2362.5,350.2 2359.3,352.0" fill="#f1f3f1"  stroke="#f1f3f1" stroke-width=".5"/>
<polygon points="2359.5,353.3 2362.7,351.5 2363.3,355.5 2360.1,357.3" fill="#f1f3f1"  stroke="#f1f3f1" stroke-width=".5"/>
<polygon points="2360.6,329.9 2363.8,328.2 2364.4,332.2 2361.2,333.9" fill="#f1f3f1"  stroke="#f1f3f1" stroke-width=".5"/>
<polygon points="2361.4,335.2 2364.6,333.4 2365.2,337.4 2362.0,339.2" fill="#f1f3f1"  stroke="#f1f3f1" stroke-width=".5"/>
<polygon points="2362.2,340.4 2365.4,338.7 2366.0,342.7 2362.8,344.4" fill="#f1f3f1"  stroke="#f1f3f1" stroke-width=".5"/>
<polygon points="2363.0,345.7 2366.2,343.9 2366.8,347.9 2363.6,349.7" fill="#f1f3f1"  stroke="#f1f3f1" stroke-width=".5"/>
<polygon points="2363.8,350.9 2367.0,349.2 2367.6,353.2 2364.4,354.9" fill="#f1f3f1"  stroke="#f1f3f1" stroke-width=".5"/>
<polygon points="2364.8,327.6 2368.1,325.8 2368.7,329.9 2365.4,331.6" fill="#f1f3f1"  stroke="#f1f3f1" stroke-width=".5"/>
<polygon points="2365.6,332.9 2368.9,331.1 2369.5,335.1 2366.2,336.9" fill="#f1f3f1"  stroke="#f1f3f1" stroke-width=".5"/>
<polygon points="2366.4,338.1 2369.7,336.3 2370.3,340.4 2367.0,342.1" fill="#f1f3f1"  stroke="#f1f3f1" stroke-width=".5"/>
<polygon points="2367.2,343.4 2370.5,341.6 2371.1,345.6 2367.8,347.4" fill="#f1f3f1"  stroke="#f1f3f1" stroke-width=".5"/>
<polygon points="2368.0,348.6 2371.3,346.8 2371.9,350.9 2368.6,352.6" fill="#f1f3f1"  stroke="#f1f3f1" stroke-width=".5"/>
<rect x="2457.7" y="193.1" width="6.2" height="20.0" fill="#dfe3e3"/>
<rect x="2454.0" y="183.1" width="13.8" height="10.6" fill="#6aa32a"/>
<rect x="2454.0" y="173.1" width="13.8" height="10.6" fill="#f2b51d"/>
<rect x="2454.0" y="161.9" width="13.8" height="11.9" fill="#e23a2a"/>
<rect x="2454.0" y="155.6" width="13.8" height="7.5" rx="2" fill="#f3f4f4"/>
<ellipse cx="2274.1" cy="548.5" rx="9.6" ry="10.4" fill="#23272e" />
<ellipse cx="2270.7" cy="545.8" rx="3.8" ry="5.2" fill="#c9cfca" />
<polygon points="2093.1,409.2 2202.8,348.3 2284.6,393.5 2174.9,454.4" fill="#74898e"  stroke="#74898e" stroke-width=".5"/>
<polygon points="2123.9,384.6 2198.0,342.9 2232.0,364.5 2176.4,420.1" fill="#566b70"  stroke="#566b70" stroke-width=".5"/>
<polygon points="2093.1,409.2 2174.9,454.4 2174.9,600.7 2093.1,555.4" fill="#9aa79f"  stroke="#9aa79f" stroke-width=".5"/>
<polygon points="2174.9,454.4 2284.6,393.5 2284.6,538.9 2174.9,600.7" fill="#d0d5d1"  stroke="#d0d5d1" stroke-width=".5"/>
<polygon points="2195.8,459.7 2265.4,421.4 2265.4,496.2 2195.8,534.5" fill="#5b7075"  stroke="#5b7075" stroke-width=".5"/>
<ellipse cx="2207.1" cy="465.8" rx="3.5" ry="3.8" fill="#8fa2a6" />
<ellipse cx="2208.0" cy="477.6" rx="3.5" ry="3.8" fill="#8fa2a6" />
<polygon points="2201.5,460.5 2207.1,457.4 2207.1,459.5 2201.5,462.6" fill="#c9d2d2"  stroke="#c9d2d2" stroke-width=".5"/>
<polygon points="2201.5,472.4 2207.1,469.2 2207.1,471.3 2201.5,474.5" fill="#c9d2d2"  stroke="#c9d2d2" stroke-width=".5"/>
<ellipse cx="2220.2" cy="458.8" rx="3.5" ry="3.8" fill="#8fa2a6" />
<ellipse cx="2221.0" cy="470.6" rx="3.5" ry="3.8" fill="#8fa2a6" />
<polygon points="2214.6,453.6 2220.2,450.4 2220.2,452.5 2214.6,455.7" fill="#c9d2d2"  stroke="#c9d2d2" stroke-width=".5"/>
<polygon points="2214.6,465.4 2220.2,462.3 2220.2,464.4 2214.6,467.5" fill="#c9d2d2"  stroke="#c9d2d2" stroke-width=".5"/>
<ellipse cx="2233.2" cy="451.0" rx="3.5" ry="3.8" fill="#8fa2a6" />
<ellipse cx="2234.1" cy="462.8" rx="3.5" ry="3.8" fill="#8fa2a6" />
<polygon points="2227.7,445.7 2233.2,442.6 2233.2,444.7 2227.7,447.8" fill="#c9d2d2"  stroke="#c9d2d2" stroke-width=".5"/>
<polygon points="2227.7,457.6 2233.2,454.4 2233.2,456.5 2227.7,459.7" fill="#c9d2d2"  stroke="#c9d2d2" stroke-width=".5"/>
<ellipse cx="2246.3" cy="444.0" rx="3.5" ry="3.8" fill="#8fa2a6" />
<ellipse cx="2247.2" cy="455.8" rx="3.5" ry="3.8" fill="#8fa2a6" />
<polygon points="2240.7,438.8 2246.3,435.6 2246.3,437.7 2240.7,440.9" fill="#c9d2d2"  stroke="#c9d2d2" stroke-width=".5"/>
<polygon points="2240.7,450.6 2246.3,447.5 2246.3,449.6 2240.7,452.7" fill="#c9d2d2"  stroke="#c9d2d2" stroke-width=".5"/>
<ellipse cx="2259.7" cy="436.7" rx="3.5" ry="3.8" fill="#8fa2a6" />
<ellipse cx="2260.6" cy="448.5" rx="3.5" ry="3.8" fill="#8fa2a6" />
<polygon points="2254.1,431.5 2259.7,428.3 2259.7,430.4 2254.1,433.6" fill="#c9d2d2"  stroke="#c9d2d2" stroke-width=".5"/>
<polygon points="2254.1,443.3 2259.7,440.2 2259.7,442.3 2254.1,445.4" fill="#c9d2d2"  stroke="#c9d2d2" stroke-width=".5"/>
<polygon points="2147.0,342.9 2216.5,364.5 2198.0,375.3 2147.0,358.3" fill="#e3e6e4"  stroke="#e3e6e4" stroke-width=".5"/>
<polygon points="2160.9,234.7 2175.8,234.7 2175.8,379.9 2160.9,379.9" fill="#cfd5d3"  stroke="#cfd5d3" stroke-width=".5"/>
<ellipse cx="2168.3" cy="234.7" rx="7.4" ry="4.3" fill="#e6e9e8" />
<ellipse cx="2168.3" cy="379.3" rx="7.4" ry="3.7" fill="#7a8d90" />
<polygon points="2116.1,281.1 2249.0,206.9 2252.0,211.6 2252.0,293.4 2122.3,369.1 2116.1,364.5" fill="#dfe3e3"  stroke="#dfe3e3" stroke-width=".5"/>
<polygon points="2116.1,281.1 2120.8,284.2 2122.3,369.1 2116.1,364.5" fill="#a9b4b4"  stroke="#a9b4b4" stroke-width=".5"/>
<polygon points="2122.3,285.7 2248.0,214.7 2248.0,290.3 2123.2,364.5" fill="#6aaefb"  stroke="#6aaefb" stroke-width=".5"/>
<polygon points="2131.0,286.6 2138.7,282.3 2138.7,290.3 2131.0,295.0" fill="#2f5be0"  stroke="#2f5be0" stroke-width=".5"/>
<polygon points="2142.7,280.2 2150.4,275.8 2150.4,283.9 2142.7,288.5" fill="#2f5be0"  stroke="#2f5be0" stroke-width=".5"/>
<polygon points="2131.0,299.3 2138.7,295.0 2138.7,303.0 2131.0,307.6" fill="#2f5be0"  stroke="#2f5be0" stroke-width=".5"/>
<polygon points="2142.7,292.8 2150.4,288.5 2150.4,296.5 2142.7,301.2" fill="#2f5be0"  stroke="#2f5be0" stroke-width=".5"/>
<polygon points="2131.0,312.0 2138.7,307.6 2138.7,315.7 2131.0,320.3" fill="#2f5be0"  stroke="#2f5be0" stroke-width=".5"/>
<polygon points="2142.7,305.5 2150.4,301.2 2150.4,309.2 2142.7,313.8" fill="#2f5be0"  stroke="#2f5be0" stroke-width=".5"/>
<polygon points="2131.0,324.6 2138.7,320.3 2138.7,328.3 2131.0,333.0" fill="#2f5be0"  stroke="#2f5be0" stroke-width=".5"/>
<polygon points="2131.0,337.3 2138.7,333.0 2138.7,341.0 2131.0,345.6" fill="#2f5be0"  stroke="#2f5be0" stroke-width=".5"/>
<polygon points="2188.7,387.6 2270.6,342.9 2278.3,375.3 2198.0,426.3" fill="#5b7075"  stroke="#5b7075" stroke-width=".5"/>
<polygon points="2194.2,390.2 2198.2,388.0 2199.2,392.6 2195.1,394.9" fill="#f1f3f1"  stroke="#f1f3f1" stroke-width=".5"/>
<polygon points="2195.4,396.4 2199.5,394.1 2200.4,398.8 2196.3,401.1" fill="#f1f3f1"  stroke="#f1f3f1" stroke-width=".5"/>
<polygon points="2196.6,402.6 2200.7,400.3 2201.6,405.0 2197.6,407.3" fill="#f1f3f1"  stroke="#f1f3f1" stroke-width=".5"/>
<polygon points="2197.9,408.7 2201.9,406.5 2202.9,411.2 2198.8,413.4" fill="#f1f3f1"  stroke="#f1f3f1" stroke-width=".5"/>
<polygon points="2199.1,414.9 2203.2,412.7 2204.1,417.4 2200.0,419.6" fill="#f1f3f1"  stroke="#f1f3f1" stroke-width=".5"/>
<polygon points="2199.5,387.2 2203.6,385.0 2204.5,389.7 2200.5,391.9" fill="#f1f3f1"  stroke="#f1f3f1" stroke-width=".5"/>
<polygon points="2200.7,393.4 2204.8,391.2 2205.8,395.9 2201.7,398.1" fill="#f1f3f1"  stroke="#f1f3f1" stroke-width=".5"/>
<polygon points="2202.0,399.6 2206.1,397.3 2207.0,402.0 2202.9,404.3" fill="#f1f3f1"  stroke="#f1f3f1" stroke-width=".5"/>
<polygon points="2203.2,405.8 2207.3,403.5 2208.2,408.2 2204.2,410.5" fill="#f1f3f1"  stroke="#f1f3f1" stroke-width=".5"/>
<polygon points="2204.4,412.0 2208.5,409.7 2209.5,414.4 2205.4,416.6" fill="#f1f3f1"  stroke="#f1f3f1" stroke-width=".5"/>
<polygon points="2204.9,384.3 2209.0,382.0 2209.9,386.7 2205.8,389.0" fill="#f1f3f1"  stroke="#f1f3f1" stroke-width=".5"/>
<polygon points="2206.1,390.5 2210.2,388.2 2211.1,392.9 2207.0,395.2" fill="#f1f3f1"  stroke="#f1f3f1" stroke-width=".5"/>
<polygon points="2207.4,396.6 2211.4,394.4 2212.4,399.1 2208.3,401.3" fill="#f1f3f1"  stroke="#f1f3f1" stroke-width=".5"/>
<polygon points="2208.6,402.8 2212.7,400.6 2213.6,405.3 2209.5,407.5" fill="#f1f3f1"  stroke="#f1f3f1" stroke-width=".5"/>
<polygon points="2209.8,409.0 2213.9,406.7 2214.8,411.4 2210.7,413.7" fill="#f1f3f1"  stroke="#f1f3f1" stroke-width=".5"/>
<polygon points="2210.2,381.3 2214.3,379.1 2215.3,383.8 2211.2,386.0" fill="#f1f3f1"  stroke="#f1f3f1" stroke-width=".5"/>
<polygon points="2211.5,387.5 2215.5,385.3 2216.5,390.0 2212.4,392.2" fill="#f1f3f1"  stroke="#f1f3f1" stroke-width=".5"/>
<polygon points="2212.7,393.7 2216.8,391.4 2217.7,396.1 2213.7,398.4" fill="#f1f3f1"  stroke="#f1f3f1" stroke-width=".5"/>
<polygon points="2213.9,399.8 2218.0,397.6 2219.0,402.3 2214.9,404.5" fill="#f1f3f1"  stroke="#f1f3f1" stroke-width=".5"/>
<polygon points="2215.2,406.0 2219.2,403.8 2220.2,408.5 2216.1,410.7" fill="#f1f3f1"  stroke="#f1f3f1" stroke-width=".5"/>
<polygon points="2215.6,378.4 2219.7,376.1 2220.6,380.8 2216.5,383.1" fill="#f1f3f1"  stroke="#f1f3f1" stroke-width=".5"/>
<polygon points="2216.8,384.6 2220.9,382.3 2221.8,387.0 2217.8,389.3" fill="#f1f3f1"  stroke="#f1f3f1" stroke-width=".5"/>
<polygon points="2218.1,390.7 2222.1,388.5 2223.1,393.2 2219.0,395.4" fill="#f1f3f1"  stroke="#f1f3f1" stroke-width=".5"/>
<polygon points="2219.3,396.9 2223.4,394.7 2224.3,399.4 2220.2,401.6" fill="#f1f3f1"  stroke="#f1f3f1" stroke-width=".5"/>
<polygon points="2220.5,403.1 2224.6,400.8 2225.5,405.5 2221.5,407.8" fill="#f1f3f1"  stroke="#f1f3f1" stroke-width=".5"/>
<polygon points="2220.9,375.4 2225.0,373.2 2226.0,377.9 2221.9,380.1" fill="#f1f3f1"  stroke="#f1f3f1" stroke-width=".5"/>
<polygon points="2222.2,381.6 2226.3,379.3 2227.2,384.0 2223.1,386.3" fill="#f1f3f1"  stroke="#f1f3f1" stroke-width=".5"/>
<polygon points="2223.4,387.8 2227.5,385.5 2228.4,390.2 2224.4,392.5" fill="#f1f3f1"  stroke="#f1f3f1" stroke-width=".5"/>
<polygon points="2224.6,393.9 2228.7,391.7 2229.7,396.4 2225.6,398.6" fill="#f1f3f1"  stroke="#f1f3f1" stroke-width=".5"/>
<polygon points="2225.9,400.1 2230.0,397.9 2230.9,402.6 2226.8,404.8" fill="#f1f3f1"  stroke="#f1f3f1" stroke-width=".5"/>
<polygon points="2226.3,372.4 2230.4,370.2 2231.3,374.9 2227.2,377.1" fill="#f1f3f1"  stroke="#f1f3f1" stroke-width=".5"/>
<polygon points="2227.6,378.6 2231.6,376.4 2232.6,381.1 2228.5,383.3" fill="#f1f3f1"  stroke="#f1f3f1" stroke-width=".5"/>
<polygon points="2228.8,384.8 2232.9,382.5 2233.8,387.2 2229.7,389.5" fill="#f1f3f1"  stroke="#f1f3f1" stroke-width=".5"/>
<polygon points="2230.0,391.0 2234.1,388.7 2235.0,393.4 2230.9,395.7" fill="#f1f3f1"  stroke="#f1f3f1" stroke-width=".5"/>
<polygon points="2231.3,397.2 2235.3,394.9 2236.3,399.6 2232.2,401.9" fill="#f1f3f1"  stroke="#f1f3f1" stroke-width=".5"/>
<polygon points="2231.7,369.5 2235.8,367.3 2236.7,372.0 2232.6,374.2" fill="#f1f3f1"  stroke="#f1f3f1" stroke-width=".5"/>
<polygon points="2232.9,375.7 2237.0,373.4 2237.9,378.1 2233.9,380.4" fill="#f1f3f1"  stroke="#f1f3f1" stroke-width=".5"/>
<polygon points="2234.2,381.9 2238.2,379.6 2239.2,384.3 2235.1,386.6" fill="#f1f3f1"  stroke="#f1f3f1" stroke-width=".5"/>
<polygon points="2235.4,388.0 2239.5,385.8 2240.4,390.5 2236.3,392.7" fill="#f1f3f1"  stroke="#f1f3f1" stroke-width=".5"/>
<polygon points="2236.6,394.2 2240.7,392.0 2241.6,396.7 2237.6,398.9" fill="#f1f3f1"  stroke="#f1f3f1" stroke-width=".5"/>
<polygon points="2237.0,366.5 2241.1,364.3 2242.1,369.0 2238.0,371.2" fill="#f1f3f1"  stroke="#f1f3f1" stroke-width=".5"/>
<polygon points="2238.3,372.7 2242.3,370.5 2243.3,375.2 2239.2,377.4" fill="#f1f3f1"  stroke="#f1f3f1" stroke-width=".5"/>
<polygon points="2239.5,378.9 2243.6,376.6 2244.5,381.3 2240.5,383.6" fill="#f1f3f1"  stroke="#f1f3f1" stroke-width=".5"/>
<polygon points="2240.7,385.1 2244.8,382.8 2245.8,387.5 2241.7,389.8" fill="#f1f3f1"  stroke="#f1f3f1" stroke-width=".5"/>
<polygon points="2242.0,391.3 2246.1,389.0 2247.0,393.7 2242.9,396.0" fill="#f1f3f1"  stroke="#f1f3f1" stroke-width=".5"/>
<polygon points="2242.4,363.6 2246.5,361.3 2247.4,366.0 2243.3,368.3" fill="#f1f3f1"  stroke="#f1f3f1" stroke-width=".5"/>
<polygon points="2243.6,369.8 2247.7,367.5 2248.6,372.2 2244.6,374.5" fill="#f1f3f1"  stroke="#f1f3f1" stroke-width=".5"/>
<polygon points="2244.9,375.9 2249.0,373.7 2249.9,378.4 2245.8,380.6" fill="#f1f3f1"  stroke="#f1f3f1" stroke-width=".5"/>
<polygon points="2246.1,382.1 2250.2,379.9 2251.1,384.6 2247.0,386.8" fill="#f1f3f1"  stroke="#f1f3f1" stroke-width=".5"/>
<polygon points="2247.4,388.3 2251.4,386.0 2252.4,390.7 2248.3,393.0" fill="#f1f3f1"  stroke="#f1f3f1" stroke-width=".5"/>
<polygon points="2247.8,360.6 2251.8,358.4 2252.8,363.1 2248.7,365.3" fill="#f1f3f1"  stroke="#f1f3f1" stroke-width=".5"/>
<polygon points="2249.0,366.8 2253.1,364.6 2254.0,369.3 2249.9,371.5" fill="#f1f3f1"  stroke="#f1f3f1" stroke-width=".5"/>
<polygon points="2250.2,373.0 2254.3,370.7 2255.3,375.4 2251.2,377.7" fill="#f1f3f1"  stroke="#f1f3f1" stroke-width=".5"/>
<polygon points="2251.5,379.2 2255.5,376.9 2256.5,381.6 2252.4,383.8" fill="#f1f3f1"  stroke="#f1f3f1" stroke-width=".5"/>
<polygon points="2252.7,385.3 2256.8,383.1 2257.7,387.8 2253.7,390.0" fill="#f1f3f1"  stroke="#f1f3f1" stroke-width=".5"/>
<polygon points="2253.1,357.7 2257.2,355.4 2258.1,360.1 2254.1,362.4" fill="#f1f3f1"  stroke="#f1f3f1" stroke-width=".5"/>
<polygon points="2254.4,363.9 2258.4,361.6 2259.4,366.3 2255.3,368.6" fill="#f1f3f1"  stroke="#f1f3f1" stroke-width=".5"/>
<polygon points="2255.6,370.0 2259.7,367.8 2260.6,372.5 2256.5,374.7" fill="#f1f3f1"  stroke="#f1f3f1" stroke-width=".5"/>
<polygon points="2256.8,376.2 2260.9,374.0 2261.8,378.7 2257.8,380.9" fill="#f1f3f1"  stroke="#f1f3f1" stroke-width=".5"/>
<polygon points="2258.1,382.4 2262.1,380.1 2263.1,384.8 2259.0,387.1" fill="#f1f3f1"  stroke="#f1f3f1" stroke-width=".5"/>
<polygon points="2258.5,354.7 2262.5,352.5 2263.5,357.2 2259.4,359.4" fill="#f1f3f1"  stroke="#f1f3f1" stroke-width=".5"/>
<polygon points="2259.7,360.9 2263.8,358.6 2264.7,363.3 2260.7,365.6" fill="#f1f3f1"  stroke="#f1f3f1" stroke-width=".5"/>
<polygon points="2260.9,367.1 2265.0,364.8 2266.0,369.5 2261.9,371.8" fill="#f1f3f1"  stroke="#f1f3f1" stroke-width=".5"/>
<polygon points="2262.2,373.3 2266.3,371.0 2267.2,375.7 2263.1,377.9" fill="#f1f3f1"  stroke="#f1f3f1" stroke-width=".5"/>
<polygon points="2263.4,379.4 2267.5,377.2 2268.4,381.9 2264.4,384.1" fill="#f1f3f1"  stroke="#f1f3f1" stroke-width=".5"/>
<polygon points="2263.8,351.8 2267.9,349.5 2268.8,354.2 2264.8,356.4" fill="#f1f3f1"  stroke="#f1f3f1" stroke-width=".5"/>
<polygon points="2265.1,357.9 2269.2,355.7 2270.1,360.4 2266.0,362.6" fill="#f1f3f1"  stroke="#f1f3f1" stroke-width=".5"/>
<polygon points="2266.3,364.1 2270.4,361.9 2271.3,366.5 2267.2,368.8" fill="#f1f3f1"  stroke="#f1f3f1" stroke-width=".5"/>
<polygon points="2267.6,370.3 2271.6,368.0 2272.6,372.7 2268.5,375.0" fill="#f1f3f1"  stroke="#f1f3f1" stroke-width=".5"/>
<polygon points="2268.8,376.5 2272.9,374.2 2273.8,378.9 2269.7,381.2" fill="#f1f3f1"  stroke="#f1f3f1" stroke-width=".5"/>
</g>
<g clip-path="url(#topclip)">
<circle cx="219" cy="1082" r="351" fill="#fff"/>
<g clip-path="url(#cbl)">
<circle cx="219" cy="1082" r="340" fill="#283e74"/>
<polygon points="171.4,747.7 185.3,744.6 228.6,814.1 247.1,828.0 222.4,832.6 213.1,812.5" fill="#c0cac9"  stroke="#c0cac9" stroke-width=".5"/>
<polygon points="185.3,744.6 197.7,743.1 247.1,809.5 268.7,823.4 247.1,828.0 228.6,814.1" fill="#eef0ef"  stroke="#eef0ef" stroke-width=".5"/>
<polygon points="0.0,1062.2 29.3,1057.0 115.8,1124.0 115.8,1199.7 0.0,1199.7" fill="#a6b8c2"  stroke="#a6b8c2" stroke-width=".5"/>
<polygon points="0.0,1062.2 29.3,1057.0 78.8,1087.6 0.0,1127.1" fill="#bccbd3"  stroke="#bccbd3" stroke-width=".5"/>
<polygon points="0.0,1127.1 78.8,1087.6 115.8,1114.7 115.8,1127.1 0.0,1184.2" fill="#9db0ba"  stroke="#9db0ba" stroke-width=".5"/>
<polygon points="0.0,1184.2 115.8,1127.1 115.8,1199.7 0.0,1199.7" fill="#c3ced0"  stroke="#c3ced0" stroke-width=".5"/>
<polygon points="126.6,1130.8 424.7,960.9 424.7,1125.6 291.9,1201.2 126.6,1201.2" fill="#c8d1d0"  stroke="#c8d1d0" stroke-width=".5"/>
<polygon points="115.8,1124.6 126.6,1130.8 126.6,1201.2 115.8,1201.2" fill="#a3afae"  stroke="#a3afae" stroke-width=".5"/>
<polyline points="137.5,1142.5 200.8,1107.0 200.8,1201.2 137.5,1201.2 137.5,1142.5" fill="none" stroke="#b4c0bf" stroke-width="1.00" />
<polyline points="209.4,1101.8 272.4,1065.3 272.4,1159.5 209.4,1192.0 209.4,1101.8" fill="none" stroke="#b4c0bf" stroke-width="1.00" />
<polyline points="281.7,1060.7 308.9,1045.3 308.9,1136.4 281.7,1151.8 281.7,1060.7" fill="none" stroke="#b4c0bf" stroke-width="1.00" />
<polyline points="378.4,1005.1 415.4,983.5 415.4,1073.1 378.4,1094.7 378.4,1005.1" fill="none" stroke="#b4c0bf" stroke-width="1.00" />
<polygon points="157.5,1136.4 180.7,1124.0 180.7,1132.4 157.5,1145.0" fill="#2a2f36" stroke="#2a2f36" stroke-width="1.5" stroke-linejoin="round"/>
<polygon points="229.2,1094.7 252.4,1082.3 252.4,1091.0 229.2,1103.3" fill="#2a2f36" stroke="#2a2f36" stroke-width="1.5" stroke-linejoin="round"/>
<polygon points="376.2,1009.1 396.0,999.8 396.0,1009.7 376.2,1019.0" fill="#2a2f36" stroke="#2a2f36" stroke-width="1.5" stroke-linejoin="round"/>
<polygon points="301.2,1053.0 304.9,1051.1 304.9,1062.2 301.2,1062.9" fill="#2a2f36" stroke="#2a2f36" stroke-width="1.5" stroke-linejoin="round"/>
<polygon points="126.6,1122.5 424.7,951.7 424.7,960.9 126.6,1130.8" fill="#2b3137"  stroke="#2b3137" stroke-width=".5"/>
<polygon points="4.6,1051.4 13.9,1065.3 29.3,1057.0 101.9,1110.1 126.6,1122.5 126.6,1130.8 101.9,1118.5 29.3,1065.3 13.9,1073.1 4.6,1059.2" fill="#23282d"  stroke="#23282d" stroke-width=".5"/>
<polygon points="4.6,1051.4 293.4,876.0 424.7,951.7 126.6,1122.5 101.9,1110.1 29.3,1057.0 13.9,1065.3" fill="#3a4248"  stroke="#3a4248" stroke-width=".5"/>
<polygon points="202.3,837.3 367.6,807.9 367.6,920.7 205.4,951.5" fill="#e3e7e7"  stroke="#e3e7e7" stroke-width=".5"/>
<polygon points="202.3,837.3 207.6,840.3 210.7,948.5 205.4,951.5" fill="#b9c3c3"  stroke="#b9c3c3" stroke-width=".5"/>
<polygon points="210.7,842.8 362.9,816.3 362.9,916.0 213.1,944.7" fill="#9cc2da"  stroke="#9cc2da" stroke-width=".5"/>
<polygon points="219.9,854.2 256.4,848.1 256.4,929.3 221.2,936.1" fill="#dbe8f2"  stroke="#dbe8f2" stroke-width=".5"/>
<polygon points="219.9,854.2 256.4,848.1 256.4,862.6 220.2,868.8" fill="#c3d5f0"  stroke="#c3d5f0" stroke-width=".5"/>
<polygon points="267.2,845.6 352.1,829.5 352.1,912.0 268.1,927.5" fill="#dbe8f2"  stroke="#dbe8f2" stroke-width=".5"/>
<polygon points="267.2,845.6 352.1,829.5 352.1,844.1 267.5,860.1" fill="#c3d5f0"  stroke="#c3d5f0" stroke-width=".5"/>
<polygon points="101.9,1013.3 142.7,982.4 135.9,1002.5 154.4,1013.3 120.5,1032.5 106.6,1023.2" fill="#c8d0d0"  stroke="#c8d0d0" stroke-width=".5"/>
<polygon points="106.6,1023.2 140.5,1005.6 154.4,1013.3 119.8,1032.5" fill="#f1f2f2"  stroke="#f1f2f2" stroke-width=".5"/>
<polygon points="57.1,927.5 193.1,851.2 195.8,854.2 195.8,951.5 60.2,1029.4 57.1,1027.2" fill="#e6e9e9"  stroke="#e6e9e9" stroke-width=".5"/>
<polygon points="60.2,930.5 193.1,855.8 193.1,949.4 60.2,1025.7" fill="#6aaefb"  stroke="#6aaefb" stroke-width=".5"/>
<polygon points="67.3,933.0 75.7,928.4 75.7,937.0 67.3,942.0" fill="#2f5be0"  stroke="#2f5be0" stroke-width=".5"/>
<polygon points="79.1,926.5 87.4,921.9 87.4,930.5 79.1,935.5" fill="#2f5be0"  stroke="#2f5be0" stroke-width=".5"/>
<polygon points="67.3,946.0 75.7,941.4 75.7,950.0 67.3,954.9" fill="#2f5be0"  stroke="#2f5be0" stroke-width=".5"/>
<polygon points="79.1,939.5 87.4,934.9 87.4,943.5 79.1,948.5" fill="#2f5be0"  stroke="#2f5be0" stroke-width=".5"/>
<polygon points="67.3,959.0 75.7,954.3 75.7,963.0 67.3,967.9" fill="#2f5be0"  stroke="#2f5be0" stroke-width=".5"/>
<polygon points="79.1,952.5 87.4,947.8 87.4,956.5 79.1,961.4" fill="#2f5be0"  stroke="#2f5be0" stroke-width=".5"/>
<polygon points="67.3,971.9 75.7,967.3 75.7,975.9 67.3,980.9" fill="#2f5be0"  stroke="#2f5be0" stroke-width=".5"/>
<polygon points="67.3,984.9 75.7,980.3 75.7,988.9 67.3,993.9" fill="#2f5be0"  stroke="#2f5be0" stroke-width=".5"/>
<polygon points="206.3,1043.1 308.9,981.9 308.9,985.0 206.3,1046.2" fill="#b8c0bf"  stroke="#b8c0bf" stroke-width=".5"/>
<polygon points="169.3,1022.7 271.8,960.9 308.9,981.9 206.3,1043.1" fill="#e9ebea"  stroke="#e9ebea" stroke-width=".5"/>
<polyline points="175.4,1026.1 278.0,964.4" fill="none" stroke="#59615f" stroke-width="0.70" />
<polyline points="181.6,1029.5 284.2,967.9" fill="none" stroke="#59615f" stroke-width="0.70" />
<polyline points="187.8,1032.9 290.3,971.4" fill="none" stroke="#59615f" stroke-width="0.70" />
<polyline points="194.0,1036.3 296.5,974.9" fill="none" stroke="#59615f" stroke-width="0.70" />
<polyline points="200.2,1039.7 302.7,978.4" fill="none" stroke="#59615f" stroke-width="0.70" />
<polyline points="176.1,1018.6 213.2,1039.0" fill="none" stroke="#59615f" stroke-width="0.70" />
<polyline points="182.9,1014.5 220.0,1034.9" fill="none" stroke="#59615f" stroke-width="0.70" />
<polyline points="189.8,1010.3 226.8,1030.9" fill="none" stroke="#59615f" stroke-width="0.70" />
<polyline points="196.6,1006.2 233.7,1026.8" fill="none" stroke="#59615f" stroke-width="0.70" />
<polyline points="203.4,1002.1 240.5,1022.7" fill="none" stroke="#59615f" stroke-width="0.70" />
<polyline points="210.3,998.0 247.4,1018.6" fill="none" stroke="#59615f" stroke-width="0.70" />
<polyline points="217.1,993.9 254.2,1014.5" fill="none" stroke="#59615f" stroke-width="0.70" />
<polyline points="224.0,989.8 261.0,1010.5" fill="none" stroke="#59615f" stroke-width="0.70" />
<polyline points="230.8,985.6 267.9,1006.4" fill="none" stroke="#59615f" stroke-width="0.70" />
<polyline points="237.6,981.5 274.7,1002.3" fill="none" stroke="#59615f" stroke-width="0.70" />
<polyline points="244.5,977.4 281.5,998.2" fill="none" stroke="#59615f" stroke-width="0.70" />
<polyline points="251.3,973.3 288.4,994.2" fill="none" stroke="#59615f" stroke-width="0.70" />
<polyline points="258.1,969.2 295.2,990.1" fill="none" stroke="#59615f" stroke-width="0.70" />
<polyline points="265.0,965.0 302.0,986.0" fill="none" stroke="#59615f" stroke-width="0.70" />
<polygon points="171.7,1022.7 175.4,1019.9 179.8,1022.1 176.1,1024.9" fill="#4f5755"  stroke="#4f5755" stroke-width=".5"/>
<polygon points="178.5,1018.4 182.2,1015.9 186.6,1017.8 182.9,1020.8" fill="#4f5755"  stroke="#4f5755" stroke-width=".5"/>
<polygon points="185.3,1014.4 189.0,1011.6 193.4,1013.7 189.7,1016.5" fill="#4f5755"  stroke="#4f5755" stroke-width=".5"/>
<polygon points="192.1,1010.3 195.8,1007.6 200.2,1009.7 196.4,1012.5" fill="#4f5755"  stroke="#4f5755" stroke-width=".5"/>
<polygon points="199.2,1006.0 202.9,1003.6 207.3,1005.4 203.6,1008.5" fill="#4f5755"  stroke="#4f5755" stroke-width=".5"/>
<polygon points="206.0,1002.0 209.7,999.2 214.1,1001.4 210.3,1004.2" fill="#4f5755"  stroke="#4f5755" stroke-width=".5"/>
<polygon points="212.8,998.0 216.5,995.2 220.8,997.4 217.1,1000.2" fill="#4f5755"  stroke="#4f5755" stroke-width=".5"/>
<polygon points="219.6,993.7 223.3,991.2 227.6,993.1 223.9,996.1" fill="#4f5755"  stroke="#4f5755" stroke-width=".5"/>
<polygon points="226.4,989.7 230.1,986.9 234.4,989.0 230.7,991.8" fill="#4f5755"  stroke="#4f5755" stroke-width=".5"/>
<polygon points="233.2,985.6 236.9,982.9 241.2,985.0 237.5,987.8" fill="#4f5755"  stroke="#4f5755" stroke-width=".5"/>
<polygon points="240.0,981.3 243.7,978.8 248.0,980.7 244.3,983.8" fill="#4f5755"  stroke="#4f5755" stroke-width=".5"/>
<polygon points="247.1,977.3 250.8,974.5 255.1,976.7 251.4,979.5" fill="#4f5755"  stroke="#4f5755" stroke-width=".5"/>
<polygon points="253.9,973.3 257.6,970.5 261.9,972.7 258.2,975.4" fill="#4f5755"  stroke="#4f5755" stroke-width=".5"/>
<polygon points="260.7,969.0 264.4,966.5 268.7,968.3 265.0,971.4" fill="#4f5755"  stroke="#4f5755" stroke-width=".5"/>
<polygon points="267.5,964.9 271.2,962.2 275.5,964.3 271.8,967.1" fill="#4f5755"  stroke="#4f5755" stroke-width=".5"/>
<polygon points="177.9,1026.1 181.6,1023.3 185.9,1025.5 182.2,1028.3" fill="#4f5755"  stroke="#4f5755" stroke-width=".5"/>
<polygon points="184.7,1022.1 188.4,1019.0 192.7,1021.5 189.0,1023.9" fill="#4f5755"  stroke="#4f5755" stroke-width=".5"/>
<polygon points="191.5,1017.8 195.2,1015.0 199.5,1017.1 195.8,1019.9" fill="#4f5755"  stroke="#4f5755" stroke-width=".5"/>
<polygon points="198.3,1013.7 202.0,1011.0 206.3,1013.1 202.6,1015.9" fill="#4f5755"  stroke="#4f5755" stroke-width=".5"/>
<polygon points="205.4,1009.7 209.1,1006.6 213.4,1009.1 209.7,1011.6" fill="#4f5755"  stroke="#4f5755" stroke-width=".5"/>
<polygon points="212.2,1005.4 215.9,1002.6 220.2,1004.8 216.5,1007.6" fill="#4f5755"  stroke="#4f5755" stroke-width=".5"/>
<polygon points="219.0,1001.4 222.7,998.6 227.0,1000.8 223.3,1003.6" fill="#4f5755"  stroke="#4f5755" stroke-width=".5"/>
<polygon points="225.8,997.4 229.5,994.3 233.8,996.8 230.1,999.2" fill="#4f5755"  stroke="#4f5755" stroke-width=".5"/>
<polygon points="232.6,993.1 236.3,990.3 240.6,992.4 236.9,995.2" fill="#4f5755"  stroke="#4f5755" stroke-width=".5"/>
<polygon points="239.4,989.0 243.1,986.3 247.4,988.4 243.7,991.2" fill="#4f5755"  stroke="#4f5755" stroke-width=".5"/>
<polygon points="246.2,985.0 249.9,981.9 254.2,984.4 250.5,986.9" fill="#4f5755"  stroke="#4f5755" stroke-width=".5"/>
<polygon points="253.3,980.7 257.0,977.9 261.3,980.1 257.6,982.9" fill="#4f5755"  stroke="#4f5755" stroke-width=".5"/>
<polygon points="260.1,976.7 263.8,973.9 268.1,976.1 264.4,978.8" fill="#4f5755"  stroke="#4f5755" stroke-width=".5"/>
<polygon points="266.9,972.7 270.6,969.6 274.9,972.0 271.2,974.5" fill="#4f5755"  stroke="#4f5755" stroke-width=".5"/>
<polygon points="273.7,968.3 277.4,965.6 281.7,967.7 278.0,970.5" fill="#4f5755"  stroke="#4f5755" stroke-width=".5"/>
<polygon points="184.1,1029.5 187.8,1026.7 192.1,1028.9 188.4,1031.7" fill="#4f5755"  stroke="#4f5755" stroke-width=".5"/>
<polygon points="190.9,1025.2 194.6,1022.7 198.9,1024.6 195.2,1027.6" fill="#4f5755"  stroke="#4f5755" stroke-width=".5"/>
<polygon points="197.7,1021.2 201.4,1018.4 205.7,1020.5 202.0,1023.3" fill="#4f5755"  stroke="#4f5755" stroke-width=".5"/>
<polygon points="204.5,1017.1 208.2,1014.4 212.5,1016.5 208.8,1019.3" fill="#4f5755"  stroke="#4f5755" stroke-width=".5"/>
<polygon points="211.6,1012.8 215.3,1010.3 219.6,1012.2 215.9,1015.3" fill="#4f5755"  stroke="#4f5755" stroke-width=".5"/>
<polygon points="218.4,1008.8 222.1,1006.0 226.4,1008.2 222.7,1011.0" fill="#4f5755"  stroke="#4f5755" stroke-width=".5"/>
<polygon points="225.2,1004.8 228.9,1002.0 233.2,1004.2 229.5,1006.9" fill="#4f5755"  stroke="#4f5755" stroke-width=".5"/>
<polygon points="232.0,1000.5 235.7,998.0 240.0,999.8 236.3,1002.9" fill="#4f5755"  stroke="#4f5755" stroke-width=".5"/>
<polygon points="238.8,996.4 242.5,993.7 246.8,995.8 243.1,998.6" fill="#4f5755"  stroke="#4f5755" stroke-width=".5"/>
<polygon points="245.6,992.4 249.3,989.7 253.6,991.8 249.9,994.6" fill="#4f5755"  stroke="#4f5755" stroke-width=".5"/>
<polygon points="252.4,988.1 256.1,985.6 260.4,987.5 256.7,990.6" fill="#4f5755"  stroke="#4f5755" stroke-width=".5"/>
<polygon points="259.5,984.1 263.2,981.3 267.5,983.5 263.8,986.3" fill="#4f5755"  stroke="#4f5755" stroke-width=".5"/>
<polygon points="266.3,980.1 270.0,977.3 274.3,979.5 270.6,982.2" fill="#4f5755"  stroke="#4f5755" stroke-width=".5"/>
<polygon points="273.1,975.8 276.8,973.3 281.1,975.1 277.4,978.2" fill="#4f5755"  stroke="#4f5755" stroke-width=".5"/>
<polygon points="279.8,971.7 283.6,969.0 287.9,971.1 284.2,973.9" fill="#4f5755"  stroke="#4f5755" stroke-width=".5"/>
<polygon points="190.3,1032.9 194.0,1030.1 198.3,1032.3 194.6,1035.1" fill="#4f5755"  stroke="#4f5755" stroke-width=".5"/>
<polygon points="197.1,1028.9 200.8,1025.8 205.1,1028.3 201.4,1030.7" fill="#4f5755"  stroke="#4f5755" stroke-width=".5"/>
<polygon points="203.9,1024.6 207.6,1021.8 211.9,1023.9 208.2,1026.7" fill="#4f5755"  stroke="#4f5755" stroke-width=".5"/>
<polygon points="210.7,1020.5 214.4,1017.8 218.7,1019.9 215.0,1022.7" fill="#4f5755"  stroke="#4f5755" stroke-width=".5"/>
<polygon points="217.8,1016.5 221.5,1013.4 225.8,1015.9 222.1,1018.4" fill="#4f5755"  stroke="#4f5755" stroke-width=".5"/>
<polygon points="224.6,1012.2 228.3,1009.4 232.6,1011.6 228.9,1014.4" fill="#4f5755"  stroke="#4f5755" stroke-width=".5"/>
<polygon points="231.4,1008.2 235.1,1005.4 239.4,1007.6 235.7,1010.3" fill="#4f5755"  stroke="#4f5755" stroke-width=".5"/>
<polygon points="238.1,1004.2 241.9,1001.1 246.2,1003.6 242.5,1006.0" fill="#4f5755"  stroke="#4f5755" stroke-width=".5"/>
<polygon points="244.9,999.8 248.6,997.1 253.0,999.2 249.3,1002.0" fill="#4f5755"  stroke="#4f5755" stroke-width=".5"/>
<polygon points="251.7,995.8 255.4,993.1 259.8,995.2 256.1,998.0" fill="#4f5755"  stroke="#4f5755" stroke-width=".5"/>
<polygon points="258.5,991.8 262.2,988.7 266.6,991.2 262.9,993.7" fill="#4f5755"  stroke="#4f5755" stroke-width=".5"/>
<polygon points="265.6,987.5 269.3,984.7 273.7,986.9 270.0,989.7" fill="#4f5755"  stroke="#4f5755" stroke-width=".5"/>
<polygon points="272.4,983.5 276.1,980.7 280.5,982.9 276.8,985.6" fill="#4f5755"  stroke="#4f5755" stroke-width=".5"/>
<polygon points="279.2,979.5 282.9,976.4 287.3,978.8 283.6,981.3" fill="#4f5755"  stroke="#4f5755" stroke-width=".5"/>
<polygon points="286.0,975.1 289.7,972.4 294.1,974.5 290.3,977.3" fill="#4f5755"  stroke="#4f5755" stroke-width=".5"/>
<polygon points="196.4,1036.3 200.2,1033.5 204.5,1035.7 200.8,1038.5" fill="#4f5755"  stroke="#4f5755" stroke-width=".5"/>
<polygon points="203.2,1032.0 206.9,1029.5 211.3,1031.4 207.6,1034.4" fill="#4f5755"  stroke="#4f5755" stroke-width=".5"/>
<polygon points="210.0,1028.0 213.7,1025.2 218.1,1027.3 214.4,1030.1" fill="#4f5755"  stroke="#4f5755" stroke-width=".5"/>
<polygon points="216.8,1023.9 220.5,1021.2 224.9,1023.3 221.2,1026.1" fill="#4f5755"  stroke="#4f5755" stroke-width=".5"/>
<polygon points="223.9,1019.6 227.6,1017.1 232.0,1019.0 228.3,1022.1" fill="#4f5755"  stroke="#4f5755" stroke-width=".5"/>
<polygon points="230.7,1015.6 234.4,1012.8 238.8,1015.0 235.1,1017.8" fill="#4f5755"  stroke="#4f5755" stroke-width=".5"/>
<polygon points="237.5,1011.6 241.2,1008.8 245.6,1011.0 241.9,1013.7" fill="#4f5755"  stroke="#4f5755" stroke-width=".5"/>
<polygon points="244.3,1007.3 248.0,1004.8 252.4,1006.6 248.6,1009.7" fill="#4f5755"  stroke="#4f5755" stroke-width=".5"/>
<polygon points="251.1,1003.2 254.8,1000.5 259.2,1002.6 255.4,1005.4" fill="#4f5755"  stroke="#4f5755" stroke-width=".5"/>
<polygon points="257.9,999.2 261.6,996.4 265.9,998.6 262.2,1001.4" fill="#4f5755"  stroke="#4f5755" stroke-width=".5"/>
<polygon points="264.7,994.9 268.4,992.4 272.7,994.3 269.0,997.4" fill="#4f5755"  stroke="#4f5755" stroke-width=".5"/>
<polygon points="271.8,990.9 275.5,988.1 279.8,990.3 276.1,993.1" fill="#4f5755"  stroke="#4f5755" stroke-width=".5"/>
<polygon points="278.6,986.9 282.3,984.1 286.6,986.3 282.9,989.0" fill="#4f5755"  stroke="#4f5755" stroke-width=".5"/>
<polygon points="285.4,982.5 289.1,980.1 293.4,981.9 289.7,985.0" fill="#4f5755"  stroke="#4f5755" stroke-width=".5"/>
<polygon points="292.2,978.5 295.9,975.8 300.2,977.9 296.5,980.7" fill="#4f5755"  stroke="#4f5755" stroke-width=".5"/>
<polygon points="202.6,1039.7 206.3,1036.9 210.7,1039.1 206.9,1041.9" fill="#4f5755"  stroke="#4f5755" stroke-width=".5"/>
<polygon points="209.4,1035.7 213.1,1032.6 217.5,1035.1 213.7,1037.5" fill="#4f5755"  stroke="#4f5755" stroke-width=".5"/>
<polygon points="216.2,1031.4 219.9,1028.6 224.2,1030.7 220.5,1033.5" fill="#4f5755"  stroke="#4f5755" stroke-width=".5"/>
<polygon points="223.0,1027.3 226.7,1024.6 231.0,1026.7 227.3,1029.5" fill="#4f5755"  stroke="#4f5755" stroke-width=".5"/>
<polygon points="230.1,1023.3 233.8,1020.2 238.1,1022.7 234.4,1025.2" fill="#4f5755"  stroke="#4f5755" stroke-width=".5"/>
<polygon points="236.9,1019.0 240.6,1016.2 244.9,1018.4 241.2,1021.2" fill="#4f5755"  stroke="#4f5755" stroke-width=".5"/>
<polygon points="243.7,1015.0 247.4,1012.2 251.7,1014.4 248.0,1017.1" fill="#4f5755"  stroke="#4f5755" stroke-width=".5"/>
<polygon points="250.5,1011.0 254.2,1007.9 258.5,1010.3 254.8,1012.8" fill="#4f5755"  stroke="#4f5755" stroke-width=".5"/>
<polygon points="257.3,1006.6 261.0,1003.9 265.3,1006.0 261.6,1008.8" fill="#4f5755"  stroke="#4f5755" stroke-width=".5"/>
<polygon points="264.1,1002.6 267.8,999.8 272.1,1002.0 268.4,1004.8" fill="#4f5755"  stroke="#4f5755" stroke-width=".5"/>
<polygon points="270.9,998.6 274.6,995.5 278.9,998.0 275.2,1000.5" fill="#4f5755"  stroke="#4f5755" stroke-width=".5"/>
<polygon points="278.0,994.3 281.7,991.5 286.0,993.7 282.3,996.4" fill="#4f5755"  stroke="#4f5755" stroke-width=".5"/>
<polygon points="284.8,990.3 288.5,987.5 292.8,989.7 289.1,992.4" fill="#4f5755"  stroke="#4f5755" stroke-width=".5"/>
<polygon points="291.6,986.3 295.3,983.2 299.6,985.6 295.9,988.1" fill="#4f5755"  stroke="#4f5755" stroke-width=".5"/>
<polygon points="298.4,981.9 302.1,979.2 306.4,981.3 302.7,984.1" fill="#4f5755"  stroke="#4f5755" stroke-width=".5"/>
</g>
<g clip-path="url(#cbl)">
<polygon points="308.9,972.7 327.4,954.1 369.1,940.2 376.8,957.2 375.3,1053.0 383.0,1201.2 349.0,1201.2 339.8,1124.0 327.4,1201.2 291.9,1201.2 304.2,1065.3 301.2,1025.2" fill="url(#gSuitB)" />
<polygon points="305.8,972.7 327.4,981.9 321.2,1040.6 268.7,1057.6 261.0,1054.5 262.5,1039.1 298.1,1025.2" fill="url(#gSuitB2)" />
<ellipse cx="257.9" cy="1043.7" rx="9.3" ry="9.3" fill="#2f8fb3" />
<ellipse cx="291.9" cy="1021.5" rx="6.8" ry="8.6" fill="#2f8fb3" />
<polygon points="315.1,917.1 322.8,952.6 352.1,953.5 359.8,938.7 355.2,923.2" fill="#e8b191"  stroke="#e8b191" stroke-width=".5"/>
<polygon points="321.2,914.0 361.4,923.2 358.3,941.8 350.6,946.4 332.0,943.3 322.8,931.0" fill="#1f2326"  stroke="#1f2326" stroke-width=".5"/>
<ellipse cx="337.3" cy="906.3" rx="27.2" ry="22.9" fill="#9fa7a7" />
<path d="M 310.4 909.3 C 318.1 929.4 355.2 934.1 364.5 914.0 C 358.3 926.3 321.2 923.2 310.4 909.3 Z" fill="#eef0f0" />
<polyline points="324.3,889.3 329.0,898.5" fill="none" stroke="#c9cece" stroke-width="1.20" />
<polyline points="336.7,886.2 338.2,897.0" fill="none" stroke="#c9cece" stroke-width="1.20" />
<polyline points="349.0,889.3 345.9,898.5" fill="none" stroke="#c9cece" stroke-width="1.20" />
<polyline points="318.1,898.5 324.3,906.3" fill="none" stroke="#c9cece" stroke-width="1.20" />
<polyline points="355.2,897.0 350.6,906.3" fill="none" stroke="#c9cece" stroke-width="1.20" />
</g>
</g>
<rect x="990.6" y="740.9" width="147.6" height="64.5" rx="2" fill="#2a3f75"/>
<text x="1064.4" y="788.4" font-size="43" fill="#fff" stroke="#2a3f75" stroke-width="1.1" paint-order="fill stroke" text-anchor="middle" textLength="88" lengthAdjust="spacingAndGlyphs">RCM</text>
<rect x="1274.4" y="579.3" width="147.6" height="64.5" rx="2" fill="#2a3f75"/>
<text x="1348.2" y="626.8" font-size="43" fill="#fff" stroke="#2a3f75" stroke-width="1.1" paint-order="fill stroke" text-anchor="middle" textLength="88" lengthAdjust="spacingAndGlyphs">RCM</text>
<rect x="1554.0" y="419.5" width="147.6" height="64.5" rx="2" fill="#2a3f75"/>
<text x="1627.8" y="467.0" font-size="43" fill="#fff" stroke="#2a3f75" stroke-width="1.1" paint-order="fill stroke" text-anchor="middle" textLength="88" lengthAdjust="spacingAndGlyphs">RCM</text>
<rect x="1830.0" y="254.0" width="147.6" height="64.5" rx="2" fill="#2a3f75"/>
<text x="1903.8" y="301.5" font-size="43" fill="#fff" stroke="#2a3f75" stroke-width="1.1" paint-order="fill stroke" text-anchor="middle" textLength="88" lengthAdjust="spacingAndGlyphs">RCM</text>
<rect x="192.0" y="529.0" width="147.6" height="64.5" rx="2" fill="#2a3f75"/>
<text x="265.8" y="576.5" font-size="43" fill="#fff" stroke="#2a3f75" stroke-width="1.1" paint-order="fill stroke" text-anchor="middle" textLength="88" lengthAdjust="spacingAndGlyphs">RCM</text>
<rect x="611.3" y="295.0" width="147.6" height="64.5" rx="2" fill="#2a3f75"/>
<text x="685.1" y="342.5" font-size="43" fill="#fff" stroke="#2a3f75" stroke-width="1.1" paint-order="fill stroke" text-anchor="middle" textLength="88" lengthAdjust="spacingAndGlyphs">RCM</text>
</g>
<g clip-path="url(#botclip)">
<rect x="0" y="1200" width="2560" height="1000" fill="#ffffff"/>
<polygon points="0.0,1700.0 1401.0,1700.0 1401.0,1877.0 1536.0,1945.0 2050.0,2200.0 0.0,2200.0" fill="#80bdfd"  stroke="#80bdfd" stroke-width=".5"/>
<polygon points="0.0,1200.0 1564.0,1200.0 1564.0,1958.0 1401.0,1877.0 1401.0,1790.0 916.0,1545.0 668.0,1470.0 0.0,1800.0" fill="#dfebf5"  stroke="#dfebf5" stroke-width=".5"/>
<polygon points="0.0,1200.1 199.3,1200.1 199.3,1566.6 0.0,1566.6" fill="#d9e5ee"  stroke="#d9e5ee" stroke-width=".5"/>
<polygon points="0.0,1200.1 111.5,1200.1 0.0,1257.5" fill="#c2d2dd"  stroke="#c2d2dd" stroke-width=".5"/>
<polygon points="0.0,1257.5 111.5,1200.1 135.1,1200.1 0.0,1272.7" fill="#cfdce6"  stroke="#cfdce6" stroke-width=".5"/>
<polygon points="59.1,1235.5 135.1,1200.1 179.1,1200.1 179.1,1532.8 59.1,1532.8" fill="#e2edf5"  stroke="#e2edf5" stroke-width=".5"/>
<polygon points="143.6,1200.1 179.1,1200.1 179.1,1242.3 143.6,1250.7" fill="#bccddb"  stroke="#bccddb" stroke-width=".5"/>
<polygon points="133.4,1274.4 179.1,1249.1 179.1,1298.0" fill="#bccddb"  stroke="#bccddb" stroke-width=".5"/>
<polygon points="0.0,1252.4 39.9,1252.4 39.9,1336.9 0.0,1348.7" fill="#bcd9e2"  stroke="#bcd9e2" stroke-width=".5"/>
<ellipse cx="8.4" cy="1279.5" rx="3.4" ry="4.1" fill="#d5e6ec" />
<ellipse cx="10.1" cy="1296.4" rx="3.4" ry="4.1" fill="#d5e6ec" />
<ellipse cx="21.3" cy="1276.8" rx="3.4" ry="4.1" fill="#d5e6ec" />
<ellipse cx="23.0" cy="1293.6" rx="3.4" ry="4.1" fill="#d5e6ec" />
<ellipse cx="34.1" cy="1274.1" rx="3.4" ry="4.1" fill="#d5e6ec" />
<ellipse cx="35.8" cy="1290.9" rx="3.4" ry="4.1" fill="#d5e6ec" />
<polygon points="0.0,1348.7 84.5,1303.1 92.9,1343.6 0.0,1404.5" fill="#e4ecf3"  stroke="#e4ecf3" stroke-width=".5"/>
<polygon points="82.8,1362.2 131.8,1387.6 131.8,1375.7 92.9,1355.5" fill="#b9d5e0"  stroke="#b9d5e0" stroke-width=".5"/>
<polygon points="0.0,1404.5 59.1,1374.1 59.1,1532.8 0.0,1532.8" fill="#d5e1eb"  stroke="#d5e1eb" stroke-width=".5"/>
<polygon points="133.4,1306.5 179.1,1298.0 179.1,1532.8 133.4,1532.8" fill="#dbe7f0"  stroke="#dbe7f0" stroke-width=".5"/>
<ellipse cx="40.5" cy="1524.4" rx="16.9" ry="16.2" fill="#c2d2dd" />
<ellipse cx="45.6" cy="1517.6" rx="10.1" ry="10.8" fill="#d9e5ee" />
<polygon points="158.1,1453.4 168.9,1427.4 179.7,1445.0" fill="#e6dfc6"  stroke="#e6dfc6" stroke-width=".5"/>
<polygon points="253.4,1200.1 635.1,1200.1 635.1,1566.6 253.4,1566.6" fill="#dfebf4"  stroke="#dfebf4" stroke-width=".5"/>
<polygon points="253.4,1200.1 358.1,1200.1 253.4,1259.2" fill="#cbd9e4"  stroke="#cbd9e4" stroke-width=".5"/>
<polygon points="253.4,1259.2 358.1,1200.1 557.4,1200.1 557.4,1215.3 435.8,1272.7 253.4,1370.7" fill="#d7e3ed"  stroke="#d7e3ed" stroke-width=".5"/>
<polygon points="425.0,1200.1 435.8,1200.1 435.8,1272.7 425.0,1277.8" fill="#cddae5"  stroke="#cddae5" stroke-width=".5"/>
<ellipse cx="540.5" cy="1235.5" rx="19.6" ry="20.3" fill="#c2d2dd" />
<ellipse cx="533.8" cy="1227.1" rx="10.8" ry="12.8" fill="#d7e3ed" />
<ellipse cx="442.6" cy="1293.0" rx="17.6" ry="19.6" fill="#c2d2dd" />
<ellipse cx="436.5" cy="1284.5" rx="10.1" ry="12.2" fill="#d7e3ed" />
<ellipse cx="381.1" cy="1333.5" rx="54.1" ry="32.1" fill="#c6d5df" />
<polygon points="327.0,1325.1 435.1,1325.1 435.1,1333.5 327.0,1333.5" fill="#c6d5df"  stroke="#c6d5df" stroke-width=".5"/>
<ellipse cx="381.1" cy="1325.1" rx="54.1" ry="32.1" fill="#c1d1dc" />
<path d="M 530.4 1360.5 C 533.8 1336.9 574.3 1333.5 594.6 1331.8 L 594.6 1355.5 C 574.3 1356.5 560.8 1360.5 560.8 1367.3 L 608.1 1377.4 L 594.6 1384.2 C 554.1 1380.8 530.4 1374.1 530.4 1360.5 Z" fill="#d3dfe9" />
<polygon points="586.1,1215.3 631.8,1215.3 631.8,1370.7 586.1,1353.8" fill="#d9e5ef"  stroke="#d9e5ef" stroke-width=".5"/>
<polygon points="198.8,1200.0 252.9,1200.0 252.9,1560.0 198.8,1560.0" fill="#365394"  stroke="#365394" stroke-width=".5"/>
<polygon points="634.4,1200.0 664.2,1200.0 664.2,1420.0 634.4,1420.0" fill="#365394"  stroke="#365394" stroke-width=".5"/>
<polygon points="664.2,1200.0 691.1,1200.0 691.1,1420.0 664.2,1420.0" fill="#283e74"  stroke="#283e74" stroke-width=".5"/>
<polygon points="1072.7,1200.0 1126.8,1200.0 1126.8,1480.0 1072.7,1480.0" fill="#283e74"  stroke="#283e74" stroke-width=".5"/>
<polygon points="1126.8,1200.0 1140.0,1200.0 1140.0,1480.0 1126.8,1480.0" fill="#d3e1ec"  stroke="#d3e1ec" stroke-width=".5"/>
<polygon points="1440.0,1228.0 1536.0,1273.0 1536.0,1945.0 1401.7,1877.2 1401.7,1854.0 1509.8,1906.2 1509.0,1284.6 1440.0,1250.0" fill="#283e74"  stroke="#283e74" stroke-width=".5"/>
<polygon points="1451.0,1200.0 1580.0,1200.0 1580.0,1266.0 1564.0,1258.0" fill="#ffffff"  stroke="#ffffff" stroke-width=".5"/>
<polygon points="1430.0,1200.0 1451.0,1200.0 1564.0,1258.0 1564.0,1958.0 1536.0,1945.0 1536.0,1273.0 1440.0,1228.0" fill="#f3f5f5"  stroke="#f3f5f5" stroke-width=".5"/>
<polygon points="0.0,1948.6 208.5,1850.2 384.2,1946.7 409.3,1966.0 0.0,2170.7" fill="#6fa9e8"  stroke="#6fa9e8" stroke-width=".5"/>
<polygon points="393.8,1776.8 800.0,1776.8 800.0,1927.4 644.8,1846.3 440.2,1948.6 393.8,1944.8" fill="#6fa9e8"  stroke="#6fa9e8" stroke-width=".5"/>
<polygon points="393.8,1691.9 509.7,1691.9 695.0,1792.3 695.0,1877.6 393.8,1877.6" fill="#6fa9e8"  stroke="#6fa9e8" stroke-width=".5"/>
<polygon points="760.0,1722.8 760.0,1900.4 812.1,1894.6 1099.8,1834.7 1207.9,1927.4 1207.9,1722.8" fill="#6fa9e8"  stroke="#6fa9e8" stroke-width=".5"/>
<polygon points="812.1,1894.6 1099.8,1834.7 1207.9,1927.4 945.3,2023.9 817.9,2070.3" fill="#6fa9e8"  stroke="#6fa9e8" stroke-width=".5"/>
<path d="M 775.4 2105.0 C 775.4 2070.3 875.8 2031.7 945.3 2023.9 L 1207.9 1927.4 L 1207.9 2095.4 L 1165.4 2105.0 C 1161.5 2128.2 1107.5 2159.1 1030.3 2193.8 C 953.1 2209.3 798.6 2147.5 775.4 2105.0 Z" fill="#6fa9e8" />
<polygon points="393.8,1751.8 509.7,1693.9 509.7,1707.4 393.8,1765.3" fill="#80bdfd"  stroke="#80bdfd" stroke-width=".5"/>
<polygon points="208.5,1846.3 293.4,1800.0 293.4,1776.8 384.2,1776.8 384.2,1946.7 208.5,1857.9" fill="#6b7f80"  stroke="#6b7f80" stroke-width=".5"/>
<polygon points="384.2,1749.8 393.8,1745.9 393.8,1942.1 384.2,1946.7" fill="#55696b"  stroke="#55696b" stroke-width=".5"/>
<polygon points="509.7,1691.9 668.0,1612.8 685.3,1634.0 685.3,1796.2 509.7,1707.4" fill="#6b7f80"  stroke="#6b7f80" stroke-width=".5"/>
<polygon points="685.3,1634.0 695.0,1639.8 695.0,1792.3 685.3,1796.2" fill="#55696b"  stroke="#55696b" stroke-width=".5"/>
<polygon points="695.0,1639.8 800.0,1691.9 800.0,1877.6 695.0,1792.3" fill="#eef1f1"  stroke="#eef1f1" stroke-width=".5"/>
<polyline points="695.0,1676.5 766.4,1641.7" fill="none" stroke="#d5dcdc" stroke-width="1.50" />
<polyline points="695.0,1713.2 766.4,1678.4" fill="none" stroke="#d5dcdc" stroke-width="1.50" />
<polyline points="695.0,1749.8 766.4,1715.1" fill="none" stroke="#d5dcdc" stroke-width="1.50" />
<polyline points="695.0,1786.5 766.4,1751.8" fill="none" stroke="#d5dcdc" stroke-width="1.50" />
<polygon points="766.4,1676.5 776.8,1682.3 776.8,1962.2 766.4,1956.4" fill="#55696b"  stroke="#55696b" stroke-width=".5"/>
<polygon points="776.8,1682.3 800.0,1670.7 800.0,1703.5 776.8,1715.1" fill="#45585a"  stroke="#45585a" stroke-width=".5"/>
<polygon points="777.4,1703.5 887.4,1761.4 887.4,2000.8 777.4,2000.8" fill="#eef1f1"  stroke="#eef1f1" stroke-width=".5"/>
<polyline points="777.4,1738.3 856.5,1778.8" fill="none" stroke="#d5dcdc" stroke-width="1.50" />
<polyline points="777.4,1773.0 856.5,1813.6" fill="none" stroke="#d5dcdc" stroke-width="1.50" />
<polyline points="777.4,1807.8 856.5,1848.3" fill="none" stroke="#d5dcdc" stroke-width="1.50" />
<polyline points="777.4,1842.5 856.5,1883.1" fill="none" stroke="#d5dcdc" stroke-width="1.50" />
<polyline points="777.4,1877.3 856.5,1917.8" fill="none" stroke="#d5dcdc" stroke-width="1.50" />
<polygon points="777.4,1691.9 922.2,1769.2 922.2,1784.6 777.4,1705.4" fill="#45585a"  stroke="#45585a" stroke-width=".5"/>
<polygon points="765.8,1672.6 777.4,1678.4 777.4,2000.8 765.8,1995.0" fill="#6b7f80"  stroke="#6b7f80" stroke-width=".5"/>
<polygon points="1207.9,1877.2 1401.7,1780.7 1401.7,2010.4 1217.5,2099.2 1207.9,2093.4" fill="#6b7f80"  stroke="#6b7f80" stroke-width=".5"/>
<polygon points="1207.9,1877.2 1217.5,1881.9 1217.5,2099.2 1207.9,2093.4" fill="#7d8f90"  stroke="#7d8f90" stroke-width=".5"/>
<polygon points="887.4,1738.2 1200.2,1881.1 1200.2,1892.7 1095.9,1842.5 1088.2,1836.7 987.8,1857.9 887.4,1800.0" fill="#6b7f80"  stroke="#6b7f80" stroke-width=".5"/>
<polygon points="0.0,1690.0 664.1,1358.0 916.2,1483.4 916.2,1491.2 142.9,1877.6 0.0,1948.7" fill="#6f8384"  stroke="#6f8384" stroke-width=".5"/>
<polygon points="0.0,1690.0 664.1,1358.0 916.2,1483.4 142.9,1869.9 0.0,1941.0" fill="#dfe4e4"  stroke="#dfe4e4" stroke-width=".5"/>
<polygon points="655.7,1622.5 1186.6,1881.2 1447.3,1750.0 1447.3,1759.0 1186.6,1890.2 655.7,1631.5" fill="#74888a"/>
<polygon points="916.4,1491.3 1447.3,1750.0 1186.6,1881.2 655.7,1622.5" fill="#dce1e1"/>
<g transform="translate(161.8,1666.8) scale(0.386,0.386)">
<path d="M-45 20 C-20 -5 60 -30 130 -25 C190 -22 230 -5 235 5 C190 5 120 20 80 60 C60 85 60 110 45 125 C10 125 -50 80 -45 20 Z" fill="#cfd8d8" transform="translate(0,6)"/>
<path d="M-45 20 C-20 -5 60 -30 130 -25 C190 -22 230 -5 235 5 C190 5 120 20 80 60 C60 85 60 110 45 125 C10 125 -50 80 -45 20 Z" fill="#eaeeee"/>
</g>
<polygon points="147.9,1630.2 175.7,1630.2 175.7,1665.7 147.9,1665.7" fill="#c5cfcf"  stroke="#c5cfcf" stroke-width=".5"/>
<ellipse cx="161.8" cy="1665.7" rx="13.9" ry="5.4" fill="#c5cfcf" />
<polygon points="42.5,1531.7 279.9,1415.9 281.9,1420.5 50.2,1535.6" fill="#d4dcdc"  stroke="#d4dcdc" stroke-width=".5"/>
<polygon points="42.5,1531.7 50.2,1535.6 50.2,1690.0 42.5,1686.1" fill="#c5cfcf"  stroke="#c5cfcf" stroke-width=".5"/>
<polygon points="50.2,1535.6 281.9,1420.5 281.9,1570.3 50.2,1690.0" fill="#e9edee"  stroke="#e9edee" stroke-width=".5"/>
<polygon points="64.9,1543.3 268.3,1441.0 268.3,1570.3 64.9,1672.6" fill="#ffffff"  stroke="#ffffff" stroke-width=".5"/>
<polygon points="69.5,1541.4 115.1,1518.2 115.1,1639.8 69.5,1663.0" fill="#d8e6f0"  stroke="#d8e6f0" stroke-width=".5"/>
<polygon points="218.1,1466.8 263.7,1443.7 263.7,1562.6 218.1,1585.8" fill="#d8e6f0"  stroke="#d8e6f0" stroke-width=".5"/>
<polyline points="129.3,1522.8 210.4,1482.3" fill="none" stroke="#e2e7e8" stroke-width="1.80" />
<polyline points="129.3,1530.5 210.4,1490.4" fill="none" stroke="#e2e7e8" stroke-width="1.80" />
<polyline points="129.3,1538.6 210.4,1498.1" fill="none" stroke="#e2e7e8" stroke-width="1.80" />
<polyline points="129.3,1546.8 210.4,1505.8" fill="none" stroke="#e2e7e8" stroke-width="1.80" />
<polyline points="129.3,1554.5 210.4,1513.9" fill="none" stroke="#e2e7e8" stroke-width="1.80" />
<polyline points="129.3,1562.2 210.4,1522.0" fill="none" stroke="#e2e7e8" stroke-width="1.80" />
<polyline points="129.3,1570.3 210.4,1529.8" fill="none" stroke="#e2e7e8" stroke-width="1.80" />
<polyline points="129.3,1578.4 210.4,1537.5" fill="none" stroke="#e2e7e8" stroke-width="1.80" />
<polyline points="129.3,1586.1 210.4,1545.6" fill="none" stroke="#e2e7e8" stroke-width="1.80" />
<polyline points="129.3,1593.9 210.4,1553.7" fill="none" stroke="#e2e7e8" stroke-width="1.80" />
<polyline points="129.3,1602.0 210.4,1561.4" fill="none" stroke="#e2e7e8" stroke-width="1.80" />
<polyline points="129.3,1610.1 210.4,1569.2" fill="none" stroke="#e2e7e8" stroke-width="1.80" />
<polyline points="129.3,1617.8 210.4,1577.3" fill="none" stroke="#e2e7e8" stroke-width="1.80" />
<polyline points="129.3,1625.5 210.4,1585.4" fill="none" stroke="#e2e7e8" stroke-width="1.80" />
<polyline points="129.3,1633.6 210.4,1593.1" fill="none" stroke="#e2e7e8" stroke-width="1.80" />
<polyline points="129.3,1641.7 210.4,1600.8" fill="none" stroke="#e2e7e8" stroke-width="1.80" />
<polygon points="64.9,1663.0 268.3,1561.4 268.3,1571.5 64.9,1672.6" fill="#94bfd8"  stroke="#94bfd8" stroke-width=".5"/>
<ellipse cx="71.4" cy="1667.6" rx="3.1" ry="3.1" fill="#ffffff" />
<g transform="translate(403.5,1545.2) scale(0.386,0.386)">
<path d="M-45 20 C-20 -5 60 -30 130 -25 C190 -22 230 -5 235 5 C190 5 120 20 80 60 C60 85 60 110 45 125 C10 125 -50 80 -45 20 Z" fill="#cfd8d8" transform="translate(0,6)"/>
<path d="M-45 20 C-20 -5 60 -30 130 -25 C190 -22 230 -5 235 5 C190 5 120 20 80 60 C60 85 60 110 45 125 C10 125 -50 80 -45 20 Z" fill="#eaeeee"/>
</g>
<polygon points="390.0,1508.5 417.0,1508.5 417.0,1544.4 390.0,1544.4" fill="#c5cfcf"  stroke="#c5cfcf" stroke-width=".5"/>
<ellipse cx="403.5" cy="1544.4" rx="13.5" ry="5.4" fill="#c5cfcf" />
<polygon points="284.6,1410.8 517.4,1294.2 523.9,1298.9 292.3,1415.9" fill="#d4dcdc"  stroke="#d4dcdc" stroke-width=".5"/>
<polygon points="284.6,1410.8 292.3,1415.9 292.3,1568.4 284.6,1563.7" fill="#c5cfcf"  stroke="#c5cfcf" stroke-width=".5"/>
<polygon points="292.3,1415.9 523.9,1300.0 523.9,1450.6 292.3,1568.4" fill="#e9edee"  stroke="#e9edee" stroke-width=".5"/>
<polygon points="306.9,1421.7 509.7,1319.3 509.7,1452.5 306.9,1552.9" fill="#94bfd8"  stroke="#94bfd8" stroke-width=".5"/>
<polygon points="319.7,1421.7 367.6,1397.7 367.6,1510.5 319.7,1535.6" fill="#d8e6f0"  stroke="#d8e6f0" stroke-width=".5"/>
<polygon points="319.7,1421.7 367.6,1397.7 367.6,1417.8 319.7,1441.7" fill="#c3d5f0"  stroke="#c3d5f0" stroke-width=".5"/>
<polygon points="384.2,1388.8 500.0,1330.9 500.0,1442.9 384.2,1502.7" fill="#d8e6f0"  stroke="#d8e6f0" stroke-width=".5"/>
<polygon points="384.2,1388.8 500.0,1330.9 500.0,1354.1 384.2,1412.0" fill="#c3d5f0"  stroke="#c3d5f0" stroke-width=".5"/>
<polygon points="274.9,1690.0 399.6,1628.2 451.0,1651.4 326.3,1717.0" fill="#dfe5e5"  stroke="#dfe5e5" stroke-width=".5"/>
<polygon points="274.9,1690.0 326.3,1717.0 326.3,1721.7 274.9,1694.6" fill="#b9c4c4"  stroke="#b9c4c4" stroke-width=".5"/>
<polygon points="326.3,1717.0 451.0,1651.4 451.0,1656.0 326.3,1721.7" fill="#c8d1d1"  stroke="#c8d1d1" stroke-width=".5"/>
<polygon points="293.6,1688.0 300.7,1684.4 306.8,1687.2 299.6,1690.8" fill="#f7f9f9"  stroke="#f7f9f9" stroke-width=".5"/>
<polygon points="301.5,1691.7 308.6,1688.1 314.7,1690.9 307.6,1694.5" fill="#f7f9f9"  stroke="#f7f9f9" stroke-width=".5"/>
<polygon points="309.5,1695.4 316.6,1691.8 322.7,1694.6 315.5,1698.2" fill="#f7f9f9"  stroke="#f7f9f9" stroke-width=".5"/>
<polygon points="317.5,1699.1 324.6,1695.5 330.6,1698.3 323.5,1701.9" fill="#f7f9f9"  stroke="#f7f9f9" stroke-width=".5"/>
<polygon points="325.4,1702.8 332.5,1699.2 338.6,1702.0 331.4,1705.6" fill="#f7f9f9"  stroke="#f7f9f9" stroke-width=".5"/>
<polygon points="303.0,1683.3 310.1,1679.7 316.1,1682.5 309.0,1686.1" fill="#f7f9f9"  stroke="#f7f9f9" stroke-width=".5"/>
<polygon points="310.9,1687.0 318.0,1683.4 324.1,1686.3 316.9,1689.8" fill="#f7f9f9"  stroke="#f7f9f9" stroke-width=".5"/>
<polygon points="318.9,1690.7 326.0,1687.1 332.0,1690.0 324.9,1693.5" fill="#f7f9f9"  stroke="#f7f9f9" stroke-width=".5"/>
<polygon points="326.8,1694.4 333.9,1690.8 340.0,1693.7 332.9,1697.2" fill="#f7f9f9"  stroke="#f7f9f9" stroke-width=".5"/>
<polygon points="334.8,1698.1 341.9,1694.6 348.0,1697.4 340.8,1700.9" fill="#f7f9f9"  stroke="#f7f9f9" stroke-width=".5"/>
<polygon points="312.3,1678.6 319.5,1675.1 325.5,1677.9 318.4,1681.4" fill="#f7f9f9"  stroke="#f7f9f9" stroke-width=".5"/>
<polygon points="320.3,1682.3 327.4,1678.8 333.4,1681.6 326.3,1685.1" fill="#f7f9f9"  stroke="#f7f9f9" stroke-width=".5"/>
<polygon points="328.2,1686.0 335.4,1682.5 341.4,1685.3 334.3,1688.8" fill="#f7f9f9"  stroke="#f7f9f9" stroke-width=".5"/>
<polygon points="336.2,1689.7 343.3,1686.2 349.3,1689.0 342.2,1692.5" fill="#f7f9f9"  stroke="#f7f9f9" stroke-width=".5"/>
<polygon points="344.1,1693.4 351.3,1689.9 357.3,1692.7 350.2,1696.3" fill="#f7f9f9"  stroke="#f7f9f9" stroke-width=".5"/>
<polygon points="321.7,1673.9 328.8,1670.4 334.9,1673.2 327.8,1676.8" fill="#f7f9f9"  stroke="#f7f9f9" stroke-width=".5"/>
<polygon points="329.7,1677.6 336.8,1674.1 342.8,1676.9 335.7,1680.5" fill="#f7f9f9"  stroke="#f7f9f9" stroke-width=".5"/>
<polygon points="337.6,1681.4 344.7,1677.8 350.8,1680.6 343.7,1684.2" fill="#f7f9f9"  stroke="#f7f9f9" stroke-width=".5"/>
<polygon points="345.6,1685.1 352.7,1681.5 358.7,1684.3 351.6,1687.9" fill="#f7f9f9"  stroke="#f7f9f9" stroke-width=".5"/>
<polygon points="353.5,1688.8 360.7,1685.2 366.7,1688.0 359.6,1691.6" fill="#f7f9f9"  stroke="#f7f9f9" stroke-width=".5"/>
<polygon points="331.1,1669.3 338.2,1665.7 344.2,1668.5 337.1,1672.1" fill="#f7f9f9"  stroke="#f7f9f9" stroke-width=".5"/>
<polygon points="339.0,1673.0 346.1,1669.4 352.2,1672.2 345.1,1675.8" fill="#f7f9f9"  stroke="#f7f9f9" stroke-width=".5"/>
<polygon points="347.0,1676.7 354.1,1673.1 360.2,1675.9 353.0,1679.5" fill="#f7f9f9"  stroke="#f7f9f9" stroke-width=".5"/>
<polygon points="354.9,1680.4 362.0,1676.8 368.1,1679.7 361.0,1683.2" fill="#f7f9f9"  stroke="#f7f9f9" stroke-width=".5"/>
<polygon points="362.9,1684.1 370.0,1680.5 376.1,1683.4 368.9,1686.9" fill="#f7f9f9"  stroke="#f7f9f9" stroke-width=".5"/>
<polygon points="340.4,1664.6 347.6,1661.1 353.6,1663.9 346.5,1667.4" fill="#f7f9f9"  stroke="#f7f9f9" stroke-width=".5"/>
<polygon points="348.4,1668.3 355.5,1664.8 361.6,1667.6 354.4,1671.1" fill="#f7f9f9"  stroke="#f7f9f9" stroke-width=".5"/>
<polygon points="356.3,1672.0 363.5,1668.5 369.5,1671.3 362.4,1674.8" fill="#f7f9f9"  stroke="#f7f9f9" stroke-width=".5"/>
<polygon points="364.3,1675.7 371.4,1672.2 377.5,1675.0 370.3,1678.5" fill="#f7f9f9"  stroke="#f7f9f9" stroke-width=".5"/>
<polygon points="372.2,1679.4 379.4,1675.9 385.4,1678.7 378.3,1682.2" fill="#f7f9f9"  stroke="#f7f9f9" stroke-width=".5"/>
<polygon points="349.8,1660.0 356.9,1656.4 363.0,1659.2 355.9,1662.8" fill="#f7f9f9"  stroke="#f7f9f9" stroke-width=".5"/>
<polygon points="357.8,1663.7 364.9,1660.1 370.9,1662.9 363.8,1666.5" fill="#f7f9f9"  stroke="#f7f9f9" stroke-width=".5"/>
<polygon points="365.7,1667.4 372.9,1663.8 378.9,1666.6 371.8,1670.2" fill="#f7f9f9"  stroke="#f7f9f9" stroke-width=".5"/>
<polygon points="373.7,1671.1 380.8,1667.5 386.8,1670.3 379.7,1673.9" fill="#f7f9f9"  stroke="#f7f9f9" stroke-width=".5"/>
<polygon points="381.6,1674.8 388.8,1671.2 394.8,1674.1 387.7,1677.6" fill="#f7f9f9"  stroke="#f7f9f9" stroke-width=".5"/>
<polygon points="359.2,1655.3 366.3,1651.7 372.4,1654.6 365.2,1658.1" fill="#f7f9f9"  stroke="#f7f9f9" stroke-width=".5"/>
<polygon points="367.1,1659.0 374.2,1655.4 380.3,1658.3 373.2,1661.8" fill="#f7f9f9"  stroke="#f7f9f9" stroke-width=".5"/>
<polygon points="375.1,1662.7 382.2,1659.2 388.3,1662.0 381.1,1665.5" fill="#f7f9f9"  stroke="#f7f9f9" stroke-width=".5"/>
<polygon points="383.1,1666.4 390.2,1662.9 396.2,1665.7 389.1,1669.2" fill="#f7f9f9"  stroke="#f7f9f9" stroke-width=".5"/>
<polygon points="391.0,1670.1 398.1,1666.6 404.2,1669.4 397.0,1672.9" fill="#f7f9f9"  stroke="#f7f9f9" stroke-width=".5"/>
<polygon points="368.6,1650.6 375.7,1647.1 381.7,1649.9 374.6,1653.4" fill="#f7f9f9"  stroke="#f7f9f9" stroke-width=".5"/>
<polygon points="376.5,1654.3 383.6,1650.8 389.7,1653.6 382.5,1657.1" fill="#f7f9f9"  stroke="#f7f9f9" stroke-width=".5"/>
<polygon points="384.5,1658.0 391.6,1654.5 397.6,1657.3 390.5,1660.8" fill="#f7f9f9"  stroke="#f7f9f9" stroke-width=".5"/>
<polygon points="392.4,1661.7 399.5,1658.2 405.6,1661.0 398.5,1664.6" fill="#f7f9f9"  stroke="#f7f9f9" stroke-width=".5"/>
<polygon points="400.4,1665.4 407.5,1661.9 413.6,1664.7 406.4,1668.3" fill="#f7f9f9"  stroke="#f7f9f9" stroke-width=".5"/>
<polygon points="377.9,1645.9 385.1,1642.4 391.1,1645.2 384.0,1648.8" fill="#f7f9f9"  stroke="#f7f9f9" stroke-width=".5"/>
<polygon points="385.9,1649.7 393.0,1646.1 399.0,1648.9 391.9,1652.5" fill="#f7f9f9"  stroke="#f7f9f9" stroke-width=".5"/>
<polygon points="393.8,1653.4 401.0,1649.8 407.0,1652.6 399.9,1656.2" fill="#f7f9f9"  stroke="#f7f9f9" stroke-width=".5"/>
<polygon points="401.8,1657.1 408.9,1653.5 414.9,1656.3 407.8,1659.9" fill="#f7f9f9"  stroke="#f7f9f9" stroke-width=".5"/>
<polygon points="409.7,1660.8 416.9,1657.2 422.9,1660.0 415.8,1663.6" fill="#f7f9f9"  stroke="#f7f9f9" stroke-width=".5"/>
<polygon points="387.3,1641.3 394.4,1637.7 400.5,1640.5 393.4,1644.1" fill="#f7f9f9"  stroke="#f7f9f9" stroke-width=".5"/>
<polygon points="395.3,1645.0 402.4,1641.4 408.4,1644.2 401.3,1647.8" fill="#f7f9f9"  stroke="#f7f9f9" stroke-width=".5"/>
<polygon points="403.2,1648.7 410.3,1645.1 416.4,1648.0 409.3,1651.5" fill="#f7f9f9"  stroke="#f7f9f9" stroke-width=".5"/>
<polygon points="411.2,1652.4 418.3,1648.8 424.3,1651.7 417.2,1655.2" fill="#f7f9f9"  stroke="#f7f9f9" stroke-width=".5"/>
<polygon points="419.1,1656.1 426.3,1652.5 432.3,1655.4 425.2,1658.9" fill="#f7f9f9"  stroke="#f7f9f9" stroke-width=".5"/>
<polygon points="445.9,1605.1 488.4,1586.9 529.7,1606.2 487.3,1626.3" fill="#9aacac" stroke="#9aacac" stroke-width="8" stroke-linejoin="round"/>
<ellipse cx="487.3" cy="1607.0" rx="16.2" ry="9.3" fill="#eef1f1" transform="rotate(15 487.3 1607.0)"/>
<polygon points="694.4,1607.0 806.3,1551.0 883.6,1589.6 771.6,1647.5" fill="#d5dcdc"  stroke="#d5dcdc" stroke-width=".5"/>
<polygon points="694.4,1607.0 771.6,1647.5 771.6,1653.3 694.4,1612.8" fill="#c3cccc"  stroke="#c3cccc" stroke-width=".5"/>
<polygon points="771.6,1647.5 883.6,1589.6 883.6,1595.4 771.6,1653.3" fill="#cbd3d3"  stroke="#cbd3d3" stroke-width=".5"/>
<polygon points="686.6,1599.3 802.5,1545.2 879.7,1586.9 767.7,1637.9" fill="#fafbfb"  stroke="#fafbfb" stroke-width=".5"/>
<polygon points="789.0,1552.2 802.5,1546.0 875.8,1584.6 862.3,1591.5" fill="#cfcfe8"  stroke="#cfcfe8" stroke-width=".5"/>
<polyline points="773.5,1560.7 843.0,1597.3" fill="none" stroke="#d0d6d6" stroke-width="2.20" />
<polyline points="762.7,1566.1 832.2,1602.7" fill="none" stroke="#d0d6d6" stroke-width="2.20" />
<polyline points="751.9,1571.5 821.4,1608.1" fill="none" stroke="#d0d6d6" stroke-width="2.20" />
<polyline points="741.1,1576.9 810.6,1613.6" fill="none" stroke="#d0d6d6" stroke-width="2.20" />
<polyline points="730.3,1582.3 799.8,1619.0" fill="none" stroke="#d0d6d6" stroke-width="2.20" />
<polyline points="719.5,1587.7 789.0,1624.4" fill="none" stroke="#d0d6d6" stroke-width="2.20" />
<polyline points="708.6,1593.1 778.1,1629.8" fill="none" stroke="#d0d6d6" stroke-width="2.20" />
<polyline points="697.8,1598.5 767.3,1635.2" fill="none" stroke="#d0d6d6" stroke-width="2.20" />
<polygon points="843.0,1556.8 912.5,1520.1 987.8,1556.8 919.1,1591.5" fill="#c3cdcd" stroke="#c3cdcd" stroke-width="10" stroke-linejoin="round"/>
<polygon points="843.0,1552.2 912.5,1515.5 987.8,1552.2 919.1,1586.9" fill="#e6eaea" stroke="#e6eaea" stroke-width="10" stroke-linejoin="round"/>
<polygon points="859.6,1550.4 873.3,1543.6 879.2,1546.7 865.5,1553.6" fill="#c9d1d1"  stroke="#c9d1d1" stroke-width=".5"/>
<polygon points="867.3,1554.6 881.0,1547.7 886.9,1550.9 873.2,1557.7" fill="#c9d1d1"  stroke="#c9d1d1" stroke-width=".5"/>
<polygon points="875.1,1558.7 888.8,1551.9 894.6,1555.0 880.9,1561.9" fill="#c9d1d1"  stroke="#c9d1d1" stroke-width=".5"/>
<polygon points="882.8,1562.9 896.5,1556.0 902.4,1559.2 888.6,1566.0" fill="#c9d1d1"  stroke="#c9d1d1" stroke-width=".5"/>
<polygon points="877.6,1541.4 891.3,1534.6 897.2,1537.7 883.5,1544.6" fill="#c9d1d1"  stroke="#c9d1d1" stroke-width=".5"/>
<polygon points="885.4,1545.6 899.0,1538.7 904.9,1541.9 891.2,1548.7" fill="#c9d1d1"  stroke="#c9d1d1" stroke-width=".5"/>
<polygon points="893.1,1549.7 906.8,1542.9 912.6,1546.0 899.0,1552.9" fill="#c9d1d1"  stroke="#c9d1d1" stroke-width=".5"/>
<polygon points="900.8,1553.9 914.5,1547.0 920.3,1550.2 906.7,1557.0" fill="#c9d1d1"  stroke="#c9d1d1" stroke-width=".5"/>
<polygon points="895.6,1532.4 909.3,1525.6 915.2,1528.7 901.5,1535.6" fill="#c9d1d1"  stroke="#c9d1d1" stroke-width=".5"/>
<polygon points="903.4,1536.6 917.1,1529.7 922.9,1532.9 909.2,1539.7" fill="#c9d1d1"  stroke="#c9d1d1" stroke-width=".5"/>
<polygon points="911.1,1540.7 924.8,1533.9 930.7,1537.0 916.9,1543.9" fill="#c9d1d1"  stroke="#c9d1d1" stroke-width=".5"/>
<polygon points="918.8,1544.9 932.5,1538.0 938.4,1541.2 924.7,1548.0" fill="#c9d1d1"  stroke="#c9d1d1" stroke-width=".5"/>
<polygon points="900.9,1570.3 960.8,1539.4 978.1,1549.1 918.3,1580.0" fill="#f3f5f5" stroke="#f3f5f5" stroke-width="9" stroke-linejoin="round"/>
<g transform="translate(1204.0,1675.7) scale(-0.3861,0.3861)">
<path d="M-45 20 C-20 -5 60 -30 130 -25 C190 -22 230 -5 235 5 C190 5 120 20 80 60 C60 85 60 110 45 125 C10 125 -50 80 -45 20 Z" fill="#cfd8d8" transform="translate(0,6)"/>
<path d="M-45 20 C-20 -5 60 -30 130 -25 C190 -22 230 -5 235 5 C190 5 120 20 80 60 C60 85 60 110 45 125 C10 125 -50 80 -45 20 Z" fill="#eaeeee"/>
</g>
<polygon points="1184.7,1641.7 1212.5,1641.7 1212.5,1677.3 1184.7,1677.3" fill="#c8d1d1"  stroke="#c8d1d1" stroke-width=".5"/>
<ellipse cx="1198.6" cy="1677.3" rx="13.9" ry="5.4" fill="#c8d1d1" />
<polygon points="1073.5,1421.7 1081.2,1417.8 1321.8,1534.8 1314.1,1538.6" fill="#d1d9d9"  stroke="#d1d9d9" stroke-width=".5"/>
<polygon points="1314.1,1538.6 1321.8,1534.8 1321.8,1702.0 1314.1,1705.4" fill="#c8d1d1"  stroke="#c8d1d1" stroke-width=".5"/>
<polygon points="1073.5,1421.7 1314.1,1538.6 1314.1,1705.4 1073.5,1587.7" fill="#e9edee"  stroke="#e9edee" stroke-width=".5"/>
<polygon points="1087.4,1441.0 1153.1,1472.6 1153.1,1519.7 1087.4,1488.1" fill="#6aaefb"  stroke="#6aaefb" stroke-width=".5"/>
<polygon points="1155.0,1473.8 1228.3,1508.9 1228.3,1556.0 1155.0,1520.9" fill="#94bfd8"  stroke="#94bfd8" stroke-width=".5"/>
<polygon points="1230.3,1510.1 1299.4,1543.3 1299.4,1590.4 1230.3,1557.2" fill="#2d55e0"  stroke="#2d55e0" stroke-width=".5"/>
<polygon points="1087.4,1490.4 1153.1,1522.0 1153.1,1569.2 1087.4,1537.5" fill="#94bfd8"  stroke="#94bfd8" stroke-width=".5"/>
<polygon points="1155.0,1523.2 1228.3,1558.3 1228.3,1605.4 1155.0,1570.3" fill="#85bdf6"  stroke="#85bdf6" stroke-width=".5"/>
<polygon points="1230.3,1559.5 1299.4,1592.7 1299.4,1639.8 1230.3,1606.6" fill="#94bfd8"  stroke="#94bfd8" stroke-width=".5"/>
<polygon points="1087.4,1539.8 1153.1,1571.5 1153.1,1618.6 1087.4,1586.9" fill="#2d55e0"  stroke="#2d55e0" stroke-width=".5"/>
<polygon points="1155.0,1572.6 1228.3,1607.8 1228.3,1654.9 1155.0,1619.7" fill="#7db6f3"  stroke="#7db6f3" stroke-width=".5"/>
<polygon points="1230.3,1608.9 1299.4,1642.1 1299.4,1689.2 1230.3,1656.0" fill="#2d55e0"  stroke="#2d55e0" stroke-width=".5"/>
<polygon points="1092.8,1449.5 1097.5,1451.8 1097.5,1456.4 1092.8,1454.1" fill="#2d55e0"  stroke="#2d55e0" stroke-width=".5"/>
<polygon points="1099.8,1452.5 1104.4,1454.9 1104.4,1459.5 1099.8,1457.2" fill="#2d55e0"  stroke="#2d55e0" stroke-width=".5"/>
<polygon points="1092.8,1457.2 1097.5,1459.5 1097.5,1464.1 1092.8,1461.8" fill="#2d55e0"  stroke="#2d55e0" stroke-width=".5"/>
<polygon points="1099.8,1460.3 1104.4,1462.6 1104.4,1467.2 1099.8,1464.9" fill="#2d55e0"  stroke="#2d55e0" stroke-width=".5"/>
<polygon points="1092.8,1464.9 1097.5,1467.2 1097.5,1471.9 1092.8,1469.5" fill="#2d55e0"  stroke="#2d55e0" stroke-width=".5"/>
<polygon points="1099.8,1468.0 1104.4,1470.3 1104.4,1474.9 1099.8,1472.6" fill="#2d55e0"  stroke="#2d55e0" stroke-width=".5"/>
<polygon points="1092.8,1472.6 1097.5,1474.9 1097.5,1479.6 1092.8,1477.3" fill="#2d55e0"  stroke="#2d55e0" stroke-width=".5"/>
<polygon points="1092.8,1480.3 1097.5,1482.7 1097.5,1487.3 1092.8,1485.0" fill="#2d55e0"  stroke="#2d55e0" stroke-width=".5"/>
<polygon points="1092.8,1502.7 1129.5,1520.5 1129.5,1561.0 1092.8,1543.3" fill="#d8e6f0"  stroke="#d8e6f0" stroke-width=".5"/>
<polygon points="1092.8,1502.7 1129.5,1520.5 1129.5,1525.9 1092.8,1508.1" fill="#c3d5f0"  stroke="#c3d5f0" stroke-width=".5"/>
<polygon points="1131.8,1522.0 1147.3,1529.4 1147.3,1568.0 1131.8,1560.7" fill="#d8e6f0"  stroke="#d8e6f0" stroke-width=".5"/>
<polygon points="1092.8,1551.0 1097.1,1552.9 1097.1,1557.2 1092.8,1555.3" fill="#ffffff"  stroke="#ffffff" stroke-width=".5"/>
<polygon points="1099.0,1553.7 1103.2,1555.6 1103.2,1559.9 1099.0,1558.0" fill="#ffffff"  stroke="#ffffff" stroke-width=".5"/>
<polygon points="1092.8,1558.3 1097.1,1560.3 1097.1,1564.5 1092.8,1562.6" fill="#ffffff"  stroke="#ffffff" stroke-width=".5"/>
<polygon points="1099.0,1561.0 1103.2,1563.0 1103.2,1567.2 1099.0,1565.3" fill="#ffffff"  stroke="#ffffff" stroke-width=".5"/>
<polygon points="1092.8,1565.7 1097.1,1567.6 1097.1,1571.9 1092.8,1569.9" fill="#ffffff"  stroke="#ffffff" stroke-width=".5"/>
<polygon points="1092.8,1573.0 1097.1,1574.9 1097.1,1579.2 1092.8,1577.3" fill="#ffffff"  stroke="#ffffff" stroke-width=".5"/>
<polygon points="1092.8,1580.3 1097.1,1582.3 1097.1,1586.5 1092.8,1584.6" fill="#ffffff"  stroke="#ffffff" stroke-width=".5"/>
<polygon points="1169.3,1495.0 1196.3,1508.1 1196.3,1535.2 1169.3,1522.0" fill="#d8e6f0"  stroke="#d8e6f0" stroke-width=".5"/>
<polygon points="1169.3,1495.0 1196.3,1508.1 1196.3,1511.2 1169.3,1498.1" fill="#2d55e0"  stroke="#2d55e0" stroke-width=".5"/>
<polygon points="1192.4,1518.2 1211.7,1527.5 1211.7,1550.6 1192.4,1541.4" fill="#ffffff"  stroke="#ffffff" stroke-width=".5"/>
<polygon points="1192.4,1518.2 1211.7,1527.5 1211.7,1530.5 1192.4,1521.3" fill="#2d55e0"  stroke="#2d55e0" stroke-width=".5"/>
<polygon points="1172.4,1545.2 1193.6,1555.6 1193.6,1578.8 1172.4,1568.4" fill="#ffffff"  stroke="#ffffff" stroke-width=".5"/>
<polygon points="1186.6,1566.4 1209.0,1577.3 1209.0,1600.4 1186.6,1589.6" fill="#2d55e0"  stroke="#2d55e0" stroke-width=".5"/>
<polygon points="1178.9,1593.5 1227.2,1616.6 1227.2,1654.1 1178.9,1630.9" fill="#94bfd8"  stroke="#94bfd8" stroke-width=".5"/>
<polygon points="1187.8,1599.3 1220.6,1615.1 1220.6,1649.8 1187.8,1634.0" fill="#ffffff"  stroke="#ffffff" stroke-width=".5"/>
<polygon points="1187.8,1599.3 1220.6,1615.1 1220.6,1618.6 1187.8,1602.7" fill="#2d55e0"  stroke="#2d55e0" stroke-width=".5"/>
<polygon points="1263.9,1539.4 1292.8,1553.3 1292.8,1580.3 1263.9,1566.4" fill="#85bdf6"  stroke="#85bdf6" stroke-width=".5"/>
<polygon points="1246.5,1581.9 1279.3,1597.7 1279.3,1636.3 1246.5,1620.5" fill="#ffffff"  stroke="#ffffff" stroke-width=".5"/>
<polygon points="1246.5,1581.9 1279.3,1597.7 1279.3,1601.2 1246.5,1585.4" fill="#2d55e0"  stroke="#2d55e0" stroke-width=".5"/>
<polygon points="1230.3,1608.9 1299.4,1642.1 1299.4,1649.8 1230.3,1616.6" fill="#85bdf6"  stroke="#85bdf6" stroke-width=".5"/>
<polygon points="997.5,1699.7 1053.4,1672.6 1180.8,1736.3 1124.9,1765.3" fill="#dfe5e5"  stroke="#dfe5e5" stroke-width=".5"/>
<polygon points="997.5,1699.7 1124.9,1765.3 1124.9,1769.9 997.5,1704.3" fill="#b9c4c4"  stroke="#b9c4c4" stroke-width=".5"/>
<polygon points="1124.9,1765.3 1180.8,1736.3 1180.8,1741.0 1124.9,1769.9" fill="#c8d1d1"  stroke="#c8d1d1" stroke-width=".5"/>
<polygon points="1017.8,1700.5 1024.0,1697.5 1031.4,1701.2 1025.2,1704.3" fill="#f7f9f9"  stroke="#f7f9f9" stroke-width=".5"/>
<polygon points="1027.5,1705.4 1033.7,1702.4 1041.2,1706.1 1034.9,1709.2" fill="#f7f9f9"  stroke="#f7f9f9" stroke-width=".5"/>
<polygon points="1037.3,1710.3 1043.5,1707.3 1050.9,1711.0 1044.7,1714.1" fill="#f7f9f9"  stroke="#f7f9f9" stroke-width=".5"/>
<polygon points="1047.0,1715.3 1053.2,1712.2 1060.7,1715.9 1054.4,1719.0" fill="#f7f9f9"  stroke="#f7f9f9" stroke-width=".5"/>
<polygon points="1056.8,1720.2 1063.0,1717.1 1070.4,1720.9 1064.2,1723.9" fill="#f7f9f9"  stroke="#f7f9f9" stroke-width=".5"/>
<polygon points="1066.5,1725.1 1072.8,1722.0 1080.2,1725.8 1073.9,1728.8" fill="#f7f9f9"  stroke="#f7f9f9" stroke-width=".5"/>
<polygon points="1076.3,1730.0 1082.5,1726.9 1089.9,1730.7 1083.7,1733.7" fill="#f7f9f9"  stroke="#f7f9f9" stroke-width=".5"/>
<polygon points="1086.1,1734.9 1092.3,1731.9 1099.7,1735.6 1093.5,1738.6" fill="#f7f9f9"  stroke="#f7f9f9" stroke-width=".5"/>
<polygon points="1095.8,1739.8 1102.0,1736.8 1109.5,1740.5 1103.2,1743.6" fill="#f7f9f9"  stroke="#f7f9f9" stroke-width=".5"/>
<polygon points="1105.6,1744.7 1111.8,1741.7 1119.2,1745.4 1113.0,1748.5" fill="#f7f9f9"  stroke="#f7f9f9" stroke-width=".5"/>
<polygon points="1115.3,1749.7 1121.5,1746.6 1129.0,1750.3 1122.7,1753.4" fill="#f7f9f9"  stroke="#f7f9f9" stroke-width=".5"/>
<polygon points="1025.9,1696.5 1032.2,1693.5 1039.6,1697.2 1033.4,1700.3" fill="#f7f9f9"  stroke="#f7f9f9" stroke-width=".5"/>
<polygon points="1035.7,1701.4 1041.9,1698.4 1049.3,1702.1 1043.1,1705.2" fill="#f7f9f9"  stroke="#f7f9f9" stroke-width=".5"/>
<polygon points="1045.4,1706.3 1051.7,1703.3 1059.1,1707.0 1052.9,1710.1" fill="#f7f9f9"  stroke="#f7f9f9" stroke-width=".5"/>
<polygon points="1055.2,1711.3 1061.4,1708.2 1068.8,1711.9 1062.6,1715.0" fill="#f7f9f9"  stroke="#f7f9f9" stroke-width=".5"/>
<polygon points="1065.0,1716.2 1071.2,1713.1 1078.6,1716.9 1072.4,1719.9" fill="#f7f9f9"  stroke="#f7f9f9" stroke-width=".5"/>
<polygon points="1074.7,1721.1 1081.0,1718.0 1088.4,1721.8 1082.1,1724.8" fill="#f7f9f9"  stroke="#f7f9f9" stroke-width=".5"/>
<polygon points="1084.5,1726.0 1090.7,1722.9 1098.1,1726.7 1091.9,1729.7" fill="#f7f9f9"  stroke="#f7f9f9" stroke-width=".5"/>
<polygon points="1094.2,1730.9 1100.5,1727.9 1107.9,1731.6 1101.7,1734.6" fill="#f7f9f9"  stroke="#f7f9f9" stroke-width=".5"/>
<polygon points="1104.0,1735.8 1110.2,1732.8 1117.6,1736.5 1111.4,1739.6" fill="#f7f9f9"  stroke="#f7f9f9" stroke-width=".5"/>
<polygon points="1113.7,1740.7 1120.0,1737.7 1127.4,1741.4 1121.2,1744.5" fill="#f7f9f9"  stroke="#f7f9f9" stroke-width=".5"/>
<polygon points="1123.5,1745.7 1129.7,1742.6 1137.1,1746.3 1130.9,1749.4" fill="#f7f9f9"  stroke="#f7f9f9" stroke-width=".5"/>
<polygon points="1034.1,1692.5 1040.3,1689.5 1047.8,1693.2 1041.5,1696.3" fill="#f7f9f9"  stroke="#f7f9f9" stroke-width=".5"/>
<polygon points="1043.9,1697.4 1050.1,1694.4 1057.5,1698.1 1051.3,1701.2" fill="#f7f9f9"  stroke="#f7f9f9" stroke-width=".5"/>
<polygon points="1053.6,1702.3 1059.8,1699.3 1067.3,1703.0 1061.0,1706.1" fill="#f7f9f9"  stroke="#f7f9f9" stroke-width=".5"/>
<polygon points="1063.4,1707.3 1069.6,1704.2 1077.0,1707.9 1070.8,1711.0" fill="#f7f9f9"  stroke="#f7f9f9" stroke-width=".5"/>
<polygon points="1073.2,1712.2 1079.4,1709.1 1086.8,1712.9 1080.6,1715.9" fill="#f7f9f9"  stroke="#f7f9f9" stroke-width=".5"/>
<polygon points="1082.9,1717.1 1089.2,1714.0 1096.6,1717.8 1090.3,1720.8" fill="#f7f9f9"  stroke="#f7f9f9" stroke-width=".5"/>
<polygon points="1092.7,1722.0 1098.9,1718.9 1106.3,1722.7 1100.1,1725.7" fill="#f7f9f9"  stroke="#f7f9f9" stroke-width=".5"/>
<polygon points="1102.4,1726.9 1108.6,1723.9 1116.1,1727.6 1109.8,1730.6" fill="#f7f9f9"  stroke="#f7f9f9" stroke-width=".5"/>
<polygon points="1112.2,1731.8 1118.4,1728.8 1125.8,1732.5 1119.6,1735.6" fill="#f7f9f9"  stroke="#f7f9f9" stroke-width=".5"/>
<polygon points="1121.9,1736.7 1128.1,1733.7 1135.6,1737.4 1129.3,1740.5" fill="#f7f9f9"  stroke="#f7f9f9" stroke-width=".5"/>
<polygon points="1131.7,1741.7 1137.9,1738.6 1145.3,1742.3 1139.1,1745.4" fill="#f7f9f9"  stroke="#f7f9f9" stroke-width=".5"/>
<polygon points="1042.3,1688.5 1048.5,1685.4 1055.9,1689.2 1049.7,1692.2" fill="#f7f9f9"  stroke="#f7f9f9" stroke-width=".5"/>
<polygon points="1052.0,1693.4 1058.3,1690.3 1065.7,1694.1 1059.5,1697.1" fill="#f7f9f9"  stroke="#f7f9f9" stroke-width=".5"/>
<polygon points="1061.8,1698.3 1068.0,1695.3 1075.4,1699.0 1069.2,1702.0" fill="#f7f9f9"  stroke="#f7f9f9" stroke-width=".5"/>
<polygon points="1071.6,1703.2 1077.8,1700.2 1085.2,1703.9 1079.0,1706.9" fill="#f7f9f9"  stroke="#f7f9f9" stroke-width=".5"/>
<polygon points="1081.4,1708.1 1087.6,1705.1 1095.0,1708.8 1088.8,1711.9" fill="#f7f9f9"  stroke="#f7f9f9" stroke-width=".5"/>
<polygon points="1091.1,1713.1 1097.3,1710.0 1104.7,1713.7 1098.5,1716.8" fill="#f7f9f9"  stroke="#f7f9f9" stroke-width=".5"/>
<polygon points="1100.8,1718.0 1107.1,1714.9 1114.5,1718.6 1108.3,1721.7" fill="#f7f9f9"  stroke="#f7f9f9" stroke-width=".5"/>
<polygon points="1110.6,1722.9 1116.8,1719.8 1124.2,1723.6 1118.0,1726.6" fill="#f7f9f9"  stroke="#f7f9f9" stroke-width=".5"/>
<polygon points="1120.4,1727.8 1126.6,1724.7 1134.0,1728.5 1127.8,1731.5" fill="#f7f9f9"  stroke="#f7f9f9" stroke-width=".5"/>
<polygon points="1130.1,1732.7 1136.3,1729.7 1143.8,1733.4 1137.5,1736.4" fill="#f7f9f9"  stroke="#f7f9f9" stroke-width=".5"/>
<polygon points="1139.9,1737.6 1146.1,1734.6 1153.5,1738.3 1147.3,1741.4" fill="#f7f9f9"  stroke="#f7f9f9" stroke-width=".5"/>
<polygon points="1050.5,1684.5 1056.7,1681.4 1064.1,1685.1 1057.9,1688.2" fill="#f7f9f9"  stroke="#f7f9f9" stroke-width=".5"/>
<polygon points="1060.2,1689.4 1066.5,1686.3 1073.9,1690.1 1067.7,1693.1" fill="#f7f9f9"  stroke="#f7f9f9" stroke-width=".5"/>
<polygon points="1070.0,1694.3 1076.2,1691.2 1083.6,1695.0 1077.4,1698.0" fill="#f7f9f9"  stroke="#f7f9f9" stroke-width=".5"/>
<polygon points="1079.8,1699.2 1086.0,1696.2 1093.4,1699.9 1087.2,1702.9" fill="#f7f9f9"  stroke="#f7f9f9" stroke-width=".5"/>
<polygon points="1089.5,1704.1 1095.8,1701.1 1103.2,1704.8 1096.9,1707.9" fill="#f7f9f9"  stroke="#f7f9f9" stroke-width=".5"/>
<polygon points="1099.3,1709.0 1105.5,1706.0 1112.9,1709.7 1106.7,1712.8" fill="#f7f9f9"  stroke="#f7f9f9" stroke-width=".5"/>
<polygon points="1109.0,1713.9 1115.3,1710.9 1122.7,1714.6 1116.4,1717.7" fill="#f7f9f9"  stroke="#f7f9f9" stroke-width=".5"/>
<polygon points="1118.8,1718.9 1125.0,1715.8 1132.4,1719.5 1126.2,1722.6" fill="#f7f9f9"  stroke="#f7f9f9" stroke-width=".5"/>
<polygon points="1128.6,1723.8 1134.8,1720.7 1142.2,1724.5 1136.0,1727.5" fill="#f7f9f9"  stroke="#f7f9f9" stroke-width=".5"/>
<polygon points="1138.3,1728.7 1144.5,1725.6 1152.0,1729.4 1145.7,1732.4" fill="#f7f9f9"  stroke="#f7f9f9" stroke-width=".5"/>
<polygon points="1148.1,1733.6 1154.3,1730.5 1161.7,1734.3 1155.5,1737.3" fill="#f7f9f9"  stroke="#f7f9f9" stroke-width=".5"/>
<polygon points="1173.1,1769.2 1217.5,1748.7 1261.2,1769.2 1215.6,1791.5" fill="#9aacac" stroke="#9aacac" stroke-width="8" stroke-linejoin="round"/>
<ellipse cx="1216.4" cy="1768.0" rx="16.2" ry="8.5" fill="#eef1f1" transform="rotate(-15 1216.4 1768.0)"/>
<path d="M1343.0 1711.2 v46.3 a24.3 11.6 0 0 0 48.6 0 v-46.3 z" fill="#a9b6b6"/>
<ellipse cx="1367.3" cy="1711.2" rx="24.3" ry="11.6" fill="#7e8e8e" />
<polyline points="1360.4,1713.2 1359.6,1680.3" fill="none" stroke="#5f7172" stroke-width="2.20" />
<polyline points="1368.1,1711.2 1370.0,1661.0" fill="none" stroke="#5f7172" stroke-width="2.20" />
<polyline points="1374.7,1713.2 1387.4,1663.0" fill="none" stroke="#5f7172" stroke-width="2.20" />
<polyline points="1378.5,1715.1 1402.9,1681.1" fill="none" stroke="#5f7172" stroke-width="2.20" />
<polyline points="1358.5,1709.3 1327.6,1682.3" fill="none" stroke="#f3f5f5" stroke-width="2.20" />
<ellipse cx="1367.3" cy="1715.9" rx="22.4" ry="8.5" fill="#a9b6b6" />
<ellipse cx="862.3" cy="2157.1" rx="10.8" ry="11.6" fill="#55696b" />
<ellipse cx="860.0" cy="2156.4" rx="5.4" ry="6.2" fill="#7a8c8d" />
<ellipse cx="999.4" cy="2159.1" rx="10.8" ry="11.6" fill="#55696b" />
<ellipse cx="997.1" cy="2158.3" rx="5.4" ry="6.2" fill="#7a8c8d" />
<ellipse cx="862.3" cy="2091.5" rx="10.8" ry="11.6" fill="#55696b" />
<ellipse cx="860.0" cy="2090.7" rx="5.4" ry="6.2" fill="#7a8c8d" />
<ellipse cx="997.5" cy="2087.6" rx="10.8" ry="11.6" fill="#55696b" />
<ellipse cx="995.1" cy="2086.9" rx="5.4" ry="6.2" fill="#7a8c8d" />
<polyline points="929.9,2109.7 858.5,2071.0" fill="none" stroke="#4b5d5f" stroke-width="11.00" />
<polyline points="929.9,2105.0 858.5,2066.4" fill="none" stroke="#7d8f90" stroke-width="11.00" />
<polyline points="929.9,2109.7 1003.2,2070.3" fill="none" stroke="#4b5d5f" stroke-width="11.00" />
<polyline points="929.9,2105.0 1003.2,2065.6" fill="none" stroke="#7d8f90" stroke-width="11.00" />
<polyline points="929.9,2113.5 858.5,2144.4" fill="none" stroke="#4b5d5f" stroke-width="11.00" />
<polyline points="929.9,2108.9 858.5,2139.8" fill="none" stroke="#7d8f90" stroke-width="11.00" />
<polyline points="929.9,2113.5 1005.2,2141.3" fill="none" stroke="#4b5d5f" stroke-width="11.00" />
<polyline points="929.9,2108.9 1005.2,2136.7" fill="none" stroke="#7d8f90" stroke-width="11.00" />
<polygon points="920.2,2031.7 939.5,2031.7 939.5,2106.9 920.2,2106.9" fill="#2a2f33"  stroke="#2a2f33" stroke-width=".5"/>
<polygon points="987.8,1857.9 1088.2,1836.7 1101.7,1879.2 1007.1,1886.9" fill="#5f7476"  stroke="#5f7476" stroke-width=".5"/>
<path d="M 816.0 1991.1 L 945.3 2000.8 L 1053.4 1954.4 C 1065.0 1962.2 1061.2 1977.6 1049.6 1983.4 L 953.1 2047.1 Z" fill="#4f6365" />
<path d="M 872.0 1746.0 L 887.4 1722.8 L 922.2 1738.3 C 941.5 1761.4 953.1 1792.3 960.8 1815.5 L 991.7 1885.0 L 941.5 1885.0 L 848.8 1792.3 Z" fill="#f6f8f8" />
<path d="M 883.6 1726.7 L 875.8 1746.0 L 914.4 1757.6 L 926.0 1738.3 L 949.2 1730.5 L 953.1 1676.5 L 929.9 1672.6 Z" fill="#f0dcb4" />
<path d="M 859.6 1672.6 C 864.2 1645.6 891.3 1626.3 929.9 1634.0 L 945.3 1637.9 L 939.5 1643.7 L 958.8 1657.2 L 951.1 1666.8 L 953.1 1677.3 L 941.5 1688.1 L 935.7 1703.5 L 929.9 1691.9 C 922.2 1707.4 910.6 1722.8 891.3 1728.6 C 875.8 1719.0 868.1 1699.7 866.2 1684.2 Z" fill="#33474a" />
<path d="M 792.8 1780.7 C 792.8 1769.1 802.5 1765.3 817.9 1767.2 L 906.7 1801.9 C 922.2 1807.7 929.9 1819.3 931.8 1830.9 L 958.8 1977.6 C 960.8 1989.2 956.9 1996.9 945.3 2000.8 L 816.0 1989.2 L 806.3 1896.5 Z" fill="#6b7f80" />
<path d="M 906.7 1801.9 C 922.2 1807.7 929.9 1819.3 931.8 1830.9 L 958.8 1977.6 C 960.8 1989.2 956.9 1996.9 945.3 2000.8 L 926.0 1842.5 C 924.1 1823.2 918.3 1811.6 906.7 1801.9 Z" fill="#7f9192" />
<path d="M 920.2 1757.5 C 941.5 1769.1 953.1 1792.3 960.8 1815.4 L 991.7 1875.3 L 1068.9 1873.4 L 1072.0 1901.2 L 985.9 1928.2 L 957.7 1987.3 L 929.9 1823.2 C 928.0 1800.0 924.1 1784.6 912.5 1778.8 Z" fill="#f6f8f8" />
<polygon points="929.9,1823.2 957.7,1987.3 985.9,1928.2 976.2,1915.8 953.1,1815.4" fill="#e9eded"  stroke="#e9eded" stroke-width=".5"/>
<path d="M 1065.0 2010.4 L 1157.7 1984.6 C 1165.4 1989.2 1165.4 2000.8 1157.7 2004.6 L 1068.9 2031.7 C 1063.1 2027.8 1063.1 2016.2 1065.0 2010.4 Z" fill="#2f3d2b" />
<path d="M 1094.0 2047.1 L 1184.7 2022.0 C 1196.3 2025.9 1196.3 2037.5 1188.6 2043.2 L 1099.8 2070.3 C 1092.8 2066.4 1092.8 2054.8 1094.0 2047.1 Z" fill="#2f3d2b" />
<path d="M 1068.9 1877.2 L 1122.9 1879.2 L 1140.3 2025.9 L 1094.0 2047.1 L 1084.3 1946.7 L 1057.3 1954.4 L 1043.8 1927.4 L 1070.8 1901.2 Z" fill="#82979a" />
<polygon points="1084.3,1946.7 1094.0,2047.1 1109.4,2039.4 1099.8,1942.9" fill="#74898c"  stroke="#74898c" stroke-width=".5"/>
<path d="M 1066.9 1880.3 C 1080.5 1876.4 1099.8 1877.2 1102.9 1883.0 C 1103.6 1890.7 1092.0 1894.6 1068.9 1894.6 Z" fill="#f0dcb4" />
<polygon points="945.3,2027.8 968.5,1962.2 1043.8,1924.3 1046.5,1933.2 977.0,1969.9 953.8,2036.3" fill="#dfe3e3"  stroke="#dfe3e3" stroke-width=".5"/>
<polygon points="945.3,2027.8 953.8,2036.3 951.1,2041.3 943.4,2033.6" fill="#b9c4c4"  stroke="#b9c4c4" stroke-width=".5"/>
</g>
<path d="M 1177.0 1294.8 C 1140.7 1294.8 1113.5 1268.7 1113.5 1232.4 C 1113.5 1198.4 1140.7 1173.4 1183.8 1172.3 C 1195.2 1134.9 1231.5 1107.6 1279.1 1107.6 C 1329.0 1107.6 1372.1 1139.4 1374.4 1189.3 C 1417.5 1193.8 1444.7 1214.2 1444.7 1243.7 C 1444.7 1273.2 1417.5 1294.8 1385.7 1294.8 Z" fill="#ffffff" stroke="#ffffff" stroke-width="28" stroke-linejoin="round"/>
<path d="M 1177.0 1294.8 C 1140.7 1294.8 1113.5 1268.7 1113.5 1232.4 C 1113.5 1198.4 1140.7 1173.4 1183.8 1172.3 C 1195.2 1134.9 1231.5 1107.6 1279.1 1107.6 C 1329.0 1107.6 1372.1 1139.4 1374.4 1189.3 C 1417.5 1193.8 1444.7 1214.2 1444.7 1243.7 C 1444.7 1273.2 1417.5 1294.8 1385.7 1294.8 Z" fill="#ffffff" stroke="#0e1112" stroke-width="8.2" stroke-linejoin="round"/>
<text x="1268.9" y="1247.8" font-size="65" font-weight="700" fill="#000" text-anchor="middle" textLength="118" lengthAdjust="spacingAndGlyphs">LAN</text>
<circle cx="1935.9" cy="1473.9" r="106" fill="none" stroke="#dfe4e4" stroke-width="3"/>
<circle cx="2262.3" cy="1473.9" r="106" fill="none" stroke="#dfe4e4" stroke-width="3"/>
<circle cx="1806.2" cy="1800.3" r="106" fill="none" stroke="#dfe4e4" stroke-width="3"/>
<circle cx="2079.1" cy="1800.3" r="106" fill="none" stroke="#dfe4e4" stroke-width="3"/>
<circle cx="2350.7" cy="1800.3" r="106" fill="none" stroke="#dfe4e4" stroke-width="3"/>
<rect x="1869.1" y="1424.1" width="39.3" height="19.5" rx="3.2" fill="none" stroke="#141414" stroke-width="3.6" stroke-linecap="round" stroke-linejoin="round"/>
<rect x="1971.6" y="1424.1" width="39.3" height="19.5" rx="3.2" fill="none" stroke="#141414" stroke-width="3.6" stroke-linecap="round" stroke-linejoin="round"/>
<rect x="1912.4" y="1466.2" width="39.3" height="19.9" rx="3.2" fill="none" stroke="#141414" stroke-width="3.6" stroke-linecap="round" stroke-linejoin="round"/>
<rect x="1971.6" y="1466.2" width="39.3" height="19.9" rx="3.2" fill="none" stroke="#141414" stroke-width="3.6" stroke-linecap="round" stroke-linejoin="round"/>
<rect x="1861.8" y="1509.6" width="39.3" height="19.9" rx="3.2" fill="none" stroke="#141414" stroke-width="3.6" stroke-linecap="round" stroke-linejoin="round"/>
<rect x="1971.6" y="1509.6" width="39.3" height="19.9" rx="3.2" fill="none" stroke="#141414" stroke-width="3.6" stroke-linecap="round" stroke-linejoin="round"/>
<polyline points="1908.4,1433.8 1932.7,1433.8 1932.7,1458.9" fill="none" stroke="#141414" stroke-width="3.6" stroke-linecap="round" stroke-linejoin="round"/>
<polyline points="1923.8,1450.8 1932.7,1459.7 1941.6,1450.8" fill="none" stroke="#141414" stroke-width="3.6" stroke-linecap="round" stroke-linejoin="round"/>
<polyline points="1991.1,1443.5 1991.1,1466.2" fill="none" stroke="#141414" stroke-width="3.6" stroke-linecap="round" stroke-linejoin="round"/>
<polyline points="1951.8,1475.9 1971.6,1475.9" fill="none" stroke="#141414" stroke-width="3.6" stroke-linecap="round" stroke-linejoin="round"/>
<polyline points="1991.1,1486.1 1991.1,1503.5" fill="none" stroke="#141414" stroke-width="3.6" stroke-linecap="round" stroke-linejoin="round"/>
<polyline points="1982.2,1495.4 1991.1,1504.3 2000.0,1495.4" fill="none" stroke="#141414" stroke-width="3.6" stroke-linecap="round" stroke-linejoin="round"/>
<polyline points="1932.7,1486.1 1932.7,1519.3 1909.6,1519.3" fill="none" stroke="#141414" stroke-width="3.6" stroke-linecap="round" stroke-linejoin="round"/>
<polyline points="1917.7,1510.4 1908.8,1519.3 1917.7,1528.2" fill="none" stroke="#141414" stroke-width="3.6" stroke-linecap="round" stroke-linejoin="round"/>
<rect x="2190.5" y="1419.2" width="144.7" height="100.1" rx="6.1" fill="none" stroke="#141414" stroke-width="3.6" stroke-linecap="round" stroke-linejoin="round"/>
<polyline points="2239.2,1419.2 2239.2,1519.3" fill="none" stroke="#141414" stroke-width="3.6" stroke-linecap="round" stroke-linejoin="round"/>
<polyline points="2287.4,1419.2 2287.4,1519.3" fill="none" stroke="#141414" stroke-width="3.6" stroke-linecap="round" stroke-linejoin="round"/>
<polyline points="2190.5,1452.4 2335.3,1452.4" fill="none" stroke="#141414" stroke-width="3.6" stroke-linecap="round" stroke-linejoin="round"/>
<polyline points="2190.5,1484.9 2335.3,1484.9" fill="none" stroke="#141414" stroke-width="3.6" stroke-linecap="round" stroke-linejoin="round"/>
<polyline points="2262.7,1519.3 2262.7,1540.8" fill="none" stroke="#141414" stroke-width="3.6" stroke-linecap="round" stroke-linejoin="round"/>
<polyline points="2244.1,1540.8 2281.8,1540.8" fill="none" stroke="#141414" stroke-width="3.6" stroke-linecap="round" stroke-linejoin="round"/>
<rect x="1740.5" y="1741.5" width="73.8" height="50.7" rx="4.1" fill="none" stroke="#141414" stroke-width="3.6" stroke-linecap="round" stroke-linejoin="round"/>
<polyline points="1777.0,1792.2 1777.0,1804.3" fill="none" stroke="#141414" stroke-width="3.6" stroke-linecap="round" stroke-linejoin="round"/>
<polyline points="1764.9,1804.3 1790.0,1804.3" fill="none" stroke="#141414" stroke-width="3.6" stroke-linecap="round" stroke-linejoin="round"/>
<rect x="1798.1" y="1808.4" width="73.8" height="50.7" rx="4.1" fill="none" stroke="#141414" stroke-width="3.6" stroke-linecap="round" stroke-linejoin="round"/>
<polyline points="1834.6,1859.1 1834.6,1871.2" fill="none" stroke="#141414" stroke-width="3.6" stroke-linecap="round" stroke-linejoin="round"/>
<polyline points="1821.6,1871.2 1846.8,1871.2" fill="none" stroke="#141414" stroke-width="3.6" stroke-linecap="round" stroke-linejoin="round"/>
<polyline points="1825.7,1764.6 1851.6,1764.6 1851.6,1792.2" fill="none" stroke="#141414" stroke-width="3.6" stroke-linecap="round" stroke-linejoin="round"/>
<polyline points="1842.7,1784.1 1851.6,1793.0 1860.5,1784.1" fill="none" stroke="#141414" stroke-width="3.6" stroke-linecap="round" stroke-linejoin="round"/>
<polyline points="1783.9,1847.7 1758.4,1847.7 1758.4,1820.5" fill="none" stroke="#141414" stroke-width="3.6" stroke-linecap="round" stroke-linejoin="round"/>
<polyline points="1749.5,1828.6 1758.4,1819.7 1767.3,1828.6" fill="none" stroke="#141414" stroke-width="3.6" stroke-linecap="round" stroke-linejoin="round"/>
<rect x="2008.1" y="1747.6" width="141.9" height="89.2" rx="6.1" fill="none" stroke="#141414" stroke-width="3.6" stroke-linecap="round" stroke-linejoin="round"/>
<polyline points="2079.1,1836.8 2079.1,1860.3" fill="none" stroke="#141414" stroke-width="3.6" stroke-linecap="round" stroke-linejoin="round"/>
<polyline points="2057.6,1860.3 2100.9,1860.3" fill="none" stroke="#141414" stroke-width="3.6" stroke-linecap="round" stroke-linejoin="round"/>
<path d="M2043.4 1792.2 C2063.6 1769.9 2094.9 1769.9 2115.1 1792.2 C2094.9 1814.5 2063.6 1814.5 2043.4 1792.2 Z" fill="none" stroke="#141414" stroke-width="3.6" stroke-linecap="round" stroke-linejoin="round"/>
<circle cx="2079.1" cy="1788.1" r="13.5" fill="none" stroke="#141414" stroke-width="3.6" stroke-linecap="round" stroke-linejoin="round"/>
<path d="M2078.1 1791.1 a7 7 0 0 0 7 -7" fill="none" stroke="#141414" stroke-width="3.6" stroke-linecap="round" stroke-linejoin="round"/>
<circle cx="2362.4" cy="1789.3" r="48.5" fill="none" stroke="#141414" stroke-width="3.6" stroke-linecap="round" stroke-linejoin="round"/>
<polyline points="2327.2,1825.4 2288.6,1861.1" fill="none" stroke="#141414" stroke-width="3.6" stroke-linecap="round" stroke-linejoin="round"/>
<text x="2361.9" y="1803.3" font-size="39" font-weight="400" fill="#141414" stroke="#141414" stroke-width="1.1" text-anchor="middle" textLength="72" lengthAdjust="spacingAndGlyphs">OCR</text>
<text x="1936.5" y="1641.0" font-size="40.3" font-weight="300" fill="#1a1a1a" text-anchor="middle" style="font-family:'Liberation Sans','Noto Sans CJK TC',sans-serif">流程自動化</text>
<text x="1806.0" y="1981.5" font-size="40.3" font-weight="300" fill="#1a1a1a" text-anchor="middle" style="font-family:'Liberation Sans','Noto Sans CJK TC',sans-serif">遠端管理</text>
<text x="2080.0" y="1981.5" font-size="40.3" font-weight="300" fill="#1a1a1a" text-anchor="middle" style="font-family:'Liberation Sans','Noto Sans CJK TC',sans-serif">遠端監控</text>
<text x="2350.5" y="1981.5" font-size="40.3" font-weight="300" fill="#1a1a1a" text-anchor="middle" style="font-family:'Liberation Sans','Noto Sans CJK TC',sans-serif">光學辨識</text>
<text x="2103" y="1641" font-size="40.3" font-weight="300" fill="#1a1a1a" style="font-family:'Liberation Sans','Noto Sans CJK TC',sans-serif">多視圖</text>
<text x="2229" y="1641" font-size="40.3" font-weight="400" fill="#1a1a1a" stroke="#ffffff" stroke-width="1" paint-order="fill stroke" textLength="192" lengthAdjust="spacingAndGlyphs">(Panel Array)</text>
<text x="87" y="2152.5" font-size="72.3" font-weight="900" fill="#2a4072" style="font-family:'Liberation Sans','Noto Sans CJK TC',sans-serif">管理者辦公室</text>
<text x="2146.5" y="1144.5" font-size="72" font-weight="900" fill="#2a4072" style="font-family:'Liberation Sans','Noto Sans CJK TC',sans-serif">產線無塵室</text>
<text x="2276" y="702" font-size="47.4" font-weight="500" fill="#000" style="font-family:'Liberation Sans','Noto Sans CJK TC',sans-serif">管理站台</text>
<text x="588.5" y="1045" font-size="47.4" font-weight="500" fill="#000" style="font-family:'Liberation Sans','Noto Sans CJK TC',sans-serif">管理站台</text>
</svg></body></html>
